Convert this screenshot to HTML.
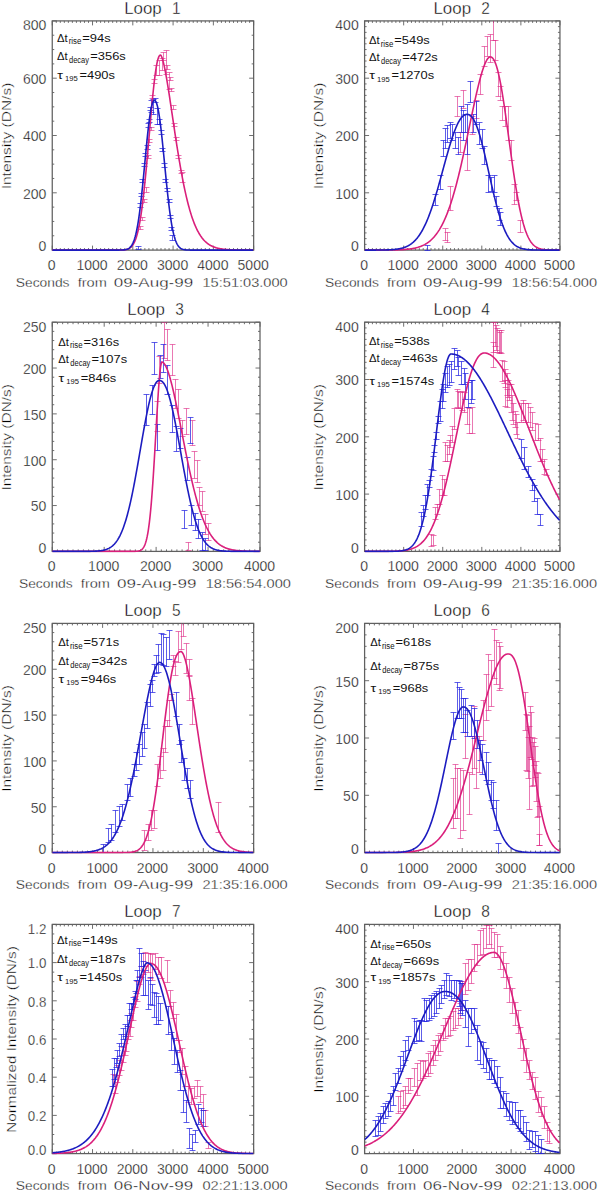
<!DOCTYPE html><html><head><meta charset="utf-8"><title>Loops</title><style>html,body{margin:0;padding:0;background:#fff;overflow:hidden}svg{display:block}text{font-family:"Liberation Sans",sans-serif}</style></head><body>
<svg width="600" height="1190" viewBox="0 0 600 1190">
<rect width="600" height="1190" fill="#fff"/>
<g><clipPath id="c1"><rect x="52.25" y="20.9" width="201.4" height="230.2"/></clipPath><rect x="52.25" y="20.9" width="201.4" height="229.2" fill="none" stroke="#606060" stroke-width="1.25"/><path d="M52.25,250.1v-4.5M52.25,20.9v4.5M56.28,250.1v-2.0M56.28,20.9v2.0M60.31,250.1v-2.0M60.31,20.9v2.0M64.33,250.1v-2.0M64.33,20.9v2.0M68.36,250.1v-2.0M68.36,20.9v2.0M72.39,250.1v-2.0M72.39,20.9v2.0M76.42,250.1v-2.0M76.42,20.9v2.0M80.45,250.1v-2.0M80.45,20.9v2.0M84.47,250.1v-2.0M84.47,20.9v2.0M88.5,250.1v-2.0M88.5,20.9v2.0M92.53,250.1v-4.5M92.53,20.9v4.5M96.56,250.1v-2.0M96.56,20.9v2.0M100.59,250.1v-2.0M100.59,20.9v2.0M104.61,250.1v-2.0M104.61,20.9v2.0M108.64,250.1v-2.0M108.64,20.9v2.0M112.67,250.1v-2.0M112.67,20.9v2.0M116.7,250.1v-2.0M116.7,20.9v2.0M120.73,250.1v-2.0M120.73,20.9v2.0M124.75,250.1v-2.0M124.75,20.9v2.0M128.78,250.1v-2.0M128.78,20.9v2.0M132.81,250.1v-4.5M132.81,20.9v4.5M136.84,250.1v-2.0M136.84,20.9v2.0M140.87,250.1v-2.0M140.87,20.9v2.0M144.89,250.1v-2.0M144.89,20.9v2.0M148.92,250.1v-2.0M148.92,20.9v2.0M152.95,250.1v-2.0M152.95,20.9v2.0M156.98,250.1v-2.0M156.98,20.9v2.0M161.01,250.1v-2.0M161.01,20.9v2.0M165.03,250.1v-2.0M165.03,20.9v2.0M169.06,250.1v-2.0M169.06,20.9v2.0M173.09,250.1v-4.5M173.09,20.9v4.5M177.12,250.1v-2.0M177.12,20.9v2.0M181.15,250.1v-2.0M181.15,20.9v2.0M185.17,250.1v-2.0M185.17,20.9v2.0M189.2,250.1v-2.0M189.2,20.9v2.0M193.23,250.1v-2.0M193.23,20.9v2.0M197.26,250.1v-2.0M197.26,20.9v2.0M201.29,250.1v-2.0M201.29,20.9v2.0M205.31,250.1v-2.0M205.31,20.9v2.0M209.34,250.1v-2.0M209.34,20.9v2.0M213.37,250.1v-4.5M213.37,20.9v4.5M217.4,250.1v-2.0M217.4,20.9v2.0M221.43,250.1v-2.0M221.43,20.9v2.0M225.45,250.1v-2.0M225.45,20.9v2.0M229.48,250.1v-2.0M229.48,20.9v2.0M233.51,250.1v-2.0M233.51,20.9v2.0M237.54,250.1v-2.0M237.54,20.9v2.0M241.57,250.1v-2.0M241.57,20.9v2.0M245.59,250.1v-2.0M245.59,20.9v2.0M249.62,250.1v-2.0M249.62,20.9v2.0M253.65,250.1v-4.5M253.65,20.9v4.5M52.25,250.1h4.5M253.65,250.1h-4.5M52.25,235.78h2.0M253.65,235.78h-2.0M52.25,221.45h2.0M253.65,221.45h-2.0M52.25,207.12h2.0M253.65,207.12h-2.0M52.25,192.8h4.5M253.65,192.8h-4.5M52.25,178.47h2.0M253.65,178.47h-2.0M52.25,164.15h2.0M253.65,164.15h-2.0M52.25,149.82h2.0M253.65,149.82h-2.0M52.25,135.5h4.5M253.65,135.5h-4.5M52.25,121.18h2.0M253.65,121.18h-2.0M52.25,106.85h2.0M253.65,106.85h-2.0M52.25,92.53h2.0M253.65,92.53h-2.0M52.25,78.2h4.5M253.65,78.2h-4.5M52.25,63.88h2.0M253.65,63.88h-2.0M52.25,49.55h2.0M253.65,49.55h-2.0M52.25,35.22h2.0M253.65,35.22h-2.0M52.25,20.9h4.5M253.65,20.9h-4.5" stroke="#606060" stroke-width="0.9" fill="none"/><path d="M140.5,226.5V229.5M137.5,226.5h6M137.5,229.5h6M142.5,217.5V220.5M139.5,217.5h6M139.5,220.5h6M144.5,199.5V202.5M141.5,199.5h6M141.5,202.5h6M146.5,187.5V192.5M143.5,187.5h6M143.5,192.5h6M148.5,155.5V158.5M145.5,155.5h6M145.5,158.5h6M149.5,139.5V142.5M146.5,139.5h6M146.5,142.5h6M151.5,127.5V130.5M148.5,127.5h6M148.5,130.5h6M152.5,95.5V98.5M149.5,95.5h6M149.5,98.5h6M154.5,79.5V83.5M151.5,79.5h6M151.5,83.5h6M156.5,65.5V75.5M153.5,65.5h6M153.5,75.5h6M159.5,60.5V75.5M156.5,60.5h6M156.5,75.5h6M162.5,58.5V70.5M159.5,58.5h6M159.5,70.5h6M163.5,52.5V60.5M160.5,52.5h6M160.5,60.5h6M166.5,50.5V74.5M163.5,50.5h6M163.5,74.5h6M167.5,65.5V69.5M164.5,65.5h6M164.5,69.5h6M169.5,72.5V89.5M166.5,72.5h6M166.5,89.5h6M170.5,77.5V80.5M167.5,77.5h6M167.5,80.5h6M171.5,88.5V91.5M168.5,88.5h6M168.5,91.5h6M173.5,105.5V109.5M170.5,105.5h6M170.5,109.5h6M174.5,123.5V126.5M171.5,123.5h6M171.5,126.5h6M176.5,137.5V140.5M173.5,137.5h6M173.5,140.5h6M178.5,155.5V158.5M175.5,155.5h6M175.5,158.5h6M181.5,170.5V173.5M178.5,170.5h6M178.5,173.5h6M182.5,172.5V182.5M179.5,172.5h6M179.5,182.5h6" fill="none" stroke="#dc1f80" stroke-opacity="0.6" stroke-width="1.0" clip-path="url(#c1)"/><path d="M138.5,246.5V249.5M135.5,246.5h6M135.5,249.5h6M140.5,203.5V207.5M137.5,203.5h6M137.5,207.5h6M141.5,193.5V196.5M138.5,193.5h6M138.5,196.5h6M142.5,179.5V182.5M139.5,179.5h6M139.5,182.5h6M144.5,163.5V166.5M141.5,163.5h6M141.5,166.5h6M145.5,153.5V156.5M142.5,153.5h6M142.5,156.5h6M147.5,145.5V149.5M144.5,145.5h6M144.5,149.5h6M148.5,123.5V127.5M145.5,123.5h6M145.5,127.5h6M149.5,119.5V122.5M146.5,119.5h6M146.5,122.5h6M150.5,107.5V110.5M147.5,107.5h6M147.5,110.5h6M151.5,100.5V112.5M148.5,100.5h6M148.5,112.5h6M153.5,99.5V114.5M150.5,99.5h6M150.5,114.5h6M155.5,98.5V102.5M152.5,98.5h6M152.5,102.5h6M157.5,108.5V124.5M154.5,108.5h6M154.5,124.5h6M159.5,119.5V124.5M156.5,119.5h6M156.5,124.5h6M161.5,130.5V134.5M158.5,130.5h6M158.5,134.5h6M162.5,148.5V151.5M159.5,148.5h6M159.5,151.5h6M164.5,163.5V167.5M161.5,163.5h6M161.5,167.5h6M165.5,179.5V182.5M162.5,179.5h6M162.5,182.5h6M167.5,188.5V191.5M164.5,188.5h6M164.5,191.5h6M169.5,199.5V202.5M166.5,199.5h6M166.5,202.5h6M170.5,215.5V218.5M167.5,215.5h6M167.5,218.5h6M171.5,227.5V230.5M168.5,227.5h6M168.5,230.5h6M172.5,235.5V240.5M169.5,235.5h6M169.5,240.5h6" fill="none" stroke="#2020e0" stroke-opacity="0.72" stroke-width="1.0" clip-path="url(#c1)"/><path d="M52.25,250.1L52.75,250.1L53.25,250.1L53.75,250.1L54.25,250.1L54.75,250.1L55.25,250.1L55.75,250.1L56.25,250.1L56.75,250.1L57.25,250.1L57.75,250.1L58.25,250.1L58.75,250.1L59.25,250.1L59.75,250.1L60.25,250.1L60.75,250.1L61.25,250.1L61.75,250.1L62.25,250.1L62.75,250.1L63.25,250.1L63.75,250.1L64.25,250.1L64.75,250.1L65.25,250.1L65.75,250.1L66.25,250.1L66.75,250.1L67.25,250.1L67.75,250.1L68.25,250.1L68.75,250.1L69.25,250.1L69.75,250.1L70.25,250.1L70.75,250.1L71.25,250.1L71.75,250.1L72.25,250.1L72.75,250.1L73.25,250.1L73.75,250.1L74.25,250.1L74.75,250.1L75.25,250.1L75.75,250.1L76.25,250.1L76.75,250.1L77.25,250.1L77.75,250.1L78.25,250.1L78.75,250.1L79.25,250.1L79.75,250.1L80.25,250.1L80.75,250.1L81.25,250.1L81.75,250.1L82.25,250.1L82.75,250.1L83.25,250.1L83.75,250.1L84.25,250.1L84.75,250.1L85.25,250.1L85.75,250.1L86.25,250.1L86.75,250.1L87.25,250.1L87.75,250.1L88.25,250.1L88.75,250.1L89.25,250.1L89.75,250.1L90.25,250.1L90.75,250.1L91.25,250.1L91.75,250.1L92.25,250.1L92.75,250.1L93.25,250.1L93.75,250.1L94.25,250.1L94.75,250.1L95.25,250.1L95.75,250.1L96.25,250.1L96.75,250.1L97.25,250.1L97.75,250.1L98.25,250.1L98.75,250.1L99.25,250.1L99.75,250.1L100.25,250.1L100.75,250.1L101.25,250.1L101.75,250.1L102.25,250.1L102.75,250.1L103.25,250.1L103.75,250.1L104.25,250.1L104.75,250.1L105.25,250.1L105.75,250.1L106.25,250.1L106.75,250.1L107.25,250.1L107.75,250.1L108.25,250.1L108.75,250.1L109.25,250.1L109.75,250.1L110.25,250.1L110.75,250.1L111.25,250.1L111.75,250.1L112.25,250.1L112.75,250.1L113.25,250.1L113.75,250.1L114.25,250.1L114.75,250.1L115.25,250.09L115.75,250.09L116.25,250.09L116.75,250.09L117.25,250.09L117.75,250.08L118.25,250.08L118.75,250.07L119.25,250.06L119.75,250.05L120.25,250.04L120.75,250.03L121.25,250.01L121.75,249.99L122.25,249.97L122.75,249.94L123.25,249.9L123.75,249.86L124.25,249.8L124.75,249.74L125.25,249.67L125.75,249.58L126.25,249.48L126.75,249.36L127.25,249.21L127.75,249.05L128.25,248.85L128.75,248.62L129.25,248.36L129.75,248.06L130.25,247.71L130.75,247.31L131.25,246.85L131.75,246.32L132.25,245.73L132.75,245.06L133.25,244.3L133.75,243.45L134.25,242.49L134.75,241.42L135.25,240.23L135.75,238.91L136.25,237.45L136.75,235.84L137.25,234.07L137.75,232.13L138.25,230.02L138.75,227.72L139.25,225.23L139.75,222.53L140.25,219.63L140.75,216.52L141.25,213.2L141.75,209.66L142.25,205.9L142.75,201.93L143.25,197.74L143.75,193.35L144.25,188.75L144.75,183.96L145.25,178.99L145.75,173.85L146.25,168.55L146.75,163.12L147.25,157.57L147.75,151.93L148.25,146.21L148.75,140.45L149.25,134.66L149.75,128.88L150.25,123.13L150.75,117.45L151.25,111.86L151.75,106.39L152.25,101.07L152.75,95.94L153.25,91.01L153.75,86.32L154.25,81.89L154.75,77.74L155.25,73.91L155.75,70.4L156.25,67.23L156.75,64.41L157.25,61.96L157.75,59.89L158.25,58.19L158.75,56.87L159.25,55.91L159.75,55.3L160.25,55.03L160.75,55.15L161.25,55.88L161.75,56.98L162.25,58.37L162.75,60.02L163.25,61.89L163.75,63.95L164.25,66.19L164.75,68.58L165.25,71.12L165.75,73.78L166.25,76.55L166.75,79.42L167.25,82.39L167.75,85.43L168.25,88.55L168.75,91.72L169.25,94.95L169.75,98.22L170.25,101.53L170.75,104.86L171.25,108.22L171.75,111.59L172.25,114.96L172.75,118.34L173.25,121.72L173.75,125.08L174.25,128.43L174.75,131.77L175.25,135.08L175.75,138.36L176.25,141.61L176.75,144.82L177.25,148L177.75,151.14L178.25,154.23L178.75,157.28L179.25,160.28L179.75,163.22L180.25,166.12L180.75,168.96L181.25,171.74L181.75,174.47L182.25,177.14L182.75,179.75L183.25,182.3L183.75,184.79L184.25,187.22L184.75,189.58L185.25,191.89L185.75,194.13L186.25,196.32L186.75,198.44L187.25,200.5L187.75,202.5L188.25,204.45L188.75,206.33L189.25,208.15L189.75,209.92L190.25,211.62L190.75,213.28L191.25,214.87L191.75,216.41L192.25,217.9L192.75,219.34L193.25,220.72L193.75,222.05L194.25,223.34L194.75,224.58L195.25,225.76L195.75,226.91L196.25,228.01L196.75,229.06L197.25,230.08L197.75,231.05L198.25,231.98L198.75,232.87L199.25,233.73L199.75,234.55L200.25,235.33L200.75,236.08L201.25,236.8L201.75,237.49L202.25,238.14L202.75,238.77L203.25,239.36L203.75,239.93L204.25,240.47L204.75,240.99L205.25,241.48L205.75,241.95L206.25,242.4L206.75,242.82L207.25,243.23L207.75,243.61L208.25,243.98L208.75,244.32L209.25,244.65L209.75,244.96L210.25,245.26L210.75,245.54L211.25,245.8L211.75,246.05L212.25,246.29L212.75,246.52L213.25,246.73L213.75,246.93L214.25,247.12L214.75,247.3L215.25,247.47L215.75,247.63L216.25,247.79L216.75,247.93L217.25,248.06L217.75,248.19L218.25,248.31L218.75,248.42L219.25,248.53L219.75,248.63L220.25,248.72L220.75,248.81L221.25,248.9L221.75,248.97L222.25,249.05L222.75,249.12L223.25,249.18L223.75,249.24L224.25,249.3L224.75,249.35L225.25,249.4L225.75,249.45L226.25,249.49L226.75,249.54L227.25,249.57L227.75,249.61L228.25,249.64L228.75,249.68L229.25,249.7L229.75,249.73L230.25,249.76L230.75,249.78L231.25,249.8L231.75,249.83L232.25,249.85L232.75,249.86L233.25,249.88L233.75,249.9L234.25,249.91L234.75,249.92L235.25,249.94L235.75,249.95L236.25,249.96L236.75,249.97L237.25,249.98L237.75,249.99L238.25,250L238.75,250.01L239.25,250.01L239.75,250.02L240.25,250.03L240.75,250.03L241.25,250.04L241.75,250.04L242.25,250.05L242.75,250.05L243.25,250.05L243.75,250.06L244.25,250.06L244.75,250.06L245.25,250.07L245.75,250.07L246.25,250.07L246.75,250.07L247.25,250.08L247.75,250.08L248.25,250.08L248.75,250.08L249.25,250.08L249.75,250.08L250.25,250.09L250.75,250.09L251.25,250.09L251.75,250.09L252.25,250.09L252.75,250.09L253.25,250.09" fill="none" stroke="#da1f7b" stroke-width="1.6" clip-path="url(#c1)"/><path d="M52.25,250.1L52.75,250.1L53.25,250.1L53.75,250.1L54.25,250.1L54.75,250.1L55.25,250.1L55.75,250.1L56.25,250.1L56.75,250.1L57.25,250.1L57.75,250.1L58.25,250.1L58.75,250.1L59.25,250.1L59.75,250.1L60.25,250.1L60.75,250.1L61.25,250.1L61.75,250.1L62.25,250.1L62.75,250.1L63.25,250.1L63.75,250.1L64.25,250.1L64.75,250.1L65.25,250.1L65.75,250.1L66.25,250.1L66.75,250.1L67.25,250.1L67.75,250.1L68.25,250.1L68.75,250.1L69.25,250.1L69.75,250.1L70.25,250.1L70.75,250.1L71.25,250.1L71.75,250.1L72.25,250.1L72.75,250.1L73.25,250.1L73.75,250.1L74.25,250.1L74.75,250.1L75.25,250.1L75.75,250.1L76.25,250.1L76.75,250.1L77.25,250.1L77.75,250.1L78.25,250.1L78.75,250.1L79.25,250.1L79.75,250.1L80.25,250.1L80.75,250.1L81.25,250.1L81.75,250.1L82.25,250.1L82.75,250.1L83.25,250.1L83.75,250.1L84.25,250.1L84.75,250.1L85.25,250.1L85.75,250.1L86.25,250.1L86.75,250.1L87.25,250.1L87.75,250.1L88.25,250.1L88.75,250.1L89.25,250.1L89.75,250.1L90.25,250.1L90.75,250.1L91.25,250.1L91.75,250.1L92.25,250.1L92.75,250.1L93.25,250.1L93.75,250.1L94.25,250.1L94.75,250.1L95.25,250.1L95.75,250.1L96.25,250.1L96.75,250.1L97.25,250.1L97.75,250.1L98.25,250.1L98.75,250.1L99.25,250.1L99.75,250.1L100.25,250.1L100.75,250.1L101.25,250.1L101.75,250.1L102.25,250.1L102.75,250.1L103.25,250.1L103.75,250.1L104.25,250.1L104.75,250.1L105.25,250.1L105.75,250.1L106.25,250.1L106.75,250.1L107.25,250.1L107.75,250.1L108.25,250.1L108.75,250.1L109.25,250.1L109.75,250.1L110.25,250.1L110.75,250.1L111.25,250.1L111.75,250.1L112.25,250.1L112.75,250.1L113.25,250.1L113.75,250.1L114.25,250.1L114.75,250.1L115.25,250.1L115.75,250.1L116.25,250.1L116.75,250.09L117.25,250.09L117.75,250.09L118.25,250.09L118.75,250.08L119.25,250.08L119.75,250.07L120.25,250.06L120.75,250.05L121.25,250.04L121.75,250.02L122.25,250L122.75,249.97L123.25,249.93L123.75,249.89L124.25,249.84L124.75,249.77L125.25,249.69L125.75,249.59L126.25,249.47L126.75,249.33L127.25,249.15L127.75,248.95L128.25,248.7L128.75,248.4L129.25,248.06L129.75,247.65L130.25,247.18L130.75,246.63L131.25,245.99L131.75,245.25L132.25,244.4L132.75,243.44L133.25,242.34L133.75,241.1L134.25,239.7L134.75,238.14L135.25,236.39L135.75,234.46L136.25,232.32L136.75,229.97L137.25,227.4L137.75,224.6L138.25,221.57L138.75,218.31L139.25,214.81L139.75,211.07L140.25,207.11L140.75,202.93L141.25,198.54L141.75,193.96L142.25,189.2L142.75,184.28L143.25,179.23L143.75,174.08L144.25,168.85L144.75,163.58L145.25,158.31L145.75,153.06L146.25,147.88L146.75,142.8L147.25,137.87L147.75,133.12L148.25,128.58L148.75,124.3L149.25,120.3L149.75,116.61L150.25,113.27L150.75,110.3L151.25,107.7L151.75,105.5L152.25,103.71L152.75,102.33L153.25,101.34L153.75,100.75L154.25,100.51L154.75,100.55L155.25,100.85L155.75,101.46L156.25,102.42L156.75,103.73L157.25,105.41L157.75,107.46L158.25,109.88L158.75,112.65L159.25,115.76L159.75,119.2L160.25,122.94L160.75,126.96L161.25,131.23L161.75,135.73L162.25,140.42L162.75,145.26L163.25,150.23L163.75,155.28L164.25,160.39L164.75,165.51L165.25,170.63L165.75,175.7L166.25,180.69L166.75,185.58L167.25,190.35L167.75,194.97L168.25,199.41L168.75,203.68L169.25,207.74L169.75,211.59L170.25,215.23L170.75,218.64L171.25,221.83L171.75,224.79L172.25,227.53L172.75,230.05L173.25,232.36L173.75,234.47L174.25,236.38L174.75,238.11L175.25,239.66L175.75,241.04L176.25,242.28L176.75,243.37L177.25,244.34L177.75,245.18L178.25,245.92L178.75,246.56L179.25,247.12L179.75,247.6L180.25,248.01L180.75,248.36L181.25,248.66L181.75,248.91L182.25,249.12L182.75,249.3L183.25,249.45L183.75,249.57L184.25,249.67L184.75,249.76L185.25,249.83L185.75,249.88L186.25,249.93L186.75,249.96L187.25,249.99L187.75,250.02L188.25,250.03L188.75,250.05L189.25,250.06L189.75,250.07L190.25,250.08L190.75,250.08L191.25,250.09L191.75,250.09L192.25,250.09L192.75,250.09L193.25,250.1L193.75,250.1L194.25,250.1L194.75,250.1L195.25,250.1L195.75,250.1L196.25,250.1L196.75,250.1L197.25,250.1L197.75,250.1L198.25,250.1L198.75,250.1L199.25,250.1L199.75,250.1L200.25,250.1L200.75,250.1L201.25,250.1L201.75,250.1L202.25,250.1L202.75,250.1L203.25,250.1L203.75,250.1L204.25,250.1L204.75,250.1L205.25,250.1L205.75,250.1L206.25,250.1L206.75,250.1L207.25,250.1L207.75,250.1L208.25,250.1L208.75,250.1L209.25,250.1L209.75,250.1L210.25,250.1L210.75,250.1L211.25,250.1L211.75,250.1L212.25,250.1L212.75,250.1L213.25,250.1L213.75,250.1L214.25,250.1L214.75,250.1L215.25,250.1L215.75,250.1L216.25,250.1L216.75,250.1L217.25,250.1L217.75,250.1L218.25,250.1L218.75,250.1L219.25,250.1L219.75,250.1L220.25,250.1L220.75,250.1L221.25,250.1L221.75,250.1L222.25,250.1L222.75,250.1L223.25,250.1L223.75,250.1L224.25,250.1L224.75,250.1L225.25,250.1L225.75,250.1L226.25,250.1L226.75,250.1L227.25,250.1L227.75,250.1L228.25,250.1L228.75,250.1L229.25,250.1L229.75,250.1L230.25,250.1L230.75,250.1L231.25,250.1L231.75,250.1L232.25,250.1L232.75,250.1L233.25,250.1L233.75,250.1L234.25,250.1L234.75,250.1L235.25,250.1L235.75,250.1L236.25,250.1L236.75,250.1L237.25,250.1L237.75,250.1L238.25,250.1L238.75,250.1L239.25,250.1L239.75,250.1L240.25,250.1L240.75,250.1L241.25,250.1L241.75,250.1L242.25,250.1L242.75,250.1L243.25,250.1L243.75,250.1L244.25,250.1L244.75,250.1L245.25,250.1L245.75,250.1L246.25,250.1L246.75,250.1L247.25,250.1L247.75,250.1L248.25,250.1L248.75,250.1L249.25,250.1L249.75,250.1L250.25,250.1L250.75,250.1L251.25,250.1L251.75,250.1L252.25,250.1L252.75,250.1L253.25,250.1" fill="none" stroke="#1c1cc0" stroke-width="1.6" clip-path="url(#c1)"/><text x="51.75" y="270.1" font-size="14.2" fill="#000" text-anchor="middle" textLength="7.8" lengthAdjust="spacingAndGlyphs" stroke="#fff" stroke-width="0.35">0</text><text x="92.03" y="270.1" font-size="14.2" fill="#000" text-anchor="middle" textLength="31.2" lengthAdjust="spacingAndGlyphs" stroke="#fff" stroke-width="0.35">1000</text><text x="132.31" y="270.1" font-size="14.2" fill="#000" text-anchor="middle" textLength="31.2" lengthAdjust="spacingAndGlyphs" stroke="#fff" stroke-width="0.35">2000</text><text x="172.59" y="270.1" font-size="14.2" fill="#000" text-anchor="middle" textLength="31.2" lengthAdjust="spacingAndGlyphs" stroke="#fff" stroke-width="0.35">3000</text><text x="212.87" y="270.1" font-size="14.2" fill="#000" text-anchor="middle" textLength="31.2" lengthAdjust="spacingAndGlyphs" stroke="#fff" stroke-width="0.35">4000</text><text x="253.15" y="270.1" font-size="14.2" fill="#000" text-anchor="middle" textLength="31.2" lengthAdjust="spacingAndGlyphs" stroke="#fff" stroke-width="0.35">5000</text><text x="46.35" y="251.2" font-size="14.2" fill="#000" text-anchor="end" textLength="7.8" lengthAdjust="spacingAndGlyphs" stroke="#fff" stroke-width="0.35">0</text><text x="46.35" y="198.6" font-size="14.2" fill="#000" text-anchor="end" textLength="23.4" lengthAdjust="spacingAndGlyphs" stroke="#fff" stroke-width="0.35">200</text><text x="46.35" y="141.3" font-size="14.2" fill="#000" text-anchor="end" textLength="23.4" lengthAdjust="spacingAndGlyphs" stroke="#fff" stroke-width="0.35">400</text><text x="46.35" y="84" font-size="14.2" fill="#000" text-anchor="end" textLength="23.4" lengthAdjust="spacingAndGlyphs" stroke="#fff" stroke-width="0.35">600</text><text x="46.35" y="30.4" font-size="14.2" fill="#000" text-anchor="end" textLength="23.4" lengthAdjust="spacingAndGlyphs" stroke="#fff" stroke-width="0.35">800</text><text x="124.15" y="13.8" font-size="15.6" fill="#000" textLength="37.6" lengthAdjust="spacingAndGlyphs" stroke="#fff" stroke-width="0.35">Loop</text><text x="176.25" y="13.8" font-size="15.6" fill="#000" text-anchor="middle" textLength="8.6" lengthAdjust="spacingAndGlyphs" stroke="#fff" stroke-width="0.35">1</text><text x="15.8" y="286.5" font-size="13.2" fill="#000" textLength="53.7" lengthAdjust="spacingAndGlyphs" stroke="#fff" stroke-width="0.35">Seconds</text><text x="77.7" y="286.5" font-size="13.2" fill="#000" textLength="29.1" lengthAdjust="spacingAndGlyphs" stroke="#fff" stroke-width="0.35">from</text><text x="113.8" y="286.5" font-size="13.2" fill="#000" textLength="79.4" lengthAdjust="spacingAndGlyphs" stroke="#fff" stroke-width="0.35">09-Aug-99</text><text x="202.5" y="286.5" font-size="13.2" fill="#000" textLength="85.2" lengthAdjust="spacingAndGlyphs" stroke="#fff" stroke-width="0.35">15:51:03.000</text><text x="0" y="0" font-size="12.9" fill="#000" text-anchor="middle" textLength="106.6" lengthAdjust="spacingAndGlyphs" stroke="#fff" stroke-width="0.35" transform="translate(10.9,136) rotate(-90)">Intensity (DN/s)</text><text x="57" y="41.7" font-size="10.9" fill="#111" textLength="10.7" lengthAdjust="spacingAndGlyphs">&#916;t</text><text x="68.7" y="44.3" font-size="8.3" fill="#111" textLength="12.6" lengthAdjust="spacingAndGlyphs">rise</text><text x="82.3" y="41.7" font-size="10.9" fill="#111" textLength="28.4" lengthAdjust="spacingAndGlyphs">=94s</text><text x="57" y="59.7" font-size="10.9" fill="#111" textLength="10.7" lengthAdjust="spacingAndGlyphs">&#916;t</text><text x="69" y="62.7" font-size="8.3" fill="#111" textLength="20" lengthAdjust="spacingAndGlyphs">decay</text><text x="90.3" y="59.7" font-size="10.9" fill="#111" textLength="35.5" lengthAdjust="spacingAndGlyphs">=356s</text><text x="57.3" y="78.7" font-size="10.9" fill="#111" textLength="5.7" lengthAdjust="spacingAndGlyphs">&#964;</text><text x="65" y="81.3" font-size="7.6" fill="#111" textLength="12.7" lengthAdjust="spacingAndGlyphs">195</text><text x="79.5" y="78.7" font-size="10.9" fill="#111" textLength="35.5" lengthAdjust="spacingAndGlyphs">=490s</text></g>
<g><clipPath id="c2"><rect x="364.6" y="20.9" width="195.35" height="230.2"/></clipPath><rect x="364.6" y="20.9" width="195.35" height="229.2" fill="none" stroke="#606060" stroke-width="1.25"/><path d="M364.6,250.1v-4.5M364.6,20.9v4.5M368.51,250.1v-2.0M368.51,20.9v2.0M372.41,250.1v-2.0M372.41,20.9v2.0M376.32,250.1v-2.0M376.32,20.9v2.0M380.23,250.1v-2.0M380.23,20.9v2.0M384.14,250.1v-2.0M384.14,20.9v2.0M388.04,250.1v-2.0M388.04,20.9v2.0M391.95,250.1v-2.0M391.95,20.9v2.0M395.86,250.1v-2.0M395.86,20.9v2.0M399.76,250.1v-2.0M399.76,20.9v2.0M403.67,250.1v-4.5M403.67,20.9v4.5M407.58,250.1v-2.0M407.58,20.9v2.0M411.48,250.1v-2.0M411.48,20.9v2.0M415.39,250.1v-2.0M415.39,20.9v2.0M419.3,250.1v-2.0M419.3,20.9v2.0M423.21,250.1v-2.0M423.21,20.9v2.0M427.11,250.1v-2.0M427.11,20.9v2.0M431.02,250.1v-2.0M431.02,20.9v2.0M434.93,250.1v-2.0M434.93,20.9v2.0M438.83,250.1v-2.0M438.83,20.9v2.0M442.74,250.1v-4.5M442.74,20.9v4.5M446.65,250.1v-2.0M446.65,20.9v2.0M450.55,250.1v-2.0M450.55,20.9v2.0M454.46,250.1v-2.0M454.46,20.9v2.0M458.37,250.1v-2.0M458.37,20.9v2.0M462.28,250.1v-2.0M462.28,20.9v2.0M466.18,250.1v-2.0M466.18,20.9v2.0M470.09,250.1v-2.0M470.09,20.9v2.0M474,250.1v-2.0M474,20.9v2.0M477.9,250.1v-2.0M477.9,20.9v2.0M481.81,250.1v-4.5M481.81,20.9v4.5M485.72,250.1v-2.0M485.72,20.9v2.0M489.62,250.1v-2.0M489.62,20.9v2.0M493.53,250.1v-2.0M493.53,20.9v2.0M497.44,250.1v-2.0M497.44,20.9v2.0M501.35,250.1v-2.0M501.35,20.9v2.0M505.25,250.1v-2.0M505.25,20.9v2.0M509.16,250.1v-2.0M509.16,20.9v2.0M513.07,250.1v-2.0M513.07,20.9v2.0M516.97,250.1v-2.0M516.97,20.9v2.0M520.88,250.1v-4.5M520.88,20.9v4.5M524.79,250.1v-2.0M524.79,20.9v2.0M528.69,250.1v-2.0M528.69,20.9v2.0M532.6,250.1v-2.0M532.6,20.9v2.0M536.51,250.1v-2.0M536.51,20.9v2.0M540.42,250.1v-2.0M540.42,20.9v2.0M544.32,250.1v-2.0M544.32,20.9v2.0M548.23,250.1v-2.0M548.23,20.9v2.0M552.14,250.1v-2.0M552.14,20.9v2.0M556.04,250.1v-2.0M556.04,20.9v2.0M559.95,250.1v-4.5M559.95,20.9v4.5M364.6,250.1h4.5M559.95,250.1h-4.5M364.6,244.37h2.0M559.95,244.37h-2.0M364.6,238.64h2.0M559.95,238.64h-2.0M364.6,232.91h2.0M559.95,232.91h-2.0M364.6,227.18h2.0M559.95,227.18h-2.0M364.6,221.45h2.0M559.95,221.45h-2.0M364.6,215.72h2.0M559.95,215.72h-2.0M364.6,209.99h2.0M559.95,209.99h-2.0M364.6,204.26h2.0M559.95,204.26h-2.0M364.6,198.53h2.0M559.95,198.53h-2.0M364.6,192.8h4.5M559.95,192.8h-4.5M364.6,187.07h2.0M559.95,187.07h-2.0M364.6,181.34h2.0M559.95,181.34h-2.0M364.6,175.61h2.0M559.95,175.61h-2.0M364.6,169.88h2.0M559.95,169.88h-2.0M364.6,164.15h2.0M559.95,164.15h-2.0M364.6,158.42h2.0M559.95,158.42h-2.0M364.6,152.69h2.0M559.95,152.69h-2.0M364.6,146.96h2.0M559.95,146.96h-2.0M364.6,141.23h2.0M559.95,141.23h-2.0M364.6,135.5h4.5M559.95,135.5h-4.5M364.6,129.77h2.0M559.95,129.77h-2.0M364.6,124.04h2.0M559.95,124.04h-2.0M364.6,118.31h2.0M559.95,118.31h-2.0M364.6,112.58h2.0M559.95,112.58h-2.0M364.6,106.85h2.0M559.95,106.85h-2.0M364.6,101.12h2.0M559.95,101.12h-2.0M364.6,95.39h2.0M559.95,95.39h-2.0M364.6,89.66h2.0M559.95,89.66h-2.0M364.6,83.93h2.0M559.95,83.93h-2.0M364.6,78.2h4.5M559.95,78.2h-4.5M364.6,72.47h2.0M559.95,72.47h-2.0M364.6,66.74h2.0M559.95,66.74h-2.0M364.6,61.01h2.0M559.95,61.01h-2.0M364.6,55.28h2.0M559.95,55.28h-2.0M364.6,49.55h2.0M559.95,49.55h-2.0M364.6,43.82h2.0M559.95,43.82h-2.0M364.6,38.09h2.0M559.95,38.09h-2.0M364.6,32.36h2.0M559.95,32.36h-2.0M364.6,26.63h2.0M559.95,26.63h-2.0M364.6,20.9h4.5M559.95,20.9h-4.5" stroke="#606060" stroke-width="0.9" fill="none"/><path d="M445.5,228.5V240.5M442.5,228.5h6M442.5,240.5h6M447.5,232.5V242.5M444.5,232.5h6M444.5,242.5h6M450.5,186.5V210.5M447.5,186.5h6M447.5,210.5h6M457.5,96.5V116.5M454.5,96.5h6M454.5,116.5h6M460.5,132.5V152.5M457.5,132.5h6M457.5,152.5h6M463.5,90.5V108.5M460.5,90.5h6M460.5,108.5h6M467.5,132.5V170.5M464.5,132.5h6M464.5,170.5h6M472.5,116.5V134.5M469.5,116.5h6M469.5,134.5h6M476.5,100.5V118.5M473.5,100.5h6M473.5,118.5h6M480.5,74.5V94.5M477.5,74.5h6M477.5,94.5h6M484.5,46.5V66.5M481.5,46.5h6M481.5,66.5h6M487.5,36.5V56.5M484.5,36.5h6M484.5,56.5h6M490.5,34.5V62.5M487.5,34.5h6M487.5,62.5h6M493.5,20.5V40.5M490.5,20.5h6M490.5,40.5h6M495.5,40.5V60.5M492.5,40.5h6M492.5,60.5h6M498.5,72.5V96.5M495.5,72.5h6M495.5,96.5h6M500.5,86.5V100.5M497.5,86.5h6M497.5,100.5h6M502.5,106.5V120.5M499.5,106.5h6M499.5,120.5h6M505.5,106.5V126.5M502.5,106.5h6M502.5,126.5h6M508.5,106.5V140.5M505.5,106.5h6M505.5,140.5h6M511.5,140.5V160.5M508.5,140.5h6M508.5,160.5h6M514.5,184.5V204.5M511.5,184.5h6M511.5,204.5h6M516.5,192.5V200.5M513.5,192.5h6M513.5,200.5h6M520.5,220.5V232.5M517.5,220.5h6M517.5,232.5h6" fill="none" stroke="#dc1f80" stroke-opacity="0.6" stroke-width="1.0" clip-path="url(#c2)"/><path d="M427.5,245.5V250.5M424.5,245.5h6M424.5,250.5h6M435.5,194.5V205.5M432.5,194.5h6M432.5,205.5h6M440.5,175.5V189.5M437.5,175.5h6M437.5,189.5h6M443.5,140.5V156.5M440.5,140.5h6M440.5,156.5h6M445.5,128.5V148.5M442.5,128.5h6M442.5,148.5h6M447.5,125.5V142.5M444.5,125.5h6M444.5,142.5h6M450.5,122.5V138.5M447.5,122.5h6M447.5,138.5h6M452.5,124.5V140.5M449.5,124.5h6M449.5,140.5h6M455.5,132.5V148.5M452.5,132.5h6M452.5,148.5h6M458.5,137.5V154.5M455.5,137.5h6M455.5,154.5h6M461.5,106.5V132.5M458.5,106.5h6M458.5,132.5h6M463.5,110.5V140.5M460.5,110.5h6M460.5,140.5h6M465.5,114.5V132.5M462.5,114.5h6M462.5,132.5h6M467.5,104.5V154.5M464.5,104.5h6M464.5,154.5h6M470.5,81.5V102.5M467.5,81.5h6M467.5,102.5h6M473.5,114.5V132.5M470.5,114.5h6M470.5,132.5h6M476.5,101.5V124.5M473.5,101.5h6M473.5,124.5h6M479.5,122.5V144.5M476.5,122.5h6M476.5,144.5h6M482.5,129.5V148.5M479.5,129.5h6M479.5,148.5h6M484.5,146.5V164.5M481.5,146.5h6M481.5,164.5h6M488.5,175.5V192.5M485.5,175.5h6M485.5,192.5h6M491.5,177.5V191.5M488.5,177.5h6M488.5,191.5h6M494.5,175.5V192.5M491.5,175.5h6M491.5,192.5h6M496.5,196.5V206.5M493.5,196.5h6M493.5,206.5h6M499.5,208.5V220.5M496.5,208.5h6M496.5,220.5h6M500.5,212.5V225.5M497.5,212.5h6M497.5,225.5h6" fill="none" stroke="#2020e0" stroke-opacity="0.72" stroke-width="1.0" clip-path="url(#c2)"/><path d="M364.6,250.1L365.1,250.1L365.6,250.1L366.1,250.1L366.6,250.1L367.1,250.1L367.6,250.1L368.1,250.1L368.6,250.1L369.1,250.1L369.6,250.1L370.1,250.1L370.6,250.09L371.1,250.09L371.6,250.09L372.1,250.09L372.6,250.09L373.1,250.09L373.6,250.09L374.1,250.09L374.6,250.09L375.1,250.09L375.6,250.09L376.1,250.09L376.6,250.09L377.1,250.09L377.6,250.08L378.1,250.08L378.6,250.08L379.1,250.08L379.6,250.08L380.1,250.08L380.6,250.08L381.1,250.07L381.6,250.07L382.1,250.07L382.6,250.07L383.1,250.06L383.6,250.06L384.1,250.06L384.6,250.06L385.1,250.05L385.6,250.05L386.1,250.05L386.6,250.04L387.1,250.04L387.6,250.03L388.1,250.03L388.6,250.02L389.1,250.02L389.6,250.01L390.1,250.01L390.6,250L391.1,249.99L391.6,249.98L392.1,249.98L392.6,249.97L393.1,249.96L393.6,249.95L394.1,249.94L394.6,249.93L395.1,249.92L395.6,249.9L396.1,249.89L396.6,249.88L397.1,249.86L397.6,249.84L398.1,249.83L398.6,249.81L399.1,249.79L399.6,249.77L400.1,249.75L400.6,249.73L401.1,249.7L401.6,249.68L402.1,249.65L402.6,249.62L403.1,249.59L403.6,249.56L404.1,249.52L404.6,249.49L405.1,249.45L405.6,249.41L406.1,249.37L406.6,249.32L407.1,249.27L407.6,249.22L408.1,249.17L408.6,249.11L409.1,249.05L409.6,248.99L410.1,248.93L410.6,248.86L411.1,248.78L411.6,248.71L412.1,248.63L412.6,248.54L413.1,248.45L413.6,248.36L414.1,248.26L414.6,248.16L415.1,248.05L415.6,247.93L416.1,247.81L416.6,247.68L417.1,247.55L417.6,247.41L418.1,247.27L418.6,247.11L419.1,246.95L419.6,246.78L420.1,246.61L420.6,246.42L421.1,246.23L421.6,246.03L422.1,245.82L422.6,245.6L423.1,245.36L423.6,245.12L424.1,244.87L424.6,244.61L425.1,244.33L425.6,244.05L426.1,243.75L426.6,243.44L427.1,243.11L427.6,242.77L428.1,242.42L428.6,242.05L429.1,241.67L429.6,241.27L430.1,240.86L430.6,240.43L431.1,239.98L431.6,239.52L432.1,239.04L432.6,238.54L433.1,238.02L433.6,237.48L434.1,236.92L434.6,236.34L435.1,235.74L435.6,235.12L436.1,234.47L436.6,233.81L437.1,233.12L437.6,232.4L438.1,231.67L438.6,230.9L439.1,230.12L439.6,229.3L440.1,228.46L440.6,227.6L441.1,226.7L441.6,225.78L442.1,224.83L442.6,223.85L443.1,222.84L443.6,221.81L444.1,220.74L444.6,219.64L445.1,218.51L445.6,217.35L446.1,216.16L446.6,214.93L447.1,213.68L447.6,212.39L448.1,211.07L448.6,209.71L449.1,208.32L449.6,206.9L450.1,205.44L450.6,203.95L451.1,202.43L451.6,200.87L452.1,199.28L452.6,197.66L453.1,196L453.6,194.3L454.1,192.58L454.6,190.82L455.1,189.02L455.6,187.2L456.1,185.34L456.6,183.45L457.1,181.52L457.6,179.57L458.1,177.58L458.6,175.57L459.1,173.52L459.6,171.45L460.1,169.35L460.6,167.22L461.1,165.07L461.6,162.89L462.1,160.68L462.6,158.45L463.1,156.2L463.6,153.93L464.1,151.64L464.6,149.33L465.1,147.01L465.6,144.67L466.1,142.31L466.6,139.95L467.1,137.57L467.6,135.18L468.1,132.79L468.6,130.39L469.1,127.98L469.6,125.58L470.1,123.18L470.6,120.78L471.1,118.38L471.6,115.99L472.1,113.61L472.6,111.24L473.1,108.89L473.6,106.55L474.1,104.23L474.6,101.93L475.1,99.66L475.6,97.41L476.1,95.19L476.6,93L477.1,90.85L477.6,88.74L478.1,86.66L478.6,84.63L479.1,82.64L479.6,80.7L480.1,78.82L480.6,76.98L481.1,75.21L481.6,73.49L482.1,71.84L482.6,70.26L483.1,68.74L483.6,67.3L484.1,65.94L484.6,64.65L485.1,63.44L485.6,62.33L486.1,61.3L486.6,60.37L487.1,59.53L487.6,58.8L488.1,58.17L488.6,57.66L489.1,57.27L489.6,57.02L490.1,56.92L490.6,56.95L491.1,57.07L491.6,57.3L492.1,57.63L492.6,58.08L493.1,58.67L493.6,59.38L494.1,60.22L494.6,61.2L495.1,62.33L495.6,63.59L496.1,64.99L496.6,66.54L497.1,68.22L497.6,70.05L498.1,72.01L498.6,74.1L499.1,76.33L499.6,78.69L500.1,81.17L500.6,83.77L501.1,86.49L501.6,89.31L502.1,92.24L502.6,95.27L503.1,98.39L503.6,101.6L504.1,104.89L504.6,108.25L505.1,111.67L505.6,115.15L506.1,118.68L506.6,122.25L507.1,125.86L507.6,129.5L508.1,133.15L508.6,136.82L509.1,140.49L509.6,144.16L510.1,147.82L510.6,151.46L511.1,155.08L511.6,158.67L512.1,162.23L512.6,165.74L513.1,169.21L513.6,172.62L514.1,175.97L514.6,179.27L515.1,182.49L515.6,185.65L516.1,188.73L516.6,191.73L517.1,194.65L517.6,197.49L518.1,200.24L518.6,202.91L519.1,205.49L519.6,207.98L520.1,210.37L520.6,212.68L521.1,214.9L521.6,217.03L522.1,219.07L522.6,221.02L523.1,222.88L523.6,224.65L524.1,226.34L524.6,227.94L525.1,229.47L525.6,230.91L526.1,232.27L526.6,233.56L527.1,234.78L527.6,235.92L528.1,237L528.6,238.01L529.1,238.96L529.6,239.84L530.1,240.67L530.6,241.44L531.1,242.16L531.6,242.83L532.1,243.46L532.6,244.03L533.1,244.57L533.6,245.06L534.1,245.52L534.6,245.94L535.1,246.33L535.6,246.68L536.1,247.01L536.6,247.31L537.1,247.58L537.6,247.83L538.1,248.06L538.6,248.27L539.1,248.46L539.6,248.63L540.1,248.78L540.6,248.92L541.1,249.05L541.6,249.16L542.1,249.27L542.6,249.36L543.1,249.44L543.6,249.52L544.1,249.59L544.6,249.65L545.1,249.7L545.6,249.75L546.1,249.79L546.6,249.83L547.1,249.86L547.6,249.89L548.1,249.92L548.6,249.94L549.1,249.96L549.6,249.98L550.1,249.99L550.6,250.01L551.1,250.02L551.6,250.03L552.1,250.04L552.6,250.05L553.1,250.06L553.6,250.06L554.1,250.07L554.6,250.07L555.1,250.08L555.6,250.08L556.1,250.08L556.6,250.09L557.1,250.09L557.6,250.09L558.1,250.09L558.6,250.09L559.1,250.09L559.6,250.09" fill="none" stroke="#da1f7b" stroke-width="1.6" clip-path="url(#c2)"/><path d="M364.6,250.1L365.1,250.1L365.6,250.1L366.1,250.1L366.6,250.1L367.1,250.1L367.6,250.1L368.1,250.1L368.6,250.09L369.1,250.09L369.6,250.09L370.1,250.09L370.6,250.09L371.1,250.09L371.6,250.09L372.1,250.09L372.6,250.09L373.1,250.09L373.6,250.08L374.1,250.08L374.6,250.08L375.1,250.08L375.6,250.08L376.1,250.07L376.6,250.07L377.1,250.07L377.6,250.07L378.1,250.06L378.6,250.06L379.1,250.05L379.6,250.05L380.1,250.04L380.6,250.04L381.1,250.03L381.6,250.03L382.1,250.02L382.6,250.01L383.1,250L383.6,249.99L384.1,249.98L384.6,249.97L385.1,249.96L385.6,249.95L386.1,249.93L386.6,249.92L387.1,249.9L387.6,249.88L388.1,249.87L388.6,249.84L389.1,249.82L389.6,249.8L390.1,249.77L390.6,249.74L391.1,249.71L391.6,249.68L392.1,249.65L392.6,249.61L393.1,249.57L393.6,249.53L394.1,249.48L394.6,249.43L395.1,249.38L395.6,249.32L396.1,249.26L396.6,249.19L397.1,249.12L397.6,249.05L398.1,248.97L398.6,248.88L399.1,248.79L399.6,248.69L400.1,248.59L400.6,248.48L401.1,248.36L401.6,248.24L402.1,248.11L402.6,247.96L403.1,247.82L403.6,247.66L404.1,247.49L404.6,247.31L405.1,247.13L405.6,246.93L406.1,246.72L406.6,246.5L407.1,246.26L407.6,246.02L408.1,245.76L408.6,245.48L409.1,245.2L409.6,244.89L410.1,244.58L410.6,244.24L411.1,243.89L411.6,243.52L412.1,243.13L412.6,242.73L413.1,242.31L413.6,241.86L414.1,241.4L414.6,240.91L415.1,240.41L415.6,239.88L416.1,239.32L416.6,238.75L417.1,238.15L417.6,237.53L418.1,236.88L418.6,236.2L419.1,235.5L419.6,234.78L420.1,234.02L420.6,233.24L421.1,232.43L421.6,231.59L422.1,230.73L422.6,229.83L423.1,228.9L423.6,227.95L424.1,226.96L424.6,225.94L425.1,224.89L425.6,223.82L426.1,222.71L426.6,221.56L427.1,220.39L427.6,219.19L428.1,217.95L428.6,216.69L429.1,215.39L429.6,214.07L430.1,212.71L430.6,211.32L431.1,209.91L431.6,208.46L432.1,206.99L432.6,205.49L433.1,203.96L433.6,202.4L434.1,200.82L434.6,199.22L435.1,197.59L435.6,195.93L436.1,194.26L436.6,192.56L437.1,190.85L437.6,189.11L438.1,187.36L438.6,185.6L439.1,183.82L439.6,182.02L440.1,180.22L440.6,178.4L441.1,176.58L441.6,174.75L442.1,172.91L442.6,171.07L443.1,169.23L443.6,167.4L444.1,165.56L444.6,163.73L445.1,161.9L445.6,160.08L446.1,158.27L446.6,156.48L447.1,154.7L447.6,152.93L448.1,151.18L448.6,149.46L449.1,147.75L449.6,146.07L450.1,144.41L450.6,142.79L451.1,141.19L451.6,139.62L452.1,138.09L452.6,136.59L453.1,135.13L453.6,133.71L454.1,132.33L454.6,131L455.1,129.7L455.6,128.45L456.1,127.25L456.6,126.1L457.1,124.99L457.6,123.94L458.1,122.94L458.6,121.99L459.1,121.1L459.6,120.26L460.1,119.47L460.6,118.74L461.1,118.07L461.6,117.46L462.1,116.9L462.6,116.4L463.1,115.95L463.6,115.57L464.1,115.24L464.6,114.97L465.1,114.75L465.6,114.59L466.1,114.48L466.6,114.42L467.1,114.41L467.6,114.43L468.1,114.5L468.6,114.63L469.1,114.81L469.6,115.05L470.1,115.35L470.6,115.73L471.1,116.17L471.6,116.69L472.1,117.28L472.6,117.94L473.1,118.67L473.6,119.48L474.1,120.37L474.6,121.33L475.1,122.36L475.6,123.47L476.1,124.65L476.6,125.9L477.1,127.22L477.6,128.61L478.1,130.07L478.6,131.59L479.1,133.18L479.6,134.82L480.1,136.53L480.6,138.29L481.1,140.11L481.6,141.97L482.1,143.89L482.6,145.85L483.1,147.85L483.6,149.88L484.1,151.96L484.6,154.06L485.1,156.2L485.6,158.36L486.1,160.54L486.6,162.74L487.1,164.95L487.6,167.18L488.1,169.41L488.6,171.64L489.1,173.88L489.6,176.12L490.1,178.35L490.6,180.57L491.1,182.78L491.6,184.97L492.1,187.14L492.6,189.3L493.1,191.43L493.6,193.54L494.1,195.62L494.6,197.66L495.1,199.68L495.6,201.66L496.1,203.6L496.6,205.51L497.1,207.37L497.6,209.2L498.1,210.98L498.6,212.71L499.1,214.41L499.6,216.05L500.1,217.66L500.6,219.21L501.1,220.72L501.6,222.17L502.1,223.59L502.6,224.95L503.1,226.26L503.6,227.53L504.1,228.75L504.6,229.93L505.1,231.05L505.6,232.13L506.1,233.17L506.6,234.16L507.1,235.11L507.6,236.01L508.1,236.88L508.6,237.7L509.1,238.48L509.6,239.23L510.1,239.93L510.6,240.6L511.1,241.24L511.6,241.84L512.1,242.4L512.6,242.94L513.1,243.44L513.6,243.92L514.1,244.36L514.6,244.78L515.1,245.18L515.6,245.55L516.1,245.89L516.6,246.22L517.1,246.52L517.6,246.8L518.1,247.07L518.6,247.31L519.1,247.54L519.6,247.75L520.1,247.95L520.6,248.13L521.1,248.3L521.6,248.45L522.1,248.6L522.6,248.73L523.1,248.85L523.6,248.96L524.1,249.07L524.6,249.16L525.1,249.25L525.6,249.33L526.1,249.4L526.6,249.47L527.1,249.53L527.6,249.59L528.1,249.64L528.6,249.68L529.1,249.73L529.6,249.76L530.1,249.8L530.6,249.83L531.1,249.86L531.6,249.88L532.1,249.91L532.6,249.93L533.1,249.95L533.6,249.96L534.1,249.98L534.6,249.99L535.1,250L535.6,250.01L536.1,250.02L536.6,250.03L537.1,250.04L537.6,250.05L538.1,250.05L538.6,250.06L539.1,250.06L539.6,250.07L540.1,250.07L540.6,250.08L541.1,250.08L541.6,250.08L542.1,250.08L542.6,250.09L543.1,250.09L543.6,250.09L544.1,250.09L544.6,250.09L545.1,250.09L545.6,250.09L546.1,250.09L546.6,250.1L547.1,250.1L547.6,250.1L548.1,250.1L548.6,250.1L549.1,250.1L549.6,250.1L550.1,250.1L550.6,250.1L551.1,250.1L551.6,250.1L552.1,250.1L552.6,250.1L553.1,250.1L553.6,250.1L554.1,250.1L554.6,250.1L555.1,250.1L555.6,250.1L556.1,250.1L556.6,250.1L557.1,250.1L557.6,250.1L558.1,250.1L558.6,250.1L559.1,250.1L559.6,250.1" fill="none" stroke="#1c1cc0" stroke-width="1.6" clip-path="url(#c2)"/><text x="364.1" y="270.1" font-size="14.2" fill="#000" text-anchor="middle" textLength="7.8" lengthAdjust="spacingAndGlyphs" stroke="#fff" stroke-width="0.35">0</text><text x="403.17" y="270.1" font-size="14.2" fill="#000" text-anchor="middle" textLength="31.2" lengthAdjust="spacingAndGlyphs" stroke="#fff" stroke-width="0.35">1000</text><text x="442.24" y="270.1" font-size="14.2" fill="#000" text-anchor="middle" textLength="31.2" lengthAdjust="spacingAndGlyphs" stroke="#fff" stroke-width="0.35">2000</text><text x="481.31" y="270.1" font-size="14.2" fill="#000" text-anchor="middle" textLength="31.2" lengthAdjust="spacingAndGlyphs" stroke="#fff" stroke-width="0.35">3000</text><text x="520.38" y="270.1" font-size="14.2" fill="#000" text-anchor="middle" textLength="31.2" lengthAdjust="spacingAndGlyphs" stroke="#fff" stroke-width="0.35">4000</text><text x="559.45" y="270.1" font-size="14.2" fill="#000" text-anchor="middle" textLength="31.2" lengthAdjust="spacingAndGlyphs" stroke="#fff" stroke-width="0.35">5000</text><text x="358.7" y="251.2" font-size="14.2" fill="#000" text-anchor="end" textLength="7.8" lengthAdjust="spacingAndGlyphs" stroke="#fff" stroke-width="0.35">0</text><text x="358.7" y="198.6" font-size="14.2" fill="#000" text-anchor="end" textLength="23.4" lengthAdjust="spacingAndGlyphs" stroke="#fff" stroke-width="0.35">100</text><text x="358.7" y="141.3" font-size="14.2" fill="#000" text-anchor="end" textLength="23.4" lengthAdjust="spacingAndGlyphs" stroke="#fff" stroke-width="0.35">200</text><text x="358.7" y="84" font-size="14.2" fill="#000" text-anchor="end" textLength="23.4" lengthAdjust="spacingAndGlyphs" stroke="#fff" stroke-width="0.35">300</text><text x="358.7" y="30.4" font-size="14.2" fill="#000" text-anchor="end" textLength="23.4" lengthAdjust="spacingAndGlyphs" stroke="#fff" stroke-width="0.35">400</text><text x="433.48" y="13.8" font-size="15.6" fill="#000" textLength="37.6" lengthAdjust="spacingAndGlyphs" stroke="#fff" stroke-width="0.35">Loop</text><text x="485.58" y="13.8" font-size="15.6" fill="#000" text-anchor="middle" textLength="8.6" lengthAdjust="spacingAndGlyphs" stroke="#fff" stroke-width="0.35">2</text><text x="325.12" y="286.5" font-size="13.2" fill="#000" textLength="53.7" lengthAdjust="spacingAndGlyphs" stroke="#fff" stroke-width="0.35">Seconds</text><text x="387.03" y="286.5" font-size="13.2" fill="#000" textLength="29.1" lengthAdjust="spacingAndGlyphs" stroke="#fff" stroke-width="0.35">from</text><text x="423.13" y="286.5" font-size="13.2" fill="#000" textLength="79.4" lengthAdjust="spacingAndGlyphs" stroke="#fff" stroke-width="0.35">09-Aug-99</text><text x="511.83" y="286.5" font-size="13.2" fill="#000" textLength="85.2" lengthAdjust="spacingAndGlyphs" stroke="#fff" stroke-width="0.35">18:56:54.000</text><text x="0" y="0" font-size="12.9" fill="#000" text-anchor="middle" textLength="106.6" lengthAdjust="spacingAndGlyphs" stroke="#fff" stroke-width="0.35" transform="translate(323.25,136) rotate(-90)">Intensity (DN/s)</text><text x="369" y="44.3" font-size="10.9" fill="#111" textLength="10.7" lengthAdjust="spacingAndGlyphs">&#916;t</text><text x="380.7" y="46.9" font-size="8.3" fill="#111" textLength="12.6" lengthAdjust="spacingAndGlyphs">rise</text><text x="394.3" y="44.3" font-size="10.9" fill="#111" textLength="35.5" lengthAdjust="spacingAndGlyphs">=549s</text><text x="369" y="61.3" font-size="10.9" fill="#111" textLength="10.7" lengthAdjust="spacingAndGlyphs">&#916;t</text><text x="381" y="64.3" font-size="8.3" fill="#111" textLength="20" lengthAdjust="spacingAndGlyphs">decay</text><text x="402.3" y="61.3" font-size="10.9" fill="#111" textLength="35.5" lengthAdjust="spacingAndGlyphs">=472s</text><text x="369.3" y="79" font-size="10.9" fill="#111" textLength="5.7" lengthAdjust="spacingAndGlyphs">&#964;</text><text x="377" y="81.6" font-size="7.6" fill="#111" textLength="12.7" lengthAdjust="spacingAndGlyphs">195</text><text x="391.5" y="79" font-size="10.9" fill="#111" textLength="42.6" lengthAdjust="spacingAndGlyphs">=1270s</text></g>
<g><clipPath id="c3"><rect x="52.25" y="322.2" width="207.75" height="230.2"/></clipPath><rect x="52.25" y="322.2" width="207.75" height="229.2" fill="none" stroke="#606060" stroke-width="1.25"/><path d="M52.25,551.4v-4.5M52.25,322.2v4.5M57.44,551.4v-2.0M57.44,322.2v2.0M62.64,551.4v-2.0M62.64,322.2v2.0M67.83,551.4v-2.0M67.83,322.2v2.0M73.03,551.4v-2.0M73.03,322.2v2.0M78.22,551.4v-2.0M78.22,322.2v2.0M83.41,551.4v-2.0M83.41,322.2v2.0M88.61,551.4v-2.0M88.61,322.2v2.0M93.8,551.4v-2.0M93.8,322.2v2.0M98.99,551.4v-2.0M98.99,322.2v2.0M104.19,551.4v-4.5M104.19,322.2v4.5M109.38,551.4v-2.0M109.38,322.2v2.0M114.57,551.4v-2.0M114.57,322.2v2.0M119.77,551.4v-2.0M119.77,322.2v2.0M124.96,551.4v-2.0M124.96,322.2v2.0M130.16,551.4v-2.0M130.16,322.2v2.0M135.35,551.4v-2.0M135.35,322.2v2.0M140.54,551.4v-2.0M140.54,322.2v2.0M145.74,551.4v-2.0M145.74,322.2v2.0M150.93,551.4v-2.0M150.93,322.2v2.0M156.12,551.4v-4.5M156.12,322.2v4.5M161.32,551.4v-2.0M161.32,322.2v2.0M166.51,551.4v-2.0M166.51,322.2v2.0M171.71,551.4v-2.0M171.71,322.2v2.0M176.9,551.4v-2.0M176.9,322.2v2.0M182.09,551.4v-2.0M182.09,322.2v2.0M187.29,551.4v-2.0M187.29,322.2v2.0M192.48,551.4v-2.0M192.48,322.2v2.0M197.67,551.4v-2.0M197.67,322.2v2.0M202.87,551.4v-2.0M202.87,322.2v2.0M208.06,551.4v-4.5M208.06,322.2v4.5M213.26,551.4v-2.0M213.26,322.2v2.0M218.45,551.4v-2.0M218.45,322.2v2.0M223.64,551.4v-2.0M223.64,322.2v2.0M228.84,551.4v-2.0M228.84,322.2v2.0M234.03,551.4v-2.0M234.03,322.2v2.0M239.22,551.4v-2.0M239.22,322.2v2.0M244.42,551.4v-2.0M244.42,322.2v2.0M249.61,551.4v-2.0M249.61,322.2v2.0M254.81,551.4v-2.0M254.81,322.2v2.0M260,551.4v-4.5M260,322.2v4.5M52.25,551.4h4.5M260,551.4h-4.5M52.25,542.23h2.0M260,542.23h-2.0M52.25,533.06h2.0M260,533.06h-2.0M52.25,523.9h2.0M260,523.9h-2.0M52.25,514.73h2.0M260,514.73h-2.0M52.25,505.56h4.5M260,505.56h-4.5M52.25,496.39h2.0M260,496.39h-2.0M52.25,487.22h2.0M260,487.22h-2.0M52.25,478.06h2.0M260,478.06h-2.0M52.25,468.89h2.0M260,468.89h-2.0M52.25,459.72h4.5M260,459.72h-4.5M52.25,450.55h2.0M260,450.55h-2.0M52.25,441.38h2.0M260,441.38h-2.0M52.25,432.22h2.0M260,432.22h-2.0M52.25,423.05h2.0M260,423.05h-2.0M52.25,413.88h4.5M260,413.88h-4.5M52.25,404.71h2.0M260,404.71h-2.0M52.25,395.54h2.0M260,395.54h-2.0M52.25,386.38h2.0M260,386.38h-2.0M52.25,377.21h2.0M260,377.21h-2.0M52.25,368.04h4.5M260,368.04h-4.5M52.25,358.87h2.0M260,358.87h-2.0M52.25,349.7h2.0M260,349.7h-2.0M52.25,340.54h2.0M260,340.54h-2.0M52.25,331.37h2.0M260,331.37h-2.0M52.25,322.2h4.5M260,322.2h-4.5" stroke="#606060" stroke-width="0.9" fill="none"/><path d="M157.5,401.5V431.5M154.5,401.5h6M154.5,431.5h6M159.5,356.5V383.5M156.5,356.5h6M156.5,383.5h6M164.5,322.5V358.5M161.5,322.5h6M161.5,358.5h6M167.5,329.5V360.5M164.5,329.5h6M164.5,360.5h6M172.5,344.5V375.5M169.5,344.5h6M169.5,375.5h6M175.5,379.5V408.5M172.5,379.5h6M172.5,408.5h6M178.5,389.5V418.5M175.5,389.5h6M175.5,418.5h6M182.5,420.5V436.5M179.5,420.5h6M179.5,436.5h6M186.5,408.5V434.5M183.5,408.5h6M183.5,434.5h6M192.5,420.5V445.5M189.5,420.5h6M189.5,445.5h6M194.5,451.5V478.5M191.5,451.5h6M191.5,478.5h6M197.5,460.5V482.5M194.5,460.5h6M194.5,482.5h6M199.5,487.5V505.5M196.5,487.5h6M196.5,505.5h6M202.5,491.5V511.5M199.5,491.5h6M199.5,511.5h6M205.5,514.5V534.5M202.5,514.5h6M202.5,534.5h6M208.5,523.5V540.5M205.5,523.5h6M205.5,540.5h6M188.5,542.5V550.5M185.5,542.5h6M185.5,550.5h6" fill="none" stroke="#dc1f80" stroke-opacity="0.6" stroke-width="1.0" clip-path="url(#c3)"/><path d="M146.5,394.5V425.5M143.5,394.5h6M143.5,425.5h6M152.5,385.5V414.5M149.5,385.5h6M149.5,414.5h6M154.5,342.5V374.5M151.5,342.5h6M151.5,374.5h6M157.5,424.5V450.5M154.5,424.5h6M154.5,450.5h6M160.5,355.5V378.5M157.5,355.5h6M157.5,378.5h6M163.5,344.5V372.5M160.5,344.5h6M160.5,372.5h6M167.5,365.5V394.5M164.5,365.5h6M164.5,394.5h6M172.5,405.5V432.5M169.5,405.5h6M169.5,432.5h6M176.5,426.5V451.5M173.5,426.5h6M173.5,451.5h6M180.5,428.5V448.5M177.5,428.5h6M177.5,448.5h6M187.5,457.5V480.5M184.5,457.5h6M184.5,480.5h6M190.5,417.5V443.5M187.5,417.5h6M187.5,443.5h6M184.5,510.5V528.5M181.5,510.5h6M181.5,528.5h6M191.5,505.5V525.5M188.5,505.5h6M188.5,525.5h6M195.5,513.5V530.5M192.5,513.5h6M192.5,530.5h6M198.5,519.5V538.5M195.5,519.5h6M195.5,538.5h6M202.5,532.5V550.5M199.5,532.5h6M199.5,550.5h6M205.5,538.5V550.5M202.5,538.5h6M202.5,550.5h6" fill="none" stroke="#2020e0" stroke-opacity="0.72" stroke-width="1.0" clip-path="url(#c3)"/><path d="M52.25,551.4L52.75,551.4L53.25,551.4L53.75,551.4L54.25,551.4L54.75,551.4L55.25,551.4L55.75,551.4L56.25,551.4L56.75,551.4L57.25,551.4L57.75,551.4L58.25,551.4L58.75,551.4L59.25,551.4L59.75,551.4L60.25,551.4L60.75,551.4L61.25,551.4L61.75,551.4L62.25,551.4L62.75,551.4L63.25,551.4L63.75,551.4L64.25,551.4L64.75,551.4L65.25,551.4L65.75,551.4L66.25,551.4L66.75,551.4L67.25,551.4L67.75,551.4L68.25,551.4L68.75,551.4L69.25,551.4L69.75,551.4L70.25,551.4L70.75,551.4L71.25,551.4L71.75,551.4L72.25,551.4L72.75,551.4L73.25,551.4L73.75,551.4L74.25,551.4L74.75,551.4L75.25,551.4L75.75,551.4L76.25,551.4L76.75,551.4L77.25,551.4L77.75,551.4L78.25,551.4L78.75,551.4L79.25,551.4L79.75,551.4L80.25,551.4L80.75,551.4L81.25,551.4L81.75,551.4L82.25,551.4L82.75,551.4L83.25,551.4L83.75,551.4L84.25,551.4L84.75,551.4L85.25,551.4L85.75,551.4L86.25,551.4L86.75,551.4L87.25,551.4L87.75,551.4L88.25,551.4L88.75,551.4L89.25,551.4L89.75,551.4L90.25,551.4L90.75,551.4L91.25,551.4L91.75,551.4L92.25,551.4L92.75,551.4L93.25,551.4L93.75,551.4L94.25,551.4L94.75,551.4L95.25,551.4L95.75,551.4L96.25,551.4L96.75,551.4L97.25,551.4L97.75,551.4L98.25,551.4L98.75,551.4L99.25,551.4L99.75,551.4L100.25,551.4L100.75,551.4L101.25,551.4L101.75,551.4L102.25,551.4L102.75,551.4L103.25,551.4L103.75,551.4L104.25,551.4L104.75,551.4L105.25,551.4L105.75,551.4L106.25,551.4L106.75,551.4L107.25,551.4L107.75,551.4L108.25,551.4L108.75,551.4L109.25,551.4L109.75,551.4L110.25,551.4L110.75,551.4L111.25,551.4L111.75,551.4L112.25,551.4L112.75,551.4L113.25,551.4L113.75,551.4L114.25,551.4L114.75,551.4L115.25,551.4L115.75,551.4L116.25,551.4L116.75,551.4L117.25,551.4L117.75,551.4L118.25,551.4L118.75,551.4L119.25,551.4L119.75,551.4L120.25,551.4L120.75,551.4L121.25,551.4L121.75,551.4L122.25,551.4L122.75,551.4L123.25,551.4L123.75,551.4L124.25,551.4L124.75,551.4L125.25,551.4L125.75,551.4L126.25,551.4L126.75,551.4L127.25,551.4L127.75,551.4L128.25,551.4L128.75,551.4L129.25,551.4L129.75,551.4L130.25,551.4L130.75,551.4L131.25,551.39L131.75,551.39L132.25,551.39L132.75,551.38L133.25,551.38L133.75,551.37L134.25,551.36L134.75,551.35L135.25,551.33L135.75,551.3L136.25,551.27L136.75,551.23L137.25,551.18L137.75,551.12L138.25,551.04L138.75,550.94L139.25,550.81L139.75,550.65L140.25,550.45L140.75,550.21L141.25,549.91L141.75,549.54L142.25,549.09L142.75,548.55L143.25,547.9L143.75,547.12L144.25,546.2L144.75,545.1L145.25,543.81L145.75,542.31L146.25,540.55L146.75,538.53L147.25,536.2L147.75,533.55L148.25,530.53L148.75,527.13L149.25,523.32L149.75,519.08L150.25,514.38L150.75,509.22L151.25,503.58L151.75,497.48L152.25,490.9L152.75,483.89L153.25,476.45L153.75,468.64L154.25,460.5L154.75,452.09L155.25,443.49L155.75,434.78L156.25,426.05L156.75,417.41L157.25,408.98L157.75,400.86L158.25,393.19L158.75,386.09L159.25,379.67L159.75,374.07L160.25,369.39L160.75,365.76L161.25,363.28L161.75,362.08L162.25,362.05L162.75,362.26L163.25,362.6L163.75,363.08L164.25,363.68L164.75,364.39L165.25,365.22L165.75,366.15L166.25,367.19L166.75,368.33L167.25,369.56L167.75,370.89L168.25,372.3L168.75,373.8L169.25,375.39L169.75,377.05L170.25,378.79L170.75,380.6L171.25,382.48L171.75,384.42L172.25,386.43L172.75,388.49L173.25,390.61L173.75,392.78L174.25,395L174.75,397.27L175.25,399.57L175.75,401.92L176.25,404.3L176.75,406.71L177.25,409.15L177.75,411.62L178.25,414.11L178.75,416.61L179.25,419.14L179.75,421.68L180.25,424.23L180.75,426.78L181.25,429.34L181.75,431.91L182.25,434.47L182.75,437.04L183.25,439.59L183.75,442.14L184.25,444.68L184.75,447.21L185.25,449.72L185.75,452.22L186.25,454.7L186.75,457.16L187.25,459.59L187.75,462.01L188.25,464.4L188.75,466.76L189.25,469.09L189.75,471.4L190.25,473.67L190.75,475.92L191.25,478.13L191.75,480.3L192.25,482.44L192.75,484.55L193.25,486.62L193.75,488.65L194.25,490.64L194.75,492.6L195.25,494.52L195.75,496.39L196.25,498.23L196.75,500.03L197.25,501.79L197.75,503.51L198.25,505.19L198.75,506.83L199.25,508.43L199.75,509.99L200.25,511.5L200.75,512.98L201.25,514.42L201.75,515.82L202.25,517.18L202.75,518.51L203.25,519.79L203.75,521.04L204.25,522.25L204.75,523.42L205.25,524.56L205.75,525.66L206.25,526.73L206.75,527.76L207.25,528.76L207.75,529.72L208.25,530.65L208.75,531.55L209.25,532.42L209.75,533.26L210.25,534.07L210.75,534.84L211.25,535.59L211.75,536.32L212.25,537.01L212.75,537.68L213.25,538.32L213.75,538.94L214.25,539.53L214.75,540.1L215.25,540.65L215.75,541.17L216.25,541.67L216.75,542.15L217.25,542.62L217.75,543.06L218.25,543.48L218.75,543.88L219.25,544.27L219.75,544.64L220.25,544.99L220.75,545.32L221.25,545.65L221.75,545.95L222.25,546.24L222.75,546.52L223.25,546.79L223.75,547.04L224.25,547.28L224.75,547.51L225.25,547.72L225.75,547.93L226.25,548.13L226.75,548.31L227.25,548.49L227.75,548.66L228.25,548.82L228.75,548.97L229.25,549.11L229.75,549.24L230.25,549.37L230.75,549.49L231.25,549.61L231.75,549.72L232.25,549.82L232.75,549.92L233.25,550.01L233.75,550.09L234.25,550.17L234.75,550.25L235.25,550.32L235.75,550.39L236.25,550.46L236.75,550.52L237.25,550.57L237.75,550.63L238.25,550.68L238.75,550.72L239.25,550.77L239.75,550.81L240.25,550.85L240.75,550.89L241.25,550.92L241.75,550.95L242.25,550.98L242.75,551.01L243.25,551.04L243.75,551.06L244.25,551.09L244.75,551.11L245.25,551.13L245.75,551.15L246.25,551.17L246.75,551.18L247.25,551.2L247.75,551.21L248.25,551.23L248.75,551.24L249.25,551.25L249.75,551.26L250.25,551.27L250.75,551.28L251.25,551.29L251.75,551.3L252.25,551.31L252.75,551.31L253.25,551.32L253.75,551.33L254.25,551.33L254.75,551.34L255.25,551.34L255.75,551.35L256.25,551.35L256.75,551.35L257.25,551.36L257.75,551.36L258.25,551.36L258.75,551.37L259.25,551.37L259.75,551.37" fill="none" stroke="#da1f7b" stroke-width="1.6" clip-path="url(#c3)"/><path d="M52.25,551.4L52.75,551.4L53.25,551.4L53.75,551.4L54.25,551.4L54.75,551.4L55.25,551.4L55.75,551.4L56.25,551.4L56.75,551.4L57.25,551.4L57.75,551.4L58.25,551.4L58.75,551.4L59.25,551.4L59.75,551.4L60.25,551.4L60.75,551.4L61.25,551.4L61.75,551.4L62.25,551.4L62.75,551.4L63.25,551.4L63.75,551.4L64.25,551.4L64.75,551.4L65.25,551.4L65.75,551.4L66.25,551.4L66.75,551.4L67.25,551.4L67.75,551.4L68.25,551.4L68.75,551.4L69.25,551.4L69.75,551.4L70.25,551.4L70.75,551.4L71.25,551.4L71.75,551.4L72.25,551.4L72.75,551.4L73.25,551.4L73.75,551.4L74.25,551.4L74.75,551.4L75.25,551.4L75.75,551.4L76.25,551.4L76.75,551.4L77.25,551.4L77.75,551.4L78.25,551.4L78.75,551.4L79.25,551.4L79.75,551.39L80.25,551.39L80.75,551.39L81.25,551.39L81.75,551.39L82.25,551.39L82.75,551.39L83.25,551.39L83.75,551.39L84.25,551.38L84.75,551.38L85.25,551.38L85.75,551.38L86.25,551.37L86.75,551.37L87.25,551.36L87.75,551.36L88.25,551.35L88.75,551.35L89.25,551.34L89.75,551.33L90.25,551.33L90.75,551.32L91.25,551.31L91.75,551.3L92.25,551.28L92.75,551.27L93.25,551.25L93.75,551.24L94.25,551.22L94.75,551.2L95.25,551.17L95.75,551.15L96.25,551.12L96.75,551.09L97.25,551.05L97.75,551.01L98.25,550.97L98.75,550.92L99.25,550.87L99.75,550.82L100.25,550.76L100.75,550.69L101.25,550.62L101.75,550.54L102.25,550.45L102.75,550.36L103.25,550.25L103.75,550.14L104.25,550.02L104.75,549.89L105.25,549.74L105.75,549.59L106.25,549.42L106.75,549.24L107.25,549.04L107.75,548.83L108.25,548.61L108.75,548.36L109.25,548.1L109.75,547.82L110.25,547.51L110.75,547.19L111.25,546.84L111.75,546.47L112.25,546.07L112.75,545.64L113.25,545.19L113.75,544.7L114.25,544.19L114.75,543.64L115.25,543.06L115.75,542.44L116.25,541.79L116.75,541.1L117.25,540.36L117.75,539.59L118.25,538.77L118.75,537.91L119.25,537L119.75,536.05L120.25,535.04L120.75,533.99L121.25,532.88L121.75,531.72L122.25,530.51L122.75,529.24L123.25,527.91L123.75,526.53L124.25,525.09L124.75,523.59L125.25,522.03L125.75,520.41L126.25,518.73L126.75,516.99L127.25,515.18L127.75,513.31L128.25,511.39L128.75,509.4L129.25,507.35L129.75,505.24L130.25,503.07L130.75,500.84L131.25,498.56L131.75,496.21L132.25,493.82L132.75,491.37L133.25,488.87L133.75,486.32L134.25,483.73L134.75,481.09L135.25,478.41L135.75,475.69L136.25,472.94L136.75,470.15L137.25,467.34L137.75,464.5L138.25,461.64L138.75,458.76L139.25,455.87L139.75,452.97L140.25,450.07L140.75,447.16L141.25,444.27L141.75,441.38L142.25,438.5L142.75,435.65L143.25,432.82L143.75,430.01L144.25,427.24L144.75,424.52L145.25,421.83L145.75,419.19L146.25,416.61L146.75,414.09L147.25,411.62L147.75,409.23L148.25,406.91L148.75,404.66L149.25,402.5L149.75,400.42L150.25,398.43L150.75,396.53L151.25,394.73L151.75,393.02L152.25,391.42L152.75,389.92L153.25,388.53L153.75,387.25L154.25,386.07L154.75,385.01L155.25,384.06L155.75,383.23L156.25,382.51L156.75,381.9L157.25,381.4L157.75,381.02L158.25,380.74L158.75,380.57L159.25,380.5L159.75,380.51L160.25,380.58L160.75,380.71L161.25,380.93L161.75,381.23L162.25,381.61L162.75,382.08L163.25,382.64L163.75,383.3L164.25,384.05L164.75,384.89L165.25,385.83L165.75,386.86L166.25,387.99L166.75,389.22L167.25,390.53L167.75,391.94L168.25,393.45L168.75,395.04L169.25,396.72L169.75,398.48L170.25,400.33L170.75,402.26L171.25,404.26L171.75,406.35L172.25,408.5L172.75,410.72L173.25,413.01L173.75,415.36L174.25,417.77L174.75,420.23L175.25,422.74L175.75,425.3L176.25,427.9L176.75,430.53L177.25,433.2L177.75,435.9L178.25,438.63L178.75,441.37L179.25,444.14L179.75,446.91L180.25,449.69L180.75,452.48L181.25,455.26L181.75,458.05L182.25,460.82L182.75,463.58L183.25,466.33L183.75,469.05L184.25,471.76L184.75,474.44L185.25,477.09L185.75,479.7L186.25,482.28L186.75,484.83L187.25,487.33L187.75,489.79L188.25,492.21L188.75,494.58L189.25,496.9L189.75,499.17L190.25,501.39L190.75,503.55L191.25,505.66L191.75,507.71L192.25,509.71L192.75,511.65L193.25,513.54L193.75,515.36L194.25,517.13L194.75,518.84L195.25,520.49L195.75,522.08L196.25,523.62L196.75,525.1L197.25,526.52L197.75,527.88L198.25,529.19L198.75,530.45L199.25,531.65L199.75,532.8L200.25,533.9L200.75,534.95L201.25,535.95L201.75,536.9L202.25,537.81L202.75,538.67L203.25,539.49L203.75,540.26L204.25,541L204.75,541.69L205.25,542.35L205.75,542.97L206.25,543.55L206.75,544.1L207.25,544.62L207.75,545.11L208.25,545.57L208.75,546L209.25,546.4L209.75,546.78L210.25,547.13L210.75,547.46L211.25,547.77L211.75,548.05L212.25,548.32L212.75,548.57L213.25,548.8L213.75,549.01L214.25,549.21L214.75,549.4L215.25,549.57L215.75,549.72L216.25,549.87L216.75,550L217.25,550.13L217.75,550.24L218.25,550.35L218.75,550.44L219.25,550.53L219.75,550.61L220.25,550.68L220.75,550.75L221.25,550.81L221.75,550.87L222.25,550.92L222.75,550.97L223.25,551.01L223.75,551.05L224.25,551.09L224.75,551.12L225.25,551.15L225.75,551.17L226.25,551.2L226.75,551.22L227.25,551.24L227.75,551.25L228.25,551.27L228.75,551.28L229.25,551.3L229.75,551.31L230.25,551.32L230.75,551.33L231.25,551.34L231.75,551.34L232.25,551.35L232.75,551.36L233.25,551.36L233.75,551.37L234.25,551.37L234.75,551.37L235.25,551.38L235.75,551.38L236.25,551.38L236.75,551.38L237.25,551.39L237.75,551.39L238.25,551.39L238.75,551.39L239.25,551.39L239.75,551.39L240.25,551.39L240.75,551.39L241.25,551.4L241.75,551.4L242.25,551.4L242.75,551.4L243.25,551.4L243.75,551.4L244.25,551.4L244.75,551.4L245.25,551.4L245.75,551.4L246.25,551.4L246.75,551.4L247.25,551.4L247.75,551.4L248.25,551.4L248.75,551.4L249.25,551.4L249.75,551.4L250.25,551.4L250.75,551.4L251.25,551.4L251.75,551.4L252.25,551.4L252.75,551.4L253.25,551.4L253.75,551.4L254.25,551.4L254.75,551.4L255.25,551.4L255.75,551.4L256.25,551.4L256.75,551.4L257.25,551.4L257.75,551.4L258.25,551.4L258.75,551.4L259.25,551.4L259.75,551.4" fill="none" stroke="#1c1cc0" stroke-width="1.6" clip-path="url(#c3)"/><text x="51.75" y="571.4" font-size="14.2" fill="#000" text-anchor="middle" textLength="7.8" lengthAdjust="spacingAndGlyphs" stroke="#fff" stroke-width="0.35">0</text><text x="103.69" y="571.4" font-size="14.2" fill="#000" text-anchor="middle" textLength="31.2" lengthAdjust="spacingAndGlyphs" stroke="#fff" stroke-width="0.35">1000</text><text x="155.62" y="571.4" font-size="14.2" fill="#000" text-anchor="middle" textLength="31.2" lengthAdjust="spacingAndGlyphs" stroke="#fff" stroke-width="0.35">2000</text><text x="207.56" y="571.4" font-size="14.2" fill="#000" text-anchor="middle" textLength="31.2" lengthAdjust="spacingAndGlyphs" stroke="#fff" stroke-width="0.35">3000</text><text x="259.5" y="571.4" font-size="14.2" fill="#000" text-anchor="middle" textLength="31.2" lengthAdjust="spacingAndGlyphs" stroke="#fff" stroke-width="0.35">4000</text><text x="46.35" y="552.5" font-size="14.2" fill="#000" text-anchor="end" textLength="7.8" lengthAdjust="spacingAndGlyphs" stroke="#fff" stroke-width="0.35">0</text><text x="46.35" y="511.36" font-size="14.2" fill="#000" text-anchor="end" textLength="15.6" lengthAdjust="spacingAndGlyphs" stroke="#fff" stroke-width="0.35">50</text><text x="46.35" y="465.52" font-size="14.2" fill="#000" text-anchor="end" textLength="23.4" lengthAdjust="spacingAndGlyphs" stroke="#fff" stroke-width="0.35">100</text><text x="46.35" y="419.68" font-size="14.2" fill="#000" text-anchor="end" textLength="23.4" lengthAdjust="spacingAndGlyphs" stroke="#fff" stroke-width="0.35">150</text><text x="46.35" y="373.84" font-size="14.2" fill="#000" text-anchor="end" textLength="23.4" lengthAdjust="spacingAndGlyphs" stroke="#fff" stroke-width="0.35">200</text><text x="46.35" y="331.7" font-size="14.2" fill="#000" text-anchor="end" textLength="23.4" lengthAdjust="spacingAndGlyphs" stroke="#fff" stroke-width="0.35">250</text><text x="127.33" y="315.1" font-size="15.6" fill="#000" textLength="37.6" lengthAdjust="spacingAndGlyphs" stroke="#fff" stroke-width="0.35">Loop</text><text x="179.43" y="315.1" font-size="15.6" fill="#000" text-anchor="middle" textLength="8.6" lengthAdjust="spacingAndGlyphs" stroke="#fff" stroke-width="0.35">3</text><text x="18.97" y="587.8" font-size="13.2" fill="#000" textLength="53.7" lengthAdjust="spacingAndGlyphs" stroke="#fff" stroke-width="0.35">Seconds</text><text x="80.88" y="587.8" font-size="13.2" fill="#000" textLength="29.1" lengthAdjust="spacingAndGlyphs" stroke="#fff" stroke-width="0.35">from</text><text x="116.97" y="587.8" font-size="13.2" fill="#000" textLength="79.4" lengthAdjust="spacingAndGlyphs" stroke="#fff" stroke-width="0.35">09-Aug-99</text><text x="205.68" y="587.8" font-size="13.2" fill="#000" textLength="85.2" lengthAdjust="spacingAndGlyphs" stroke="#fff" stroke-width="0.35">18:56:54.000</text><text x="0" y="0" font-size="12.9" fill="#000" text-anchor="middle" textLength="106.6" lengthAdjust="spacingAndGlyphs" stroke="#fff" stroke-width="0.35" transform="translate(10.9,437.3) rotate(-90)">Intensity (DN/s)</text><text x="58.3" y="345.7" font-size="10.9" fill="#111" textLength="10.7" lengthAdjust="spacingAndGlyphs">&#916;t</text><text x="70" y="348.3" font-size="8.3" fill="#111" textLength="12.6" lengthAdjust="spacingAndGlyphs">rise</text><text x="83.6" y="345.7" font-size="10.9" fill="#111" textLength="35.5" lengthAdjust="spacingAndGlyphs">=316s</text><text x="58.3" y="363.3" font-size="10.9" fill="#111" textLength="10.7" lengthAdjust="spacingAndGlyphs">&#916;t</text><text x="70.3" y="366.3" font-size="8.3" fill="#111" textLength="20" lengthAdjust="spacingAndGlyphs">decay</text><text x="91.6" y="363.3" font-size="10.9" fill="#111" textLength="35.5" lengthAdjust="spacingAndGlyphs">=107s</text><text x="58.6" y="381.7" font-size="10.9" fill="#111" textLength="5.7" lengthAdjust="spacingAndGlyphs">&#964;</text><text x="66.3" y="384.3" font-size="7.6" fill="#111" textLength="12.7" lengthAdjust="spacingAndGlyphs">195</text><text x="80.8" y="381.7" font-size="10.9" fill="#111" textLength="35.5" lengthAdjust="spacingAndGlyphs">=846s</text></g>
<g><clipPath id="c4"><rect x="364.6" y="322.2" width="195.35" height="230.2"/></clipPath><rect x="364.6" y="322.2" width="195.35" height="229.2" fill="none" stroke="#606060" stroke-width="1.25"/><path d="M364.6,551.4v-4.5M364.6,322.2v4.5M368.51,551.4v-2.0M368.51,322.2v2.0M372.41,551.4v-2.0M372.41,322.2v2.0M376.32,551.4v-2.0M376.32,322.2v2.0M380.23,551.4v-2.0M380.23,322.2v2.0M384.14,551.4v-2.0M384.14,322.2v2.0M388.04,551.4v-2.0M388.04,322.2v2.0M391.95,551.4v-2.0M391.95,322.2v2.0M395.86,551.4v-2.0M395.86,322.2v2.0M399.76,551.4v-2.0M399.76,322.2v2.0M403.67,551.4v-4.5M403.67,322.2v4.5M407.58,551.4v-2.0M407.58,322.2v2.0M411.48,551.4v-2.0M411.48,322.2v2.0M415.39,551.4v-2.0M415.39,322.2v2.0M419.3,551.4v-2.0M419.3,322.2v2.0M423.21,551.4v-2.0M423.21,322.2v2.0M427.11,551.4v-2.0M427.11,322.2v2.0M431.02,551.4v-2.0M431.02,322.2v2.0M434.93,551.4v-2.0M434.93,322.2v2.0M438.83,551.4v-2.0M438.83,322.2v2.0M442.74,551.4v-4.5M442.74,322.2v4.5M446.65,551.4v-2.0M446.65,322.2v2.0M450.55,551.4v-2.0M450.55,322.2v2.0M454.46,551.4v-2.0M454.46,322.2v2.0M458.37,551.4v-2.0M458.37,322.2v2.0M462.28,551.4v-2.0M462.28,322.2v2.0M466.18,551.4v-2.0M466.18,322.2v2.0M470.09,551.4v-2.0M470.09,322.2v2.0M474,551.4v-2.0M474,322.2v2.0M477.9,551.4v-2.0M477.9,322.2v2.0M481.81,551.4v-4.5M481.81,322.2v4.5M485.72,551.4v-2.0M485.72,322.2v2.0M489.62,551.4v-2.0M489.62,322.2v2.0M493.53,551.4v-2.0M493.53,322.2v2.0M497.44,551.4v-2.0M497.44,322.2v2.0M501.35,551.4v-2.0M501.35,322.2v2.0M505.25,551.4v-2.0M505.25,322.2v2.0M509.16,551.4v-2.0M509.16,322.2v2.0M513.07,551.4v-2.0M513.07,322.2v2.0M516.97,551.4v-2.0M516.97,322.2v2.0M520.88,551.4v-4.5M520.88,322.2v4.5M524.79,551.4v-2.0M524.79,322.2v2.0M528.69,551.4v-2.0M528.69,322.2v2.0M532.6,551.4v-2.0M532.6,322.2v2.0M536.51,551.4v-2.0M536.51,322.2v2.0M540.42,551.4v-2.0M540.42,322.2v2.0M544.32,551.4v-2.0M544.32,322.2v2.0M548.23,551.4v-2.0M548.23,322.2v2.0M552.14,551.4v-2.0M552.14,322.2v2.0M556.04,551.4v-2.0M556.04,322.2v2.0M559.95,551.4v-4.5M559.95,322.2v4.5M364.6,551.4h4.5M559.95,551.4h-4.5M364.6,545.67h2.0M559.95,545.67h-2.0M364.6,539.94h2.0M559.95,539.94h-2.0M364.6,534.21h2.0M559.95,534.21h-2.0M364.6,528.48h2.0M559.95,528.48h-2.0M364.6,522.75h2.0M559.95,522.75h-2.0M364.6,517.02h2.0M559.95,517.02h-2.0M364.6,511.29h2.0M559.95,511.29h-2.0M364.6,505.56h2.0M559.95,505.56h-2.0M364.6,499.83h2.0M559.95,499.83h-2.0M364.6,494.1h4.5M559.95,494.1h-4.5M364.6,488.37h2.0M559.95,488.37h-2.0M364.6,482.64h2.0M559.95,482.64h-2.0M364.6,476.91h2.0M559.95,476.91h-2.0M364.6,471.18h2.0M559.95,471.18h-2.0M364.6,465.45h2.0M559.95,465.45h-2.0M364.6,459.72h2.0M559.95,459.72h-2.0M364.6,453.99h2.0M559.95,453.99h-2.0M364.6,448.26h2.0M559.95,448.26h-2.0M364.6,442.53h2.0M559.95,442.53h-2.0M364.6,436.8h4.5M559.95,436.8h-4.5M364.6,431.07h2.0M559.95,431.07h-2.0M364.6,425.34h2.0M559.95,425.34h-2.0M364.6,419.61h2.0M559.95,419.61h-2.0M364.6,413.88h2.0M559.95,413.88h-2.0M364.6,408.15h2.0M559.95,408.15h-2.0M364.6,402.42h2.0M559.95,402.42h-2.0M364.6,396.69h2.0M559.95,396.69h-2.0M364.6,390.96h2.0M559.95,390.96h-2.0M364.6,385.23h2.0M559.95,385.23h-2.0M364.6,379.5h4.5M559.95,379.5h-4.5M364.6,373.77h2.0M559.95,373.77h-2.0M364.6,368.04h2.0M559.95,368.04h-2.0M364.6,362.31h2.0M559.95,362.31h-2.0M364.6,356.58h2.0M559.95,356.58h-2.0M364.6,350.85h2.0M559.95,350.85h-2.0M364.6,345.12h2.0M559.95,345.12h-2.0M364.6,339.39h2.0M559.95,339.39h-2.0M364.6,333.66h2.0M559.95,333.66h-2.0M364.6,327.93h2.0M559.95,327.93h-2.0M364.6,322.2h4.5M559.95,322.2h-4.5" stroke="#606060" stroke-width="0.9" fill="none"/><path d="M431.5,534.5V546.5M428.5,534.5h6M428.5,546.5h6M433.5,535.5V545.5M430.5,535.5h6M430.5,545.5h6M435.5,507.5V519.5M432.5,507.5h6M432.5,519.5h6M437.5,504.5V514.5M434.5,504.5h6M434.5,514.5h6M439.5,489.5V504.5M436.5,489.5h6M436.5,504.5h6M442.5,475.5V495.5M439.5,475.5h6M439.5,495.5h6M444.5,479.5V495.5M441.5,479.5h6M441.5,495.5h6M445.5,442.5V461.5M442.5,442.5h6M442.5,461.5h6M447.5,445.5V461.5M444.5,445.5h6M444.5,461.5h6M449.5,440.5V454.5M446.5,440.5h6M446.5,454.5h6M450.5,435.5V447.5M447.5,435.5h6M447.5,447.5h6M452.5,426.5V442.5M449.5,426.5h6M449.5,442.5h6M454.5,408.5V429.5M451.5,408.5h6M451.5,429.5h6M457.5,389.5V407.5M454.5,389.5h6M454.5,407.5h6M458.5,391.5V408.5M455.5,391.5h6M455.5,408.5h6M460.5,392.5V408.5M457.5,392.5h6M457.5,408.5h6M462.5,391.5V410.5M459.5,391.5h6M459.5,410.5h6M464.5,392.5V412.5M461.5,392.5h6M461.5,412.5h6M467.5,407.5V424.5M464.5,407.5h6M464.5,424.5h6M469.5,408.5V433.5M466.5,408.5h6M466.5,433.5h6M472.5,407.5V433.5M469.5,407.5h6M469.5,433.5h6M493.5,322.5V352.5M490.5,322.5h6M490.5,352.5h6M495.5,322.5V346.5M492.5,322.5h6M492.5,346.5h6M496.5,325.5V350.5M493.5,325.5h6M493.5,350.5h6M497.5,328.5V352.5M494.5,328.5h6M494.5,352.5h6M499.5,330.5V353.5M496.5,330.5h6M496.5,353.5h6M500.5,332.5V352.5M497.5,332.5h6M497.5,352.5h6M501.5,330.5V353.5M498.5,330.5h6M498.5,353.5h6M493.5,342.5V367.5M490.5,342.5h6M490.5,367.5h6M502.5,360.5V381.5M499.5,360.5h6M499.5,381.5h6M504.5,361.5V383.5M501.5,361.5h6M501.5,383.5h6M505.5,369.5V387.5M502.5,369.5h6M502.5,387.5h6M507.5,373.5V395.5M504.5,373.5h6M504.5,395.5h6M508.5,380.5V397.5M505.5,380.5h6M505.5,397.5h6M509.5,384.5V400.5M506.5,384.5h6M506.5,400.5h6M505.5,380.5V406.5M502.5,380.5h6M502.5,406.5h6M507.5,389.5V407.5M504.5,389.5h6M504.5,407.5h6M511.5,384.5V412.5M508.5,384.5h6M508.5,412.5h6M512.5,395.5V420.5M509.5,395.5h6M509.5,420.5h6M513.5,403.5V424.5M510.5,403.5h6M510.5,424.5h6M515.5,411.5V427.5M512.5,411.5h6M512.5,427.5h6M516.5,414.5V434.5M513.5,414.5h6M513.5,434.5h6M517.5,422.5V438.5M514.5,422.5h6M514.5,438.5h6M521.5,403.5V422.5M518.5,403.5h6M518.5,422.5h6M523.5,400.5V420.5M520.5,400.5h6M520.5,420.5h6M525.5,403.5V422.5M522.5,403.5h6M522.5,422.5h6M528.5,403.5V422.5M525.5,403.5h6M525.5,422.5h6M530.5,407.5V427.5M527.5,407.5h6M527.5,427.5h6M532.5,412.5V430.5M529.5,412.5h6M529.5,430.5h6M535.5,423.5V440.5M532.5,423.5h6M532.5,440.5h6M538.5,424.5V440.5M535.5,424.5h6M535.5,440.5h6M540.5,438.5V461.5M537.5,438.5h6M537.5,461.5h6M542.5,449.5V461.5M539.5,449.5h6M539.5,461.5h6M544.5,459.5V474.5M541.5,459.5h6M541.5,474.5h6M546.5,469.5V475.5M543.5,469.5h6M543.5,475.5h6" fill="none" stroke="#dc1f80" stroke-opacity="0.6" stroke-width="1.0" clip-path="url(#c4)"/><path d="M421.5,512.5V526.5M418.5,512.5h6M418.5,526.5h6M423.5,505.5V516.5M420.5,505.5h6M420.5,516.5h6M425.5,495.5V509.5M422.5,495.5h6M422.5,509.5h6M427.5,484.5V495.5M424.5,484.5h6M424.5,495.5h6M429.5,480.5V487.5M426.5,480.5h6M426.5,487.5h6M431.5,469.5V476.5M428.5,469.5h6M428.5,476.5h6M433.5,456.5V470.5M430.5,456.5h6M430.5,470.5h6M434.5,445.5V452.5M431.5,445.5h6M431.5,452.5h6M436.5,432.5V439.5M433.5,432.5h6M433.5,439.5h6M438.5,416.5V423.5M435.5,416.5h6M435.5,423.5h6M440.5,401.5V421.5M437.5,401.5h6M437.5,421.5h6M442.5,389.5V408.5M439.5,389.5h6M439.5,408.5h6M443.5,384.5V401.5M440.5,384.5h6M440.5,401.5h6M445.5,373.5V392.5M442.5,373.5h6M442.5,392.5h6M447.5,366.5V387.5M444.5,366.5h6M444.5,387.5h6M449.5,364.5V385.5M446.5,364.5h6M446.5,385.5h6M451.5,361.5V382.5M448.5,361.5h6M448.5,382.5h6M454.5,348.5V369.5M451.5,348.5h6M451.5,369.5h6M457.5,350.5V366.5M454.5,350.5h6M454.5,366.5h6M458.5,357.5V375.5M455.5,357.5h6M455.5,375.5h6M461.5,361.5V384.5M458.5,361.5h6M458.5,384.5h6M464.5,368.5V384.5M461.5,368.5h6M461.5,384.5h6M465.5,373.5V399.5M462.5,373.5h6M462.5,399.5h6M468.5,382.5V407.5M465.5,382.5h6M465.5,407.5h6M471.5,380.5V403.5M468.5,380.5h6M468.5,403.5h6M472.5,380.5V399.5M469.5,380.5h6M469.5,399.5h6M521.5,439.5V458.5M518.5,439.5h6M518.5,458.5h6M524.5,447.5V469.5M521.5,447.5h6M521.5,469.5h6M528.5,466.5V477.5M525.5,466.5h6M525.5,477.5h6M532.5,479.5V490.5M529.5,479.5h6M529.5,490.5h6M534.5,485.5V501.5M531.5,485.5h6M531.5,501.5h6M537.5,498.5V514.5M534.5,498.5h6M534.5,514.5h6M540.5,514.5V525.5M537.5,514.5h6M537.5,525.5h6" fill="none" stroke="#2020e0" stroke-opacity="0.72" stroke-width="1.0" clip-path="url(#c4)"/><path d="M364.6,551.4L365.1,551.4L365.6,551.4L366.1,551.4L366.6,551.4L367.1,551.4L367.6,551.4L368.1,551.4L368.6,551.4L369.1,551.4L369.6,551.4L370.1,551.4L370.6,551.4L371.1,551.4L371.6,551.4L372.1,551.4L372.6,551.4L373.1,551.4L373.6,551.4L374.1,551.4L374.6,551.4L375.1,551.4L375.6,551.39L376.1,551.39L376.6,551.39L377.1,551.39L377.6,551.39L378.1,551.39L378.6,551.39L379.1,551.39L379.6,551.39L380.1,551.39L380.6,551.39L381.1,551.38L381.6,551.38L382.1,551.38L382.6,551.38L383.1,551.38L383.6,551.37L384.1,551.37L384.6,551.37L385.1,551.36L385.6,551.36L386.1,551.36L386.6,551.35L387.1,551.35L387.6,551.34L388.1,551.34L388.6,551.33L389.1,551.32L389.6,551.32L390.1,551.31L390.6,551.3L391.1,551.29L391.6,551.28L392.1,551.27L392.6,551.26L393.1,551.25L393.6,551.23L394.1,551.22L394.6,551.2L395.1,551.18L395.6,551.17L396.1,551.15L396.6,551.12L397.1,551.1L397.6,551.07L398.1,551.05L398.6,551.02L399.1,550.99L399.6,550.95L400.1,550.91L400.6,550.88L401.1,550.83L401.6,550.79L402.1,550.74L402.6,550.69L403.1,550.63L403.6,550.57L404.1,550.51L404.6,550.44L405.1,550.37L405.6,550.29L406.1,550.21L406.6,550.12L407.1,550.02L407.6,549.92L408.1,549.82L408.6,549.7L409.1,549.58L409.6,549.45L410.1,549.32L410.6,549.17L411.1,549.02L411.6,548.86L412.1,548.68L412.6,548.5L413.1,548.31L413.6,548.11L414.1,547.89L414.6,547.66L415.1,547.42L415.6,547.17L416.1,546.9L416.6,546.62L417.1,546.33L417.6,546.01L418.1,545.69L418.6,545.34L419.1,544.98L419.6,544.6L420.1,544.2L420.6,543.79L421.1,543.35L421.6,542.89L422.1,542.41L422.6,541.91L423.1,541.39L423.6,540.84L424.1,540.27L424.6,539.67L425.1,539.05L425.6,538.4L426.1,537.72L426.6,537.02L427.1,536.29L427.6,535.53L428.1,534.74L428.6,533.92L429.1,533.07L429.6,532.19L430.1,531.27L430.6,530.32L431.1,529.34L431.6,528.33L432.1,527.28L432.6,526.19L433.1,525.07L433.6,523.92L434.1,522.72L434.6,521.5L435.1,520.23L435.6,518.93L436.1,517.59L436.6,516.21L437.1,514.79L437.6,513.33L438.1,511.84L438.6,510.31L439.1,508.74L439.6,507.13L440.1,505.49L440.6,503.8L441.1,502.08L441.6,500.32L442.1,498.53L442.6,496.7L443.1,494.83L443.6,492.92L444.1,490.99L444.6,489.01L445.1,487.01L445.6,484.97L446.1,482.9L446.6,480.79L447.1,478.66L447.6,476.5L448.1,474.31L448.6,472.1L449.1,469.86L449.6,467.59L450.1,465.3L450.6,463L451.1,460.67L451.6,458.32L452.1,455.96L452.6,453.58L453.1,451.19L453.6,448.78L454.1,446.37L454.6,443.95L455.1,441.52L455.6,439.09L456.1,436.66L456.6,434.22L457.1,431.79L457.6,429.37L458.1,426.94L458.6,424.53L459.1,422.13L459.6,419.73L460.1,417.36L460.6,415L461.1,412.65L461.6,410.33L462.1,408.03L462.6,405.76L463.1,403.51L463.6,401.29L464.1,399.1L464.6,396.95L465.1,394.83L465.6,392.74L466.1,390.7L466.6,388.7L467.1,386.73L467.6,384.82L468.1,382.94L468.6,381.12L469.1,379.34L469.6,377.62L470.1,375.95L470.6,374.32L471.1,372.76L471.6,371.25L472.1,369.79L472.6,368.4L473.1,367.06L473.6,365.78L474.1,364.57L474.6,363.41L475.1,362.32L475.6,361.28L476.1,360.31L476.6,359.4L477.1,358.56L477.6,357.77L478.1,357.05L478.6,356.39L479.1,355.8L479.6,355.26L480.1,354.79L480.6,354.37L481.1,354.02L481.6,353.72L482.1,353.47L482.6,353.28L483.1,353.14L483.6,353.05L484.1,353.01L484.6,353L485.1,353.02L485.6,353.07L486.1,353.15L486.6,353.25L487.1,353.38L487.6,353.53L488.1,353.71L488.6,353.92L489.1,354.15L489.6,354.4L490.1,354.68L490.6,354.98L491.1,355.31L491.6,355.66L492.1,356.04L492.6,356.43L493.1,356.86L493.6,357.3L494.1,357.77L494.6,358.26L495.1,358.77L495.6,359.3L496.1,359.86L496.6,360.43L497.1,361.03L497.6,361.65L498.1,362.29L498.6,362.95L499.1,363.63L499.6,364.33L500.1,365.05L500.6,365.79L501.1,366.55L501.6,367.33L502.1,368.13L502.6,368.94L503.1,369.77L503.6,370.62L504.1,371.49L504.6,372.37L505.1,373.27L505.6,374.19L506.1,375.12L506.6,376.07L507.1,377.03L507.6,378.01L508.1,379.01L508.6,380.01L509.1,381.04L509.6,382.07L510.1,383.12L510.6,384.18L511.1,385.26L511.6,386.34L512.1,387.44L512.6,388.55L513.1,389.67L513.6,390.81L514.1,391.95L514.6,393.1L515.1,394.26L515.6,395.44L516.1,396.62L516.6,397.81L517.1,399L517.6,400.21L518.1,401.43L518.6,402.65L519.1,403.87L519.6,405.11L520.1,406.35L520.6,407.6L521.1,408.85L521.6,410.11L522.1,411.37L522.6,412.64L523.1,413.91L523.6,415.19L524.1,416.47L524.6,417.75L525.1,419.03L525.6,420.32L526.1,421.61L526.6,422.9L527.1,424.2L527.6,425.49L528.1,426.79L528.6,428.08L529.1,429.38L529.6,430.68L530.1,431.97L530.6,433.27L531.1,434.56L531.6,435.86L532.1,437.15L532.6,438.44L533.1,439.73L533.6,441.01L534.1,442.3L534.6,443.58L535.1,444.86L535.6,446.13L536.1,447.4L536.6,448.67L537.1,449.93L537.6,451.19L538.1,452.45L538.6,453.7L539.1,454.94L539.6,456.18L540.1,457.42L540.6,458.64L541.1,459.87L541.6,461.08L542.1,462.29L542.6,463.5L543.1,464.7L543.6,465.89L544.1,467.07L544.6,468.25L545.1,469.42L545.6,470.58L546.1,471.73L546.6,472.88L547.1,474.02L547.6,475.15L548.1,476.27L548.6,477.39L549.1,478.49L549.6,479.59L550.1,480.68L550.6,481.76L551.1,482.83L551.6,483.89L552.1,484.94L552.6,485.99L553.1,487.02L553.6,488.05L554.1,489.06L554.6,490.07L555.1,491.06L555.6,492.05L556.1,493.03L556.6,494L557.1,494.95L557.6,495.9L558.1,496.84L558.6,497.77L559.1,498.69L559.6,499.6" fill="none" stroke="#da1f7b" stroke-width="1.6" clip-path="url(#c4)"/><path d="M364.6,551.4L365.1,551.4L365.6,551.4L366.1,551.4L366.6,551.4L367.1,551.4L367.6,551.4L368.1,551.4L368.6,551.4L369.1,551.4L369.6,551.4L370.1,551.4L370.6,551.4L371.1,551.4L371.6,551.4L372.1,551.4L372.6,551.4L373.1,551.4L373.6,551.4L374.1,551.4L374.6,551.4L375.1,551.4L375.6,551.4L376.1,551.4L376.6,551.4L377.1,551.4L377.6,551.4L378.1,551.4L378.6,551.4L379.1,551.4L379.6,551.4L380.1,551.4L380.6,551.4L381.1,551.4L381.6,551.4L382.1,551.4L382.6,551.4L383.1,551.4L383.6,551.4L384.1,551.4L384.6,551.39L385.1,551.39L385.6,551.39L386.1,551.39L386.6,551.39L387.1,551.39L387.6,551.39L388.1,551.38L388.6,551.38L389.1,551.38L389.6,551.37L390.1,551.37L390.6,551.37L391.1,551.36L391.6,551.36L392.1,551.35L392.6,551.34L393.1,551.33L393.6,551.32L394.1,551.31L394.6,551.3L395.1,551.28L395.6,551.27L396.1,551.25L396.6,551.23L397.1,551.2L397.6,551.18L398.1,551.15L398.6,551.11L399.1,551.07L399.6,551.03L400.1,550.98L400.6,550.93L401.1,550.87L401.6,550.8L402.1,550.73L402.6,550.65L403.1,550.56L403.6,550.46L404.1,550.34L404.6,550.22L405.1,550.08L405.6,549.93L406.1,549.77L406.6,549.58L407.1,549.38L407.6,549.16L408.1,548.92L408.6,548.65L409.1,548.37L409.6,548.05L410.1,547.7L410.6,547.33L411.1,546.92L411.6,546.48L412.1,546L412.6,545.48L413.1,544.92L413.6,544.31L414.1,543.65L414.6,542.95L415.1,542.19L415.6,541.38L416.1,540.5L416.6,539.57L417.1,538.56L417.6,537.49L418.1,536.35L418.6,535.14L419.1,533.85L419.6,532.47L420.1,531.02L420.6,529.48L421.1,527.85L421.6,526.13L422.1,524.31L422.6,522.4L423.1,520.4L423.6,518.29L424.1,516.08L424.6,513.77L425.1,511.36L425.6,508.84L426.1,506.21L426.6,503.49L427.1,500.65L427.6,497.72L428.1,494.68L428.6,491.54L429.1,488.3L429.6,484.97L430.1,481.54L430.6,478.03L431.1,474.43L431.6,470.74L432.1,466.99L432.6,463.16L433.1,459.26L433.6,455.32L434.1,451.32L434.6,447.27L435.1,443.2L435.6,439.09L436.1,434.97L436.6,430.85L437.1,426.72L437.6,422.61L438.1,418.51L438.6,414.46L439.1,410.44L439.6,406.48L440.1,402.59L440.6,398.77L441.1,395.04L441.6,391.41L442.1,387.89L442.6,384.49L443.1,381.23L443.6,378.1L444.1,375.13L444.6,372.32L445.1,369.68L445.6,367.23L446.1,364.96L446.6,362.88L447.1,361.01L447.6,359.35L448.1,357.91L448.6,356.69L449.1,355.69L449.6,354.92L450.1,354.38L450.6,354.08L451.1,354L451.6,354.01L452.1,354.04L452.6,354.08L453.1,354.14L453.6,354.21L454.1,354.3L454.6,354.4L455.1,354.52L455.6,354.65L456.1,354.8L456.6,354.97L457.1,355.15L457.6,355.34L458.1,355.55L458.6,355.78L459.1,356.02L459.6,356.27L460.1,356.54L460.6,356.83L461.1,357.13L461.6,357.44L462.1,357.77L462.6,358.12L463.1,358.48L463.6,358.85L464.1,359.24L464.6,359.64L465.1,360.05L465.6,360.48L466.1,360.93L466.6,361.38L467.1,361.85L467.6,362.34L468.1,362.84L468.6,363.35L469.1,363.87L469.6,364.41L470.1,364.96L470.6,365.53L471.1,366.1L471.6,366.69L472.1,367.3L472.6,367.91L473.1,368.54L473.6,369.18L474.1,369.83L474.6,370.49L475.1,371.17L475.6,371.85L476.1,372.55L476.6,373.26L477.1,373.98L477.6,374.71L478.1,375.45L478.6,376.2L479.1,376.96L479.6,377.74L480.1,378.52L480.6,379.31L481.1,380.12L481.6,380.93L482.1,381.75L482.6,382.58L483.1,383.42L483.6,384.27L484.1,385.13L484.6,385.99L485.1,386.87L485.6,387.75L486.1,388.64L486.6,389.54L487.1,390.45L487.6,391.36L488.1,392.28L488.6,393.21L489.1,394.15L489.6,395.09L490.1,396.04L490.6,396.99L491.1,397.95L491.6,398.92L492.1,399.89L492.6,400.87L493.1,401.85L493.6,402.84L494.1,403.83L494.6,404.83L495.1,405.84L495.6,406.84L496.1,407.86L496.6,408.87L497.1,409.89L497.6,410.91L498.1,411.94L498.6,412.97L499.1,414.01L499.6,415.04L500.1,416.08L500.6,417.12L501.1,418.17L501.6,419.21L502.1,420.26L502.6,421.31L503.1,422.37L503.6,423.42L504.1,424.47L504.6,425.53L505.1,426.59L505.6,427.65L506.1,428.7L506.6,429.76L507.1,430.82L507.6,431.88L508.1,432.94L508.6,434L509.1,435.06L509.6,436.12L510.1,437.18L510.6,438.23L511.1,439.29L511.6,440.34L512.1,441.4L512.6,442.45L513.1,443.5L513.6,444.55L514.1,445.6L514.6,446.64L515.1,447.68L515.6,448.72L516.1,449.76L516.6,450.8L517.1,451.83L517.6,452.86L518.1,453.88L518.6,454.91L519.1,455.93L519.6,456.94L520.1,457.96L520.6,458.97L521.1,459.97L521.6,460.97L522.1,461.97L522.6,462.97L523.1,463.96L523.6,464.94L524.1,465.92L524.6,466.9L525.1,467.87L525.6,468.84L526.1,469.8L526.6,470.76L527.1,471.71L527.6,472.66L528.1,473.6L528.6,474.54L529.1,475.47L529.6,476.39L530.1,477.31L530.6,478.23L531.1,479.14L531.6,480.04L532.1,480.94L532.6,481.83L533.1,482.72L533.6,483.6L534.1,484.47L534.6,485.34L535.1,486.2L535.6,487.06L536.1,487.91L536.6,488.75L537.1,489.59L537.6,490.42L538.1,491.24L538.6,492.06L539.1,492.87L539.6,493.67L540.1,494.47L540.6,495.26L541.1,496.05L541.6,496.83L542.1,497.6L542.6,498.36L543.1,499.12L543.6,499.87L544.1,500.61L544.6,501.35L545.1,502.08L545.6,502.8L546.1,503.52L546.6,504.23L547.1,504.93L547.6,505.63L548.1,506.32L548.6,507L549.1,507.68L549.6,508.34L550.1,509.01L550.6,509.66L551.1,510.31L551.6,510.95L552.1,511.58L552.6,512.21L553.1,512.83L553.6,513.44L554.1,514.05L554.6,514.65L555.1,515.24L555.6,515.83L556.1,516.41L556.6,516.98L557.1,517.55L557.6,518.11L558.1,518.66L558.6,519.2L559.1,519.74L559.6,520.28" fill="none" stroke="#1c1cc0" stroke-width="1.6" clip-path="url(#c4)"/><text x="364.1" y="571.4" font-size="14.2" fill="#000" text-anchor="middle" textLength="7.8" lengthAdjust="spacingAndGlyphs" stroke="#fff" stroke-width="0.35">0</text><text x="403.17" y="571.4" font-size="14.2" fill="#000" text-anchor="middle" textLength="31.2" lengthAdjust="spacingAndGlyphs" stroke="#fff" stroke-width="0.35">1000</text><text x="442.24" y="571.4" font-size="14.2" fill="#000" text-anchor="middle" textLength="31.2" lengthAdjust="spacingAndGlyphs" stroke="#fff" stroke-width="0.35">2000</text><text x="481.31" y="571.4" font-size="14.2" fill="#000" text-anchor="middle" textLength="31.2" lengthAdjust="spacingAndGlyphs" stroke="#fff" stroke-width="0.35">3000</text><text x="520.38" y="571.4" font-size="14.2" fill="#000" text-anchor="middle" textLength="31.2" lengthAdjust="spacingAndGlyphs" stroke="#fff" stroke-width="0.35">4000</text><text x="559.45" y="571.4" font-size="14.2" fill="#000" text-anchor="middle" textLength="31.2" lengthAdjust="spacingAndGlyphs" stroke="#fff" stroke-width="0.35">5000</text><text x="358.7" y="552.5" font-size="14.2" fill="#000" text-anchor="end" textLength="7.8" lengthAdjust="spacingAndGlyphs" stroke="#fff" stroke-width="0.35">0</text><text x="358.7" y="499.9" font-size="14.2" fill="#000" text-anchor="end" textLength="23.4" lengthAdjust="spacingAndGlyphs" stroke="#fff" stroke-width="0.35">100</text><text x="358.7" y="442.6" font-size="14.2" fill="#000" text-anchor="end" textLength="23.4" lengthAdjust="spacingAndGlyphs" stroke="#fff" stroke-width="0.35">200</text><text x="358.7" y="385.3" font-size="14.2" fill="#000" text-anchor="end" textLength="23.4" lengthAdjust="spacingAndGlyphs" stroke="#fff" stroke-width="0.35">300</text><text x="358.7" y="331.7" font-size="14.2" fill="#000" text-anchor="end" textLength="23.4" lengthAdjust="spacingAndGlyphs" stroke="#fff" stroke-width="0.35">400</text><text x="433.48" y="315.1" font-size="15.6" fill="#000" textLength="37.6" lengthAdjust="spacingAndGlyphs" stroke="#fff" stroke-width="0.35">Loop</text><text x="485.58" y="315.1" font-size="15.6" fill="#000" text-anchor="middle" textLength="8.6" lengthAdjust="spacingAndGlyphs" stroke="#fff" stroke-width="0.35">4</text><text x="325.12" y="587.8" font-size="13.2" fill="#000" textLength="53.7" lengthAdjust="spacingAndGlyphs" stroke="#fff" stroke-width="0.35">Seconds</text><text x="387.03" y="587.8" font-size="13.2" fill="#000" textLength="29.1" lengthAdjust="spacingAndGlyphs" stroke="#fff" stroke-width="0.35">from</text><text x="423.13" y="587.8" font-size="13.2" fill="#000" textLength="79.4" lengthAdjust="spacingAndGlyphs" stroke="#fff" stroke-width="0.35">09-Aug-99</text><text x="511.83" y="587.8" font-size="13.2" fill="#000" textLength="85.2" lengthAdjust="spacingAndGlyphs" stroke="#fff" stroke-width="0.35">21:35:16.000</text><text x="0" y="0" font-size="12.9" fill="#000" text-anchor="middle" textLength="106.6" lengthAdjust="spacingAndGlyphs" stroke="#fff" stroke-width="0.35" transform="translate(323.25,437.3) rotate(-90)">Intensity (DN/s)</text><text x="369" y="345.3" font-size="10.9" fill="#111" textLength="10.7" lengthAdjust="spacingAndGlyphs">&#916;t</text><text x="380.7" y="347.9" font-size="8.3" fill="#111" textLength="12.6" lengthAdjust="spacingAndGlyphs">rise</text><text x="394.3" y="345.3" font-size="10.9" fill="#111" textLength="35.5" lengthAdjust="spacingAndGlyphs">=538s</text><text x="369" y="362.3" font-size="10.9" fill="#111" textLength="10.7" lengthAdjust="spacingAndGlyphs">&#916;t</text><text x="381" y="365.3" font-size="8.3" fill="#111" textLength="20" lengthAdjust="spacingAndGlyphs">decay</text><text x="402.3" y="362.3" font-size="10.9" fill="#111" textLength="35.5" lengthAdjust="spacingAndGlyphs">=463s</text><text x="369.3" y="384.7" font-size="10.9" fill="#111" textLength="5.7" lengthAdjust="spacingAndGlyphs">&#964;</text><text x="377" y="387.3" font-size="7.6" fill="#111" textLength="12.7" lengthAdjust="spacingAndGlyphs">195</text><text x="391.5" y="384.7" font-size="10.9" fill="#111" textLength="42.6" lengthAdjust="spacingAndGlyphs">=1574s</text></g>
<g><clipPath id="c5"><rect x="52.25" y="623.4" width="201.4" height="230.2"/></clipPath><rect x="52.25" y="623.4" width="201.4" height="229.2" fill="none" stroke="#606060" stroke-width="1.25"/><path d="M52.25,852.6v-4.5M52.25,623.4v4.5M57.28,852.6v-2.0M57.28,623.4v2.0M62.32,852.6v-2.0M62.32,623.4v2.0M67.36,852.6v-2.0M67.36,623.4v2.0M72.39,852.6v-2.0M72.39,623.4v2.0M77.42,852.6v-2.0M77.42,623.4v2.0M82.46,852.6v-2.0M82.46,623.4v2.0M87.5,852.6v-2.0M87.5,623.4v2.0M92.53,852.6v-2.0M92.53,623.4v2.0M97.56,852.6v-2.0M97.56,623.4v2.0M102.6,852.6v-4.5M102.6,623.4v4.5M107.64,852.6v-2.0M107.64,623.4v2.0M112.67,852.6v-2.0M112.67,623.4v2.0M117.7,852.6v-2.0M117.7,623.4v2.0M122.74,852.6v-2.0M122.74,623.4v2.0M127.78,852.6v-2.0M127.78,623.4v2.0M132.81,852.6v-2.0M132.81,623.4v2.0M137.84,852.6v-2.0M137.84,623.4v2.0M142.88,852.6v-2.0M142.88,623.4v2.0M147.91,852.6v-2.0M147.91,623.4v2.0M152.95,852.6v-4.5M152.95,623.4v4.5M157.99,852.6v-2.0M157.99,623.4v2.0M163.02,852.6v-2.0M163.02,623.4v2.0M168.06,852.6v-2.0M168.06,623.4v2.0M173.09,852.6v-2.0M173.09,623.4v2.0M178.12,852.6v-2.0M178.12,623.4v2.0M183.16,852.6v-2.0M183.16,623.4v2.0M188.2,852.6v-2.0M188.2,623.4v2.0M193.23,852.6v-2.0M193.23,623.4v2.0M198.26,852.6v-2.0M198.26,623.4v2.0M203.3,852.6v-4.5M203.3,623.4v4.5M208.34,852.6v-2.0M208.34,623.4v2.0M213.37,852.6v-2.0M213.37,623.4v2.0M218.41,852.6v-2.0M218.41,623.4v2.0M223.44,852.6v-2.0M223.44,623.4v2.0M228.47,852.6v-2.0M228.47,623.4v2.0M233.51,852.6v-2.0M233.51,623.4v2.0M238.55,852.6v-2.0M238.55,623.4v2.0M243.58,852.6v-2.0M243.58,623.4v2.0M248.62,852.6v-2.0M248.62,623.4v2.0M253.65,852.6v-4.5M253.65,623.4v4.5M52.25,852.6h4.5M253.65,852.6h-4.5M52.25,843.43h2.0M253.65,843.43h-2.0M52.25,834.26h2.0M253.65,834.26h-2.0M52.25,825.1h2.0M253.65,825.1h-2.0M52.25,815.93h2.0M253.65,815.93h-2.0M52.25,806.76h4.5M253.65,806.76h-4.5M52.25,797.59h2.0M253.65,797.59h-2.0M52.25,788.42h2.0M253.65,788.42h-2.0M52.25,779.26h2.0M253.65,779.26h-2.0M52.25,770.09h2.0M253.65,770.09h-2.0M52.25,760.92h4.5M253.65,760.92h-4.5M52.25,751.75h2.0M253.65,751.75h-2.0M52.25,742.58h2.0M253.65,742.58h-2.0M52.25,733.42h2.0M253.65,733.42h-2.0M52.25,724.25h2.0M253.65,724.25h-2.0M52.25,715.08h4.5M253.65,715.08h-4.5M52.25,705.91h2.0M253.65,705.91h-2.0M52.25,696.74h2.0M253.65,696.74h-2.0M52.25,687.58h2.0M253.65,687.58h-2.0M52.25,678.41h2.0M253.65,678.41h-2.0M52.25,669.24h4.5M253.65,669.24h-4.5M52.25,660.07h2.0M253.65,660.07h-2.0M52.25,650.9h2.0M253.65,650.9h-2.0M52.25,641.74h2.0M253.65,641.74h-2.0M52.25,632.57h2.0M253.65,632.57h-2.0M52.25,623.4h4.5M253.65,623.4h-4.5" stroke="#606060" stroke-width="0.9" fill="none"/><path d="M144.5,830.5V850.5M141.5,830.5h6M141.5,850.5h6M148.5,824.5V840.5M145.5,824.5h6M145.5,840.5h6M151.5,810.5V830.5M148.5,810.5h6M148.5,830.5h6M154.5,810.5V828.5M151.5,810.5h6M151.5,828.5h6M157.5,764.5V786.5M154.5,764.5h6M154.5,786.5h6M160.5,756.5V778.5M157.5,756.5h6M157.5,778.5h6M163.5,748.5V770.5M160.5,748.5h6M160.5,770.5h6M165.5,726.5V752.5M162.5,726.5h6M162.5,752.5h6M167.5,720.5V726.5M164.5,720.5h6M164.5,726.5h6M169.5,700.5V726.5M166.5,700.5h6M166.5,726.5h6M171.5,694.5V700.5M168.5,694.5h6M168.5,700.5h6M189.5,676.5V700.5M186.5,676.5h6M186.5,700.5h6M192.5,698.5V724.5M189.5,698.5h6M189.5,724.5h6M218.5,802.5V832.5M215.5,802.5h6M215.5,832.5h6M173.5,655.5V666.5M170.5,655.5h6M170.5,666.5h6M175.5,661.5V675.5M172.5,661.5h6M172.5,675.5h6M178.5,631.5V662.5M175.5,631.5h6M175.5,662.5h6M181.5,621.5V649.5M178.5,621.5h6M178.5,649.5h6M183.5,621.5V636.5M180.5,621.5h6M180.5,636.5h6M186.5,643.5V673.5M183.5,643.5h6M183.5,673.5h6M189.5,659.5V675.5M186.5,659.5h6M186.5,675.5h6" fill="none" stroke="#dc1f80" stroke-opacity="0.6" stroke-width="1.0" clip-path="url(#c5)"/><path d="M103.5,844.5V852.5M100.5,844.5h6M100.5,852.5h6M108.5,828.5V842.5M105.5,828.5h6M105.5,842.5h6M111.5,824.5V840.5M108.5,824.5h6M108.5,840.5h6M115.5,810.5V832.5M112.5,810.5h6M112.5,832.5h6M119.5,806.5V826.5M116.5,806.5h6M116.5,826.5h6M122.5,804.5V820.5M119.5,804.5h6M119.5,820.5h6M127.5,784.5V800.5M124.5,784.5h6M124.5,800.5h6M130.5,778.5V796.5M127.5,778.5h6M127.5,796.5h6M134.5,764.5V776.5M131.5,764.5h6M131.5,776.5h6M136.5,752.5V770.5M133.5,752.5h6M133.5,770.5h6M139.5,744.5V764.5M136.5,744.5h6M136.5,764.5h6M142.5,732.5V756.5M139.5,732.5h6M139.5,756.5h6M144.5,724.5V748.5M141.5,724.5h6M141.5,748.5h6M147.5,702.5V728.5M144.5,702.5h6M144.5,728.5h6M150.5,684.5V706.5M147.5,684.5h6M147.5,706.5h6M152.5,680.5V692.5M149.5,680.5h6M149.5,692.5h6M176.5,692.5V716.5M173.5,692.5h6M173.5,716.5h6M179.5,724.5V744.5M176.5,724.5h6M176.5,744.5h6M181.5,740.5V762.5M178.5,740.5h6M178.5,762.5h6M184.5,758.5V780.5M181.5,758.5h6M181.5,780.5h6M187.5,768.5V788.5M184.5,768.5h6M184.5,788.5h6M190.5,780.5V798.5M187.5,780.5h6M187.5,798.5h6M154.5,664.5V676.5M151.5,664.5h6M151.5,676.5h6M156.5,655.5V673.5M153.5,655.5h6M153.5,673.5h6M158.5,644.5V672.5M155.5,644.5h6M155.5,672.5h6M161.5,633.5V664.5M158.5,633.5h6M158.5,664.5h6M163.5,634.5V665.5M160.5,634.5h6M160.5,665.5h6M166.5,637.5V666.5M163.5,637.5h6M163.5,666.5h6M169.5,630.5V659.5M166.5,630.5h6M166.5,659.5h6" fill="none" stroke="#2020e0" stroke-opacity="0.72" stroke-width="1.0" clip-path="url(#c5)"/><path d="M52.25,852.6L52.75,852.6L53.25,852.6L53.75,852.6L54.25,852.6L54.75,852.6L55.25,852.6L55.75,852.6L56.25,852.6L56.75,852.6L57.25,852.6L57.75,852.6L58.25,852.6L58.75,852.6L59.25,852.6L59.75,852.6L60.25,852.6L60.75,852.6L61.25,852.6L61.75,852.6L62.25,852.6L62.75,852.6L63.25,852.6L63.75,852.6L64.25,852.6L64.75,852.6L65.25,852.6L65.75,852.6L66.25,852.6L66.75,852.6L67.25,852.6L67.75,852.6L68.25,852.6L68.75,852.6L69.25,852.6L69.75,852.6L70.25,852.6L70.75,852.6L71.25,852.6L71.75,852.6L72.25,852.6L72.75,852.6L73.25,852.6L73.75,852.6L74.25,852.6L74.75,852.6L75.25,852.6L75.75,852.6L76.25,852.6L76.75,852.6L77.25,852.6L77.75,852.6L78.25,852.6L78.75,852.6L79.25,852.6L79.75,852.6L80.25,852.6L80.75,852.6L81.25,852.6L81.75,852.6L82.25,852.6L82.75,852.6L83.25,852.6L83.75,852.6L84.25,852.6L84.75,852.6L85.25,852.6L85.75,852.6L86.25,852.6L86.75,852.6L87.25,852.6L87.75,852.6L88.25,852.6L88.75,852.6L89.25,852.6L89.75,852.6L90.25,852.6L90.75,852.6L91.25,852.6L91.75,852.6L92.25,852.6L92.75,852.6L93.25,852.6L93.75,852.6L94.25,852.6L94.75,852.6L95.25,852.6L95.75,852.6L96.25,852.6L96.75,852.6L97.25,852.6L97.75,852.6L98.25,852.6L98.75,852.6L99.25,852.6L99.75,852.6L100.25,852.6L100.75,852.6L101.25,852.6L101.75,852.6L102.25,852.6L102.75,852.6L103.25,852.6L103.75,852.6L104.25,852.6L104.75,852.6L105.25,852.6L105.75,852.6L106.25,852.6L106.75,852.6L107.25,852.6L107.75,852.6L108.25,852.6L108.75,852.6L109.25,852.6L109.75,852.6L110.25,852.6L110.75,852.6L111.25,852.6L111.75,852.6L112.25,852.6L112.75,852.6L113.25,852.6L113.75,852.6L114.25,852.6L114.75,852.6L115.25,852.6L115.75,852.6L116.25,852.6L116.75,852.6L117.25,852.6L117.75,852.6L118.25,852.6L118.75,852.59L119.25,852.59L119.75,852.59L120.25,852.59L120.75,852.59L121.25,852.59L121.75,852.58L122.25,852.58L122.75,852.58L123.25,852.57L123.75,852.56L124.25,852.56L124.75,852.55L125.25,852.54L125.75,852.53L126.25,852.51L126.75,852.5L127.25,852.48L127.75,852.46L128.25,852.43L128.75,852.4L129.25,852.37L129.75,852.33L130.25,852.29L130.75,852.24L131.25,852.18L131.75,852.11L132.25,852.04L132.75,851.95L133.25,851.85L133.75,851.74L134.25,851.61L134.75,851.47L135.25,851.31L135.75,851.12L136.25,850.92L136.75,850.69L137.25,850.44L137.75,850.16L138.25,849.84L138.75,849.49L139.25,849.11L139.75,848.68L140.25,848.21L140.75,847.69L141.25,847.13L141.75,846.5L142.25,845.83L142.75,845.08L143.25,844.28L143.75,843.4L144.25,842.45L144.75,841.43L145.25,840.32L145.75,839.13L146.25,837.85L146.75,836.47L147.25,835L147.75,833.44L148.25,831.76L148.75,829.98L149.25,828.1L149.75,826.1L150.25,823.98L150.75,821.76L151.25,819.41L151.75,816.95L152.25,814.37L152.75,811.67L153.25,808.86L153.75,805.92L154.25,802.88L154.75,799.72L155.25,796.45L155.75,793.07L156.25,789.59L156.75,786.01L157.25,782.34L157.75,778.58L158.25,774.74L158.75,770.83L159.25,766.85L159.75,762.81L160.25,758.72L160.75,754.58L161.25,750.42L161.75,746.23L162.25,742.03L162.75,737.82L163.25,733.62L163.75,729.43L164.25,725.28L164.75,721.16L165.25,717.09L165.75,713.07L166.25,709.13L166.75,705.26L167.25,701.48L167.75,697.79L168.25,694.21L168.75,690.75L169.25,687.4L169.75,684.19L170.25,681.1L170.75,678.17L171.25,675.37L171.75,672.73L172.25,670.25L172.75,667.92L173.25,665.75L173.75,663.75L174.25,661.91L174.75,660.23L175.25,658.72L175.75,657.36L176.25,656.17L176.75,655.13L177.25,654.24L177.75,653.49L178.25,652.89L178.75,652.41L179.25,652.06L179.75,651.81L180.25,651.67L180.75,651.61L181.25,651.62L181.75,651.9L182.25,652.43L182.75,653.19L183.25,654.15L183.75,655.3L184.25,656.64L184.75,658.14L185.25,659.81L185.75,661.62L186.25,663.59L186.75,665.68L187.25,667.91L187.75,670.25L188.25,672.71L188.75,675.28L189.25,677.94L189.75,680.69L190.25,683.53L190.75,686.45L191.25,689.43L191.75,692.48L192.25,695.58L192.75,698.74L193.25,701.93L193.75,705.17L194.25,708.43L194.75,711.72L195.25,715.03L195.75,718.36L196.25,721.69L196.75,725.02L197.25,728.36L197.75,731.68L198.25,735L198.75,738.3L199.25,741.58L199.75,744.83L200.25,748.06L200.75,751.26L201.25,754.42L201.75,757.54L202.25,760.62L202.75,763.66L203.25,766.65L203.75,769.59L204.25,772.48L204.75,775.32L205.25,778.1L205.75,780.83L206.25,783.5L206.75,786.11L207.25,788.66L207.75,791.15L208.25,793.58L208.75,795.95L209.25,798.25L209.75,800.49L210.25,802.67L210.75,804.78L211.25,806.84L211.75,808.83L212.25,810.76L212.75,812.62L213.25,814.43L213.75,816.17L214.25,817.86L214.75,819.48L215.25,821.05L215.75,822.56L216.25,824.02L216.75,825.42L217.25,826.77L217.75,828.06L218.25,829.3L218.75,830.49L219.25,831.63L219.75,832.73L220.25,833.78L220.75,834.78L221.25,835.74L221.75,836.65L222.25,837.53L222.75,838.36L223.25,839.16L223.75,839.91L224.25,840.64L224.75,841.32L225.25,841.98L225.75,842.6L226.25,843.19L226.75,843.75L227.25,844.28L227.75,844.78L228.25,845.26L228.75,845.71L229.25,846.14L229.75,846.54L230.25,846.92L230.75,847.28L231.25,847.62L231.75,847.94L232.25,848.24L232.75,848.53L233.25,848.8L233.75,849.05L234.25,849.29L234.75,849.51L235.25,849.72L235.75,849.92L236.25,850.1L236.75,850.28L237.25,850.44L237.75,850.59L238.25,850.73L238.75,850.87L239.25,850.99L239.75,851.11L240.25,851.21L240.75,851.32L241.25,851.41L241.75,851.5L242.25,851.58L242.75,851.66L243.25,851.73L243.75,851.8L244.25,851.86L244.75,851.91L245.25,851.97L245.75,852.02L246.25,852.06L246.75,852.1L247.25,852.14L247.75,852.18L248.25,852.21L248.75,852.24L249.25,852.27L249.75,852.3L250.25,852.32L250.75,852.35L251.25,852.37L251.75,852.39L252.25,852.41L252.75,852.42L253.25,852.44" fill="none" stroke="#da1f7b" stroke-width="1.6" clip-path="url(#c5)"/><path d="M52.25,852.6L52.75,852.6L53.25,852.6L53.75,852.6L54.25,852.6L54.75,852.6L55.25,852.6L55.75,852.6L56.25,852.6L56.75,852.6L57.25,852.6L57.75,852.6L58.25,852.6L58.75,852.6L59.25,852.6L59.75,852.59L60.25,852.59L60.75,852.59L61.25,852.59L61.75,852.59L62.25,852.59L62.75,852.59L63.25,852.59L63.75,852.59L64.25,852.59L64.75,852.59L65.25,852.58L65.75,852.58L66.25,852.58L66.75,852.58L67.25,852.58L67.75,852.58L68.25,852.57L68.75,852.57L69.25,852.57L69.75,852.57L70.25,852.56L70.75,852.56L71.25,852.56L71.75,852.55L72.25,852.55L72.75,852.54L73.25,852.54L73.75,852.53L74.25,852.53L74.75,852.52L75.25,852.51L75.75,852.5L76.25,852.5L76.75,852.49L77.25,852.48L77.75,852.47L78.25,852.45L78.75,852.44L79.25,852.43L79.75,852.41L80.25,852.4L80.75,852.38L81.25,852.36L81.75,852.35L82.25,852.32L82.75,852.3L83.25,852.28L83.75,852.25L84.25,852.22L84.75,852.19L85.25,852.16L85.75,852.13L86.25,852.09L86.75,852.05L87.25,852.01L87.75,851.97L88.25,851.92L88.75,851.87L89.25,851.81L89.75,851.75L90.25,851.69L90.75,851.62L91.25,851.55L91.75,851.47L92.25,851.39L92.75,851.3L93.25,851.21L93.75,851.11L94.25,851.01L94.75,850.9L95.25,850.78L95.75,850.65L96.25,850.52L96.75,850.38L97.25,850.23L97.75,850.07L98.25,849.9L98.75,849.72L99.25,849.53L99.75,849.33L100.25,849.12L100.75,848.9L101.25,848.66L101.75,848.41L102.25,848.15L102.75,847.87L103.25,847.58L103.75,847.27L104.25,846.95L104.75,846.61L105.25,846.25L105.75,845.87L106.25,845.47L106.75,845.06L107.25,844.62L107.75,844.16L108.25,843.68L108.75,843.18L109.25,842.65L109.75,842.1L110.25,841.52L110.75,840.91L111.25,840.28L111.75,839.62L112.25,838.93L112.75,838.21L113.25,837.46L113.75,836.68L114.25,835.86L114.75,835.01L115.25,834.13L115.75,833.21L116.25,832.26L116.75,831.27L117.25,830.24L117.75,829.17L118.25,828.06L118.75,826.92L119.25,825.73L119.75,824.5L120.25,823.23L120.75,821.91L121.25,820.55L121.75,819.15L122.25,817.7L122.75,816.21L123.25,814.68L123.75,813.09L124.25,811.46L124.75,809.79L125.25,808.06L125.75,806.29L126.25,804.48L126.75,802.61L127.25,800.7L127.75,798.75L128.25,796.74L128.75,794.7L129.25,792.6L129.75,790.46L130.25,788.28L130.75,786.05L131.25,783.78L131.75,781.47L132.25,779.12L132.75,776.73L133.25,774.3L133.75,771.83L134.25,769.33L134.75,766.79L135.25,764.22L135.75,761.62L136.25,759L136.75,756.34L137.25,753.67L137.75,750.97L138.25,748.25L138.75,745.52L139.25,742.77L139.75,740.01L140.25,737.24L140.75,734.46L141.25,731.69L141.75,728.91L142.25,726.14L142.75,723.38L143.25,720.63L143.75,717.89L144.25,715.17L144.75,712.47L145.25,709.8L145.75,707.16L146.25,704.55L146.75,701.98L147.25,699.45L147.75,696.97L148.25,694.54L148.75,692.16L149.25,689.84L149.75,687.59L150.25,685.4L150.75,683.28L151.25,681.24L151.75,679.27L152.25,677.39L152.75,675.6L153.25,673.9L153.75,672.3L154.25,670.8L154.75,669.41L155.25,668.13L155.75,666.96L156.25,665.91L156.75,664.98L157.25,664.18L157.75,663.52L158.25,663L158.75,662.63L159.25,662.43L159.75,662.41L160.25,662.5L160.75,662.68L161.25,662.97L161.75,663.36L162.25,663.87L162.75,664.48L163.25,665.21L163.75,666.04L164.25,666.99L164.75,668.05L165.25,669.21L165.75,670.49L166.25,671.87L166.75,673.36L167.25,674.95L167.75,676.65L168.25,678.44L168.75,680.33L169.25,682.31L169.75,684.39L170.25,686.55L170.75,688.79L171.25,691.11L171.75,693.51L172.25,695.98L172.75,698.52L173.25,701.12L173.75,703.78L174.25,706.5L174.75,709.27L175.25,712.08L175.75,714.94L176.25,717.83L176.75,720.76L177.25,723.72L177.75,726.69L178.25,729.69L178.75,732.7L179.25,735.72L179.75,738.75L180.25,741.78L180.75,744.81L181.25,747.83L181.75,750.84L182.25,753.84L182.75,756.81L183.25,759.77L183.75,762.7L184.25,765.6L184.75,768.47L185.25,771.31L185.75,774.11L186.25,776.87L186.75,779.58L187.25,782.25L187.75,784.88L188.25,787.45L188.75,789.97L189.25,792.44L189.75,794.86L190.25,797.22L190.75,799.53L191.25,801.77L191.75,803.96L192.25,806.09L192.75,808.16L193.25,810.17L193.75,812.12L194.25,814.01L194.75,815.84L195.25,817.61L195.75,819.32L196.25,820.97L196.75,822.57L197.25,824.1L197.75,825.58L198.25,827L198.75,828.36L199.25,829.67L199.75,830.92L200.25,832.12L200.75,833.27L201.25,834.37L201.75,835.42L202.25,836.43L202.75,837.38L203.25,838.29L203.75,839.16L204.25,839.98L204.75,840.77L205.25,841.51L205.75,842.21L206.25,842.88L206.75,843.51L207.25,844.11L207.75,844.67L208.25,845.21L208.75,845.71L209.25,846.18L209.75,846.63L210.25,847.05L210.75,847.44L211.25,847.81L211.75,848.16L212.25,848.48L212.75,848.78L213.25,849.07L213.75,849.34L214.25,849.58L214.75,849.81L215.25,850.03L215.75,850.23L216.25,850.42L216.75,850.59L217.25,850.75L217.75,850.9L218.25,851.04L218.75,851.17L219.25,851.29L219.75,851.4L220.25,851.5L220.75,851.6L221.25,851.68L221.75,851.76L222.25,851.84L222.75,851.9L223.25,851.97L223.75,852.02L224.25,852.08L224.75,852.12L225.25,852.17L225.75,852.21L226.25,852.24L226.75,852.28L227.25,852.31L227.75,852.34L228.25,852.36L228.75,852.39L229.25,852.41L229.75,852.43L230.25,852.44L230.75,852.46L231.25,852.47L231.75,852.49L232.25,852.5L232.75,852.51L233.25,852.52L233.75,852.53L234.25,852.53L234.75,852.54L235.25,852.55L235.75,852.55L236.25,852.56L236.75,852.56L237.25,852.57L237.75,852.57L238.25,852.57L238.75,852.58L239.25,852.58L239.75,852.58L240.25,852.58L240.75,852.59L241.25,852.59L241.75,852.59L242.25,852.59L242.75,852.59L243.25,852.59L243.75,852.59L244.25,852.59L244.75,852.59L245.25,852.6L245.75,852.6L246.25,852.6L246.75,852.6L247.25,852.6L247.75,852.6L248.25,852.6L248.75,852.6L249.25,852.6L249.75,852.6L250.25,852.6L250.75,852.6L251.25,852.6L251.75,852.6L252.25,852.6L252.75,852.6L253.25,852.6" fill="none" stroke="#1c1cc0" stroke-width="1.6" clip-path="url(#c5)"/><text x="51.75" y="872.6" font-size="14.2" fill="#000" text-anchor="middle" textLength="7.8" lengthAdjust="spacingAndGlyphs" stroke="#fff" stroke-width="0.35">0</text><text x="102.1" y="872.6" font-size="14.2" fill="#000" text-anchor="middle" textLength="31.2" lengthAdjust="spacingAndGlyphs" stroke="#fff" stroke-width="0.35">1000</text><text x="152.45" y="872.6" font-size="14.2" fill="#000" text-anchor="middle" textLength="31.2" lengthAdjust="spacingAndGlyphs" stroke="#fff" stroke-width="0.35">2000</text><text x="202.8" y="872.6" font-size="14.2" fill="#000" text-anchor="middle" textLength="31.2" lengthAdjust="spacingAndGlyphs" stroke="#fff" stroke-width="0.35">3000</text><text x="253.15" y="872.6" font-size="14.2" fill="#000" text-anchor="middle" textLength="31.2" lengthAdjust="spacingAndGlyphs" stroke="#fff" stroke-width="0.35">4000</text><text x="46.35" y="853.7" font-size="14.2" fill="#000" text-anchor="end" textLength="7.8" lengthAdjust="spacingAndGlyphs" stroke="#fff" stroke-width="0.35">0</text><text x="46.35" y="812.56" font-size="14.2" fill="#000" text-anchor="end" textLength="15.6" lengthAdjust="spacingAndGlyphs" stroke="#fff" stroke-width="0.35">50</text><text x="46.35" y="766.72" font-size="14.2" fill="#000" text-anchor="end" textLength="23.4" lengthAdjust="spacingAndGlyphs" stroke="#fff" stroke-width="0.35">100</text><text x="46.35" y="720.88" font-size="14.2" fill="#000" text-anchor="end" textLength="23.4" lengthAdjust="spacingAndGlyphs" stroke="#fff" stroke-width="0.35">150</text><text x="46.35" y="675.04" font-size="14.2" fill="#000" text-anchor="end" textLength="23.4" lengthAdjust="spacingAndGlyphs" stroke="#fff" stroke-width="0.35">200</text><text x="46.35" y="632.9" font-size="14.2" fill="#000" text-anchor="end" textLength="23.4" lengthAdjust="spacingAndGlyphs" stroke="#fff" stroke-width="0.35">250</text><text x="124.15" y="616.3" font-size="15.6" fill="#000" textLength="37.6" lengthAdjust="spacingAndGlyphs" stroke="#fff" stroke-width="0.35">Loop</text><text x="176.25" y="616.3" font-size="15.6" fill="#000" text-anchor="middle" textLength="8.6" lengthAdjust="spacingAndGlyphs" stroke="#fff" stroke-width="0.35">5</text><text x="15.8" y="889" font-size="13.2" fill="#000" textLength="53.7" lengthAdjust="spacingAndGlyphs" stroke="#fff" stroke-width="0.35">Seconds</text><text x="77.7" y="889" font-size="13.2" fill="#000" textLength="29.1" lengthAdjust="spacingAndGlyphs" stroke="#fff" stroke-width="0.35">from</text><text x="113.8" y="889" font-size="13.2" fill="#000" textLength="79.4" lengthAdjust="spacingAndGlyphs" stroke="#fff" stroke-width="0.35">09-Aug-99</text><text x="202.5" y="889" font-size="13.2" fill="#000" textLength="85.2" lengthAdjust="spacingAndGlyphs" stroke="#fff" stroke-width="0.35">21:35:16.000</text><text x="0" y="0" font-size="12.9" fill="#000" text-anchor="middle" textLength="106.6" lengthAdjust="spacingAndGlyphs" stroke="#fff" stroke-width="0.35" transform="translate(10.9,738.5) rotate(-90)">Intensity (DN/s)</text><text x="58.3" y="646.3" font-size="10.9" fill="#111" textLength="10.7" lengthAdjust="spacingAndGlyphs">&#916;t</text><text x="70" y="648.9" font-size="8.3" fill="#111" textLength="12.6" lengthAdjust="spacingAndGlyphs">rise</text><text x="83.6" y="646.3" font-size="10.9" fill="#111" textLength="35.5" lengthAdjust="spacingAndGlyphs">=571s</text><text x="58.3" y="664.7" font-size="10.9" fill="#111" textLength="10.7" lengthAdjust="spacingAndGlyphs">&#916;t</text><text x="70.3" y="667.7" font-size="8.3" fill="#111" textLength="20" lengthAdjust="spacingAndGlyphs">decay</text><text x="91.6" y="664.7" font-size="10.9" fill="#111" textLength="35.5" lengthAdjust="spacingAndGlyphs">=342s</text><text x="58.6" y="682.7" font-size="10.9" fill="#111" textLength="5.7" lengthAdjust="spacingAndGlyphs">&#964;</text><text x="66.3" y="685.3" font-size="7.6" fill="#111" textLength="12.7" lengthAdjust="spacingAndGlyphs">195</text><text x="80.8" y="682.7" font-size="10.9" fill="#111" textLength="35.5" lengthAdjust="spacingAndGlyphs">=946s</text></g>
<g><clipPath id="c6"><rect x="364.6" y="623.4" width="195.35" height="230.2"/></clipPath><rect x="364.6" y="623.4" width="195.35" height="229.2" fill="none" stroke="#606060" stroke-width="1.25"/><path d="M364.6,852.6v-4.5M364.6,623.4v4.5M369.48,852.6v-2.0M369.48,623.4v2.0M374.37,852.6v-2.0M374.37,623.4v2.0M379.25,852.6v-2.0M379.25,623.4v2.0M384.14,852.6v-2.0M384.14,623.4v2.0M389.02,852.6v-2.0M389.02,623.4v2.0M393.9,852.6v-2.0M393.9,623.4v2.0M398.79,852.6v-2.0M398.79,623.4v2.0M403.67,852.6v-2.0M403.67,623.4v2.0M408.55,852.6v-2.0M408.55,623.4v2.0M413.44,852.6v-4.5M413.44,623.4v4.5M418.32,852.6v-2.0M418.32,623.4v2.0M423.21,852.6v-2.0M423.21,623.4v2.0M428.09,852.6v-2.0M428.09,623.4v2.0M432.97,852.6v-2.0M432.97,623.4v2.0M437.86,852.6v-2.0M437.86,623.4v2.0M442.74,852.6v-2.0M442.74,623.4v2.0M447.62,852.6v-2.0M447.62,623.4v2.0M452.51,852.6v-2.0M452.51,623.4v2.0M457.39,852.6v-2.0M457.39,623.4v2.0M462.28,852.6v-4.5M462.28,623.4v4.5M467.16,852.6v-2.0M467.16,623.4v2.0M472.04,852.6v-2.0M472.04,623.4v2.0M476.93,852.6v-2.0M476.93,623.4v2.0M481.81,852.6v-2.0M481.81,623.4v2.0M486.69,852.6v-2.0M486.69,623.4v2.0M491.58,852.6v-2.0M491.58,623.4v2.0M496.46,852.6v-2.0M496.46,623.4v2.0M501.35,852.6v-2.0M501.35,623.4v2.0M506.23,852.6v-2.0M506.23,623.4v2.0M511.11,852.6v-4.5M511.11,623.4v4.5M516,852.6v-2.0M516,623.4v2.0M520.88,852.6v-2.0M520.88,623.4v2.0M525.76,852.6v-2.0M525.76,623.4v2.0M530.65,852.6v-2.0M530.65,623.4v2.0M535.53,852.6v-2.0M535.53,623.4v2.0M540.42,852.6v-2.0M540.42,623.4v2.0M545.3,852.6v-2.0M545.3,623.4v2.0M550.18,852.6v-2.0M550.18,623.4v2.0M555.07,852.6v-2.0M555.07,623.4v2.0M559.95,852.6v-4.5M559.95,623.4v4.5M364.6,852.6h4.5M559.95,852.6h-4.5M364.6,841.14h2.0M559.95,841.14h-2.0M364.6,829.68h2.0M559.95,829.68h-2.0M364.6,818.22h2.0M559.95,818.22h-2.0M364.6,806.76h2.0M559.95,806.76h-2.0M364.6,795.3h4.5M559.95,795.3h-4.5M364.6,783.84h2.0M559.95,783.84h-2.0M364.6,772.38h2.0M559.95,772.38h-2.0M364.6,760.92h2.0M559.95,760.92h-2.0M364.6,749.46h2.0M559.95,749.46h-2.0M364.6,738h4.5M559.95,738h-4.5M364.6,726.54h2.0M559.95,726.54h-2.0M364.6,715.08h2.0M559.95,715.08h-2.0M364.6,703.62h2.0M559.95,703.62h-2.0M364.6,692.16h2.0M559.95,692.16h-2.0M364.6,680.7h4.5M559.95,680.7h-4.5M364.6,669.24h2.0M559.95,669.24h-2.0M364.6,657.78h2.0M559.95,657.78h-2.0M364.6,646.32h2.0M559.95,646.32h-2.0M364.6,634.86h2.0M559.95,634.86h-2.0M364.6,623.4h4.5M559.95,623.4h-4.5" stroke="#606060" stroke-width="0.9" fill="none"/><path d="M453.5,778.5V828.5M450.5,778.5h6M450.5,828.5h6M455.5,764.5V818.5M452.5,764.5h6M452.5,818.5h6M457.5,768.5V818.5M454.5,768.5h6M454.5,818.5h6M460.5,768.5V838.5M457.5,768.5h6M457.5,838.5h6M463.5,770.5V830.5M460.5,770.5h6M460.5,830.5h6M465.5,714.5V758.5M462.5,714.5h6M462.5,758.5h6M469.5,772.5V814.5M466.5,772.5h6M466.5,814.5h6M472.5,736.5V774.5M469.5,736.5h6M469.5,774.5h6M474.5,706.5V768.5M471.5,706.5h6M471.5,768.5h6M476.5,736.5V788.5M473.5,736.5h6M473.5,788.5h6M479.5,736.5V772.5M476.5,736.5h6M476.5,772.5h6M483.5,700.5V740.5M480.5,700.5h6M480.5,740.5h6M486.5,674.5V720.5M483.5,674.5h6M483.5,720.5h6M488.5,654.5V710.5M485.5,654.5h6M485.5,710.5h6M491.5,660.5V706.5M488.5,660.5h6M488.5,706.5h6M494.5,629.5V678.5M491.5,629.5h6M491.5,678.5h6M496.5,640.5V684.5M493.5,640.5h6M493.5,684.5h6M499.5,642.5V690.5M496.5,642.5h6M496.5,690.5h6M500.5,646.5V688.5M497.5,646.5h6M497.5,688.5h6M525.5,692.5V730.5M522.5,692.5h6M522.5,730.5h6M526.5,714.5V770.5M523.5,714.5h6M523.5,770.5h6M527.5,715.5V771.5M524.5,715.5h6M524.5,771.5h6M528.5,737.5V778.5M525.5,737.5h6M525.5,778.5h6M529.5,726.5V809.5M526.5,726.5h6M526.5,809.5h6M530.5,706.5V757.5M527.5,706.5h6M527.5,757.5h6M531.5,712.5V759.5M528.5,712.5h6M528.5,759.5h6M532.5,737.5V786.5M529.5,737.5h6M529.5,786.5h6M533.5,742.5V785.5M530.5,742.5h6M530.5,785.5h6M534.5,738.5V765.5M531.5,738.5h6M531.5,765.5h6M535.5,746.5V777.5M532.5,746.5h6M532.5,777.5h6M536.5,761.5V801.5M533.5,761.5h6M533.5,801.5h6M537.5,772.5V817.5M534.5,772.5h6M534.5,817.5h6M538.5,773.5V816.5M535.5,773.5h6M535.5,816.5h6M539.5,806.5V845.5M536.5,806.5h6M536.5,845.5h6M539.5,834.5V845.5M536.5,834.5h6M536.5,845.5h6" fill="none" stroke="#dc1f80" stroke-opacity="0.6" stroke-width="1.0" clip-path="url(#c6)"/><path d="M453.5,712.5V739.5M450.5,712.5h6M450.5,739.5h6M457.5,682.5V718.5M454.5,682.5h6M454.5,718.5h6M459.5,687.5V718.5M456.5,687.5h6M456.5,718.5h6M461.5,689.5V718.5M458.5,689.5h6M458.5,718.5h6M463.5,698.5V732.5M460.5,698.5h6M460.5,732.5h6M465.5,698.5V732.5M462.5,698.5h6M462.5,732.5h6M467.5,710.5V736.5M464.5,710.5h6M464.5,736.5h6M471.5,705.5V736.5M468.5,705.5h6M468.5,736.5h6M474.5,708.5V738.5M471.5,708.5h6M471.5,738.5h6M477.5,720.5V748.5M474.5,720.5h6M474.5,748.5h6M480.5,740.5V760.5M477.5,740.5h6M477.5,760.5h6M482.5,744.5V774.5M479.5,744.5h6M479.5,774.5h6M486.5,752.5V780.5M483.5,752.5h6M483.5,780.5h6M488.5,762.5V784.5M485.5,762.5h6M485.5,784.5h6M491.5,780.5V800.5M488.5,780.5h6M488.5,800.5h6M493.5,782.5V808.5M490.5,782.5h6M490.5,808.5h6M496.5,800.5V830.5M493.5,800.5h6M493.5,830.5h6M498.5,843.5V854.5M495.5,843.5h6M495.5,854.5h6" fill="none" stroke="#2020e0" stroke-opacity="0.72" stroke-width="1.0" clip-path="url(#c6)"/><path d="M364.6,852.6L365.1,852.6L365.6,852.6L366.1,852.6L366.6,852.6L367.1,852.6L367.6,852.6L368.1,852.6L368.6,852.6L369.1,852.6L369.6,852.6L370.1,852.6L370.6,852.6L371.1,852.6L371.6,852.6L372.1,852.6L372.6,852.6L373.1,852.59L373.6,852.59L374.1,852.59L374.6,852.59L375.1,852.59L375.6,852.59L376.1,852.59L376.6,852.59L377.1,852.59L377.6,852.59L378.1,852.59L378.6,852.59L379.1,852.59L379.6,852.59L380.1,852.58L380.6,852.58L381.1,852.58L381.6,852.58L382.1,852.58L382.6,852.58L383.1,852.58L383.6,852.57L384.1,852.57L384.6,852.57L385.1,852.57L385.6,852.56L386.1,852.56L386.6,852.56L387.1,852.56L387.6,852.55L388.1,852.55L388.6,852.55L389.1,852.54L389.6,852.54L390.1,852.53L390.6,852.53L391.1,852.52L391.6,852.52L392.1,852.51L392.6,852.51L393.1,852.5L393.6,852.49L394.1,852.48L394.6,852.48L395.1,852.47L395.6,852.46L396.1,852.45L396.6,852.44L397.1,852.43L397.6,852.42L398.1,852.4L398.6,852.39L399.1,852.38L399.6,852.36L400.1,852.35L400.6,852.33L401.1,852.31L401.6,852.29L402.1,852.27L402.6,852.25L403.1,852.23L403.6,852.21L404.1,852.18L404.6,852.16L405.1,852.13L405.6,852.1L406.1,852.07L406.6,852.04L407.1,852L407.6,851.97L408.1,851.93L408.6,851.89L409.1,851.85L409.6,851.8L410.1,851.76L410.6,851.71L411.1,851.65L411.6,851.6L412.1,851.54L412.6,851.48L413.1,851.42L413.6,851.35L414.1,851.28L414.6,851.21L415.1,851.13L415.6,851.05L416.1,850.96L416.6,850.87L417.1,850.78L417.6,850.68L418.1,850.57L418.6,850.47L419.1,850.35L419.6,850.23L420.1,850.11L420.6,849.98L421.1,849.84L421.6,849.7L422.1,849.55L422.6,849.4L423.1,849.23L423.6,849.07L424.1,848.89L424.6,848.7L425.1,848.51L425.6,848.31L426.1,848.1L426.6,847.89L427.1,847.66L427.6,847.42L428.1,847.18L428.6,846.92L429.1,846.66L429.6,846.38L430.1,846.09L430.6,845.79L431.1,845.48L431.6,845.16L432.1,844.83L432.6,844.48L433.1,844.12L433.6,843.75L434.1,843.36L434.6,842.96L435.1,842.55L435.6,842.12L436.1,841.68L436.6,841.22L437.1,840.74L437.6,840.25L438.1,839.74L438.6,839.22L439.1,838.68L439.6,838.12L440.1,837.54L440.6,836.94L441.1,836.33L441.6,835.7L442.1,835.04L442.6,834.37L443.1,833.68L443.6,832.97L444.1,832.23L444.6,831.48L445.1,830.7L445.6,829.9L446.1,829.08L446.6,828.24L447.1,827.38L447.6,826.49L448.1,825.58L448.6,824.65L449.1,823.69L449.6,822.71L450.1,821.7L450.6,820.67L451.1,819.62L451.6,818.54L452.1,817.43L452.6,816.31L453.1,815.15L453.6,813.97L454.1,812.77L454.6,811.54L455.1,810.28L455.6,809L456.1,807.7L456.6,806.37L457.1,805.01L457.6,803.63L458.1,802.22L458.6,800.79L459.1,799.33L459.6,797.85L460.1,796.34L460.6,794.81L461.1,793.26L461.6,791.68L462.1,790.08L462.6,788.45L463.1,786.8L463.6,785.13L464.1,783.44L464.6,781.73L465.1,779.99L465.6,778.24L466.1,776.46L466.6,774.67L467.1,772.85L467.6,771.02L468.1,769.17L468.6,767.3L469.1,765.42L469.6,763.52L470.1,761.6L470.6,759.68L471.1,757.74L471.6,755.78L472.1,753.82L472.6,751.84L473.1,749.86L473.6,747.87L474.1,745.87L474.6,743.86L475.1,741.85L475.6,739.83L476.1,737.81L476.6,735.79L477.1,733.76L477.6,731.74L478.1,729.72L478.6,727.69L479.1,725.68L479.6,723.66L480.1,721.66L480.6,719.66L481.1,717.66L481.6,715.68L482.1,713.71L482.6,711.75L483.1,709.81L483.6,707.87L484.1,705.96L484.6,704.06L485.1,702.18L485.6,700.32L486.1,698.48L486.6,696.66L487.1,694.87L487.6,693.1L488.1,691.35L488.6,689.64L489.1,687.95L489.6,686.29L490.1,684.66L490.6,683.06L491.1,681.5L491.6,679.97L492.1,678.48L492.6,677.02L493.1,675.6L493.6,674.22L494.1,672.87L494.6,671.57L495.1,670.31L495.6,669.09L496.1,667.91L496.6,666.78L497.1,665.69L497.6,664.64L498.1,663.65L498.6,662.7L499.1,661.79L499.6,660.94L500.1,660.13L500.6,659.37L501.1,658.66L501.6,658L502.1,657.39L502.6,656.83L503.1,656.33L503.6,655.87L504.1,655.46L504.6,655.1L505.1,654.8L505.6,654.54L506.1,654.34L506.6,654.18L507.1,654.07L507.6,654.01L508.1,654L508.6,654.02L509.1,654.07L509.6,654.19L510.1,654.36L510.6,654.61L511.1,654.94L511.6,655.35L512.1,655.86L512.6,656.46L513.1,657.16L513.6,657.97L514.1,658.89L514.6,659.91L515.1,661.05L515.6,662.3L516.1,663.67L516.6,665.15L517.1,666.75L517.6,668.47L518.1,670.31L518.6,672.26L519.1,674.33L519.6,676.51L520.1,678.8L520.6,681.2L521.1,683.71L521.6,686.32L522.1,689.03L522.6,691.83L523.1,694.73L523.6,697.71L524.1,700.77L524.6,703.91L525.1,707.12L525.6,710.4L526.1,713.73L526.6,717.12L527.1,720.55L527.6,724.03L528.1,727.54L528.6,731.08L529.1,734.64L529.6,738.21L530.1,741.79L530.6,745.38L531.1,748.95L531.6,752.52L532.1,756.07L532.6,759.6L533.1,763.1L533.6,766.56L534.1,769.98L534.6,773.36L535.1,776.69L535.6,779.96L536.1,783.17L536.6,786.32L537.1,789.4L537.6,792.41L538.1,795.35L538.6,798.21L539.1,800.99L539.6,803.69L540.1,806.3L540.6,808.83L541.1,811.28L541.6,813.63L542.1,815.9L542.6,818.08L543.1,820.18L543.6,822.19L544.1,824.11L544.6,825.94L545.1,827.69L545.6,829.36L546.1,830.94L546.6,832.44L547.1,833.87L547.6,835.22L548.1,836.49L548.6,837.69L549.1,838.82L549.6,839.88L550.1,840.88L550.6,841.81L551.1,842.69L551.6,843.5L552.1,844.26L552.6,844.97L553.1,845.63L553.6,846.24L554.1,846.81L554.6,847.33L555.1,847.81L555.6,848.26L556.1,848.67L556.6,849.04L557.1,849.39L557.6,849.71L558.1,850L558.6,850.26L559.1,850.5L559.6,850.72" fill="none" stroke="#da1f7b" stroke-width="1.6" clip-path="url(#c6)"/><path d="M364.6,852.6L365.1,852.6L365.6,852.6L366.1,852.6L366.6,852.6L367.1,852.6L367.6,852.6L368.1,852.6L368.6,852.6L369.1,852.6L369.6,852.6L370.1,852.6L370.6,852.6L371.1,852.6L371.6,852.6L372.1,852.6L372.6,852.6L373.1,852.6L373.6,852.6L374.1,852.6L374.6,852.6L375.1,852.6L375.6,852.6L376.1,852.6L376.6,852.6L377.1,852.6L377.6,852.6L378.1,852.6L378.6,852.6L379.1,852.6L379.6,852.59L380.1,852.59L380.6,852.59L381.1,852.59L381.6,852.59L382.1,852.59L382.6,852.59L383.1,852.59L383.6,852.59L384.1,852.59L384.6,852.58L385.1,852.58L385.6,852.58L386.1,852.58L386.6,852.57L387.1,852.57L387.6,852.57L388.1,852.56L388.6,852.56L389.1,852.56L389.6,852.55L390.1,852.55L390.6,852.54L391.1,852.53L391.6,852.53L392.1,852.52L392.6,852.51L393.1,852.5L393.6,852.49L394.1,852.48L394.6,852.47L395.1,852.45L395.6,852.44L396.1,852.42L396.6,852.4L397.1,852.38L397.6,852.36L398.1,852.33L398.6,852.31L399.1,852.28L399.6,852.25L400.1,852.21L400.6,852.18L401.1,852.14L401.6,852.09L402.1,852.05L402.6,852L403.1,851.94L403.6,851.88L404.1,851.81L404.6,851.74L405.1,851.67L405.6,851.59L406.1,851.5L406.6,851.4L407.1,851.3L407.6,851.19L408.1,851.07L408.6,850.94L409.1,850.8L409.6,850.66L410.1,850.5L410.6,850.33L411.1,850.15L411.6,849.96L412.1,849.75L412.6,849.53L413.1,849.29L413.6,849.04L414.1,848.77L414.6,848.49L415.1,848.18L415.6,847.86L416.1,847.52L416.6,847.15L417.1,846.77L417.6,846.36L418.1,845.93L418.6,845.47L419.1,844.99L419.6,844.48L420.1,843.94L420.6,843.37L421.1,842.77L421.6,842.15L422.1,841.48L422.6,840.79L423.1,840.06L423.6,839.29L424.1,838.49L424.6,837.65L425.1,836.77L425.6,835.85L426.1,834.89L426.6,833.89L427.1,832.85L427.6,831.76L428.1,830.63L428.6,829.45L429.1,828.23L429.6,826.96L430.1,825.65L430.6,824.29L431.1,822.88L431.6,821.42L432.1,819.91L432.6,818.36L433.1,816.75L433.6,815.1L434.1,813.4L434.6,811.66L435.1,809.86L435.6,808.02L436.1,806.14L436.6,804.21L437.1,802.23L437.6,800.21L438.1,798.15L438.6,796.05L439.1,793.91L439.6,791.74L440.1,789.53L440.6,787.29L441.1,785.01L441.6,782.71L442.1,780.38L442.6,778.03L443.1,775.66L443.6,773.27L444.1,770.87L444.6,768.46L445.1,766.04L445.6,763.61L446.1,761.18L446.6,758.76L447.1,756.34L447.6,753.94L448.1,751.54L448.6,749.17L449.1,746.82L449.6,744.5L450.1,742.2L450.6,739.95L451.1,737.73L451.6,735.56L452.1,733.43L452.6,731.36L453.1,729.35L453.6,727.39L454.1,725.5L454.6,723.68L455.1,721.94L455.6,720.27L456.1,718.69L456.6,717.18L457.1,715.77L457.6,714.45L458.1,713.23L458.6,712.1L459.1,711.08L459.6,710.16L460.1,709.35L460.6,708.66L461.1,708.07L461.6,707.6L462.1,707.25L462.6,707.03L463.1,706.92L463.6,706.93L464.1,707L464.6,707.12L465.1,707.32L465.6,707.59L466.1,707.94L466.6,708.37L467.1,708.88L467.6,709.48L468.1,710.15L468.6,710.92L469.1,711.77L469.6,712.7L470.1,713.72L470.6,714.82L471.1,716.01L471.6,717.28L472.1,718.63L472.6,720.06L473.1,721.57L473.6,723.15L474.1,724.81L474.6,726.54L475.1,728.33L475.6,730.19L476.1,732.12L476.6,734.1L477.1,736.14L477.6,738.23L478.1,740.37L478.6,742.56L479.1,744.79L479.6,747.05L480.1,749.35L480.6,751.68L481.1,754.04L481.6,756.42L482.1,758.82L482.6,761.23L483.1,763.66L483.6,766.09L484.1,768.52L484.6,770.96L485.1,773.39L485.6,775.81L486.1,778.22L486.6,780.62L487.1,782.99L487.6,785.35L488.1,787.68L488.6,789.99L489.1,792.27L489.6,794.51L490.1,796.72L490.6,798.89L491.1,801.02L491.6,803.12L492.1,805.17L492.6,807.17L493.1,809.13L493.6,811.04L494.1,812.9L494.6,814.72L495.1,816.48L495.6,818.19L496.1,819.85L496.6,821.46L497.1,823.02L497.6,824.53L498.1,825.98L498.6,827.38L499.1,828.73L499.6,830.03L500.1,831.27L500.6,832.47L501.1,833.62L501.6,834.72L502.1,835.77L502.6,836.77L503.1,837.73L503.6,838.65L504.1,839.52L504.6,840.34L505.1,841.13L505.6,841.88L506.1,842.58L506.6,843.25L507.1,843.89L507.6,844.48L508.1,845.05L508.6,845.58L509.1,846.08L509.6,846.55L510.1,846.99L510.6,847.41L511.1,847.8L511.6,848.16L512.1,848.5L512.6,848.82L513.1,849.12L513.6,849.39L514.1,849.65L514.6,849.89L515.1,850.11L515.6,850.32L516.1,850.51L516.6,850.69L517.1,850.85L517.6,851.01L518.1,851.15L518.6,851.27L519.1,851.39L519.6,851.5L520.1,851.6L520.6,851.7L521.1,851.78L521.6,851.86L522.1,851.93L522.6,851.99L523.1,852.05L523.6,852.1L524.1,852.15L524.6,852.2L525.1,852.24L525.6,852.28L526.1,852.31L526.6,852.34L527.1,852.37L527.6,852.39L528.1,852.41L528.6,852.43L529.1,852.45L529.6,852.47L530.1,852.48L530.6,852.5L531.1,852.51L531.6,852.52L532.1,852.53L532.6,852.54L533.1,852.54L533.6,852.55L534.1,852.56L534.6,852.56L535.1,852.57L535.6,852.57L536.1,852.57L536.6,852.58L537.1,852.58L537.6,852.58L538.1,852.58L538.6,852.59L539.1,852.59L539.6,852.59L540.1,852.59L540.6,852.59L541.1,852.59L541.6,852.59L542.1,852.59L542.6,852.6L543.1,852.6L543.6,852.6L544.1,852.6L544.6,852.6L545.1,852.6L545.6,852.6L546.1,852.6L546.6,852.6L547.1,852.6L547.6,852.6L548.1,852.6L548.6,852.6L549.1,852.6L549.6,852.6L550.1,852.6L550.6,852.6L551.1,852.6L551.6,852.6L552.1,852.6L552.6,852.6L553.1,852.6L553.6,852.6L554.1,852.6L554.6,852.6L555.1,852.6L555.6,852.6L556.1,852.6L556.6,852.6L557.1,852.6L557.6,852.6L558.1,852.6L558.6,852.6L559.1,852.6L559.6,852.6" fill="none" stroke="#1c1cc0" stroke-width="1.6" clip-path="url(#c6)"/><text x="364.1" y="872.6" font-size="14.2" fill="#000" text-anchor="middle" textLength="7.8" lengthAdjust="spacingAndGlyphs" stroke="#fff" stroke-width="0.35">0</text><text x="412.94" y="872.6" font-size="14.2" fill="#000" text-anchor="middle" textLength="31.2" lengthAdjust="spacingAndGlyphs" stroke="#fff" stroke-width="0.35">1000</text><text x="461.78" y="872.6" font-size="14.2" fill="#000" text-anchor="middle" textLength="31.2" lengthAdjust="spacingAndGlyphs" stroke="#fff" stroke-width="0.35">2000</text><text x="510.61" y="872.6" font-size="14.2" fill="#000" text-anchor="middle" textLength="31.2" lengthAdjust="spacingAndGlyphs" stroke="#fff" stroke-width="0.35">3000</text><text x="559.45" y="872.6" font-size="14.2" fill="#000" text-anchor="middle" textLength="31.2" lengthAdjust="spacingAndGlyphs" stroke="#fff" stroke-width="0.35">4000</text><text x="358.7" y="853.7" font-size="14.2" fill="#000" text-anchor="end" textLength="7.8" lengthAdjust="spacingAndGlyphs" stroke="#fff" stroke-width="0.35">0</text><text x="358.7" y="801.1" font-size="14.2" fill="#000" text-anchor="end" textLength="15.6" lengthAdjust="spacingAndGlyphs" stroke="#fff" stroke-width="0.35">50</text><text x="358.7" y="743.8" font-size="14.2" fill="#000" text-anchor="end" textLength="23.4" lengthAdjust="spacingAndGlyphs" stroke="#fff" stroke-width="0.35">100</text><text x="358.7" y="686.5" font-size="14.2" fill="#000" text-anchor="end" textLength="23.4" lengthAdjust="spacingAndGlyphs" stroke="#fff" stroke-width="0.35">150</text><text x="358.7" y="632.9" font-size="14.2" fill="#000" text-anchor="end" textLength="23.4" lengthAdjust="spacingAndGlyphs" stroke="#fff" stroke-width="0.35">200</text><text x="433.48" y="616.3" font-size="15.6" fill="#000" textLength="37.6" lengthAdjust="spacingAndGlyphs" stroke="#fff" stroke-width="0.35">Loop</text><text x="485.58" y="616.3" font-size="15.6" fill="#000" text-anchor="middle" textLength="8.6" lengthAdjust="spacingAndGlyphs" stroke="#fff" stroke-width="0.35">6</text><text x="325.12" y="889" font-size="13.2" fill="#000" textLength="53.7" lengthAdjust="spacingAndGlyphs" stroke="#fff" stroke-width="0.35">Seconds</text><text x="387.03" y="889" font-size="13.2" fill="#000" textLength="29.1" lengthAdjust="spacingAndGlyphs" stroke="#fff" stroke-width="0.35">from</text><text x="423.13" y="889" font-size="13.2" fill="#000" textLength="79.4" lengthAdjust="spacingAndGlyphs" stroke="#fff" stroke-width="0.35">09-Aug-99</text><text x="511.83" y="889" font-size="13.2" fill="#000" textLength="85.2" lengthAdjust="spacingAndGlyphs" stroke="#fff" stroke-width="0.35">21:35:16.000</text><text x="0" y="0" font-size="12.9" fill="#000" text-anchor="middle" textLength="106.6" lengthAdjust="spacingAndGlyphs" stroke="#fff" stroke-width="0.35" transform="translate(323.25,738.5) rotate(-90)">Intensity (DN/s)</text><text x="370.3" y="646.3" font-size="10.9" fill="#111" textLength="10.7" lengthAdjust="spacingAndGlyphs">&#916;t</text><text x="382" y="648.9" font-size="8.3" fill="#111" textLength="12.6" lengthAdjust="spacingAndGlyphs">rise</text><text x="395.6" y="646.3" font-size="10.9" fill="#111" textLength="35.5" lengthAdjust="spacingAndGlyphs">=618s</text><text x="370.3" y="669.7" font-size="10.9" fill="#111" textLength="10.7" lengthAdjust="spacingAndGlyphs">&#916;t</text><text x="382.3" y="672.7" font-size="8.3" fill="#111" textLength="20" lengthAdjust="spacingAndGlyphs">decay</text><text x="403.6" y="669.7" font-size="10.9" fill="#111" textLength="35.5" lengthAdjust="spacingAndGlyphs">=875s</text><text x="370.6" y="691.7" font-size="10.9" fill="#111" textLength="5.7" lengthAdjust="spacingAndGlyphs">&#964;</text><text x="378.3" y="694.3" font-size="7.6" fill="#111" textLength="12.7" lengthAdjust="spacingAndGlyphs">195</text><text x="392.8" y="691.7" font-size="10.9" fill="#111" textLength="35.5" lengthAdjust="spacingAndGlyphs">=968s</text></g>
<g><clipPath id="c7"><rect x="52.25" y="924.4" width="201.4" height="230.2"/></clipPath><rect x="52.25" y="924.4" width="201.4" height="229.2" fill="none" stroke="#606060" stroke-width="1.25"/><path d="M52.25,1153.6v-4.5M52.25,924.4v4.5M56.28,1153.6v-2.0M56.28,924.4v2.0M60.31,1153.6v-2.0M60.31,924.4v2.0M64.33,1153.6v-2.0M64.33,924.4v2.0M68.36,1153.6v-2.0M68.36,924.4v2.0M72.39,1153.6v-2.0M72.39,924.4v2.0M76.42,1153.6v-2.0M76.42,924.4v2.0M80.45,1153.6v-2.0M80.45,924.4v2.0M84.47,1153.6v-2.0M84.47,924.4v2.0M88.5,1153.6v-2.0M88.5,924.4v2.0M92.53,1153.6v-4.5M92.53,924.4v4.5M96.56,1153.6v-2.0M96.56,924.4v2.0M100.59,1153.6v-2.0M100.59,924.4v2.0M104.61,1153.6v-2.0M104.61,924.4v2.0M108.64,1153.6v-2.0M108.64,924.4v2.0M112.67,1153.6v-2.0M112.67,924.4v2.0M116.7,1153.6v-2.0M116.7,924.4v2.0M120.73,1153.6v-2.0M120.73,924.4v2.0M124.75,1153.6v-2.0M124.75,924.4v2.0M128.78,1153.6v-2.0M128.78,924.4v2.0M132.81,1153.6v-4.5M132.81,924.4v4.5M136.84,1153.6v-2.0M136.84,924.4v2.0M140.87,1153.6v-2.0M140.87,924.4v2.0M144.89,1153.6v-2.0M144.89,924.4v2.0M148.92,1153.6v-2.0M148.92,924.4v2.0M152.95,1153.6v-2.0M152.95,924.4v2.0M156.98,1153.6v-2.0M156.98,924.4v2.0M161.01,1153.6v-2.0M161.01,924.4v2.0M165.03,1153.6v-2.0M165.03,924.4v2.0M169.06,1153.6v-2.0M169.06,924.4v2.0M173.09,1153.6v-4.5M173.09,924.4v4.5M177.12,1153.6v-2.0M177.12,924.4v2.0M181.15,1153.6v-2.0M181.15,924.4v2.0M185.17,1153.6v-2.0M185.17,924.4v2.0M189.2,1153.6v-2.0M189.2,924.4v2.0M193.23,1153.6v-2.0M193.23,924.4v2.0M197.26,1153.6v-2.0M197.26,924.4v2.0M201.29,1153.6v-2.0M201.29,924.4v2.0M205.31,1153.6v-2.0M205.31,924.4v2.0M209.34,1153.6v-2.0M209.34,924.4v2.0M213.37,1153.6v-4.5M213.37,924.4v4.5M217.4,1153.6v-2.0M217.4,924.4v2.0M221.43,1153.6v-2.0M221.43,924.4v2.0M225.45,1153.6v-2.0M225.45,924.4v2.0M229.48,1153.6v-2.0M229.48,924.4v2.0M233.51,1153.6v-2.0M233.51,924.4v2.0M237.54,1153.6v-2.0M237.54,924.4v2.0M241.57,1153.6v-2.0M241.57,924.4v2.0M245.59,1153.6v-2.0M245.59,924.4v2.0M249.62,1153.6v-2.0M249.62,924.4v2.0M253.65,1153.6v-4.5M253.65,924.4v4.5M52.25,1153.6h4.5M253.65,1153.6h-4.5M52.25,1144.05h2.0M253.65,1144.05h-2.0M52.25,1134.5h2.0M253.65,1134.5h-2.0M52.25,1124.95h2.0M253.65,1124.95h-2.0M52.25,1115.4h4.5M253.65,1115.4h-4.5M52.25,1105.85h2.0M253.65,1105.85h-2.0M52.25,1096.3h2.0M253.65,1096.3h-2.0M52.25,1086.75h2.0M253.65,1086.75h-2.0M52.25,1077.2h4.5M253.65,1077.2h-4.5M52.25,1067.65h2.0M253.65,1067.65h-2.0M52.25,1058.1h2.0M253.65,1058.1h-2.0M52.25,1048.55h2.0M253.65,1048.55h-2.0M52.25,1039h4.5M253.65,1039h-4.5M52.25,1029.45h2.0M253.65,1029.45h-2.0M52.25,1019.9h2.0M253.65,1019.9h-2.0M52.25,1010.35h2.0M253.65,1010.35h-2.0M52.25,1000.8h4.5M253.65,1000.8h-4.5M52.25,991.25h2.0M253.65,991.25h-2.0M52.25,981.7h2.0M253.65,981.7h-2.0M52.25,972.15h2.0M253.65,972.15h-2.0M52.25,962.6h4.5M253.65,962.6h-4.5M52.25,953.05h2.0M253.65,953.05h-2.0M52.25,943.5h2.0M253.65,943.5h-2.0M52.25,933.95h2.0M253.65,933.95h-2.0M52.25,924.4h4.5M253.65,924.4h-4.5" stroke="#606060" stroke-width="0.9" fill="none"/><path d="M113.5,1074.5V1086.5M110.5,1074.5h6M110.5,1086.5h6M115.5,1075.5V1093.5M112.5,1075.5h6M112.5,1093.5h6M117.5,1065.5V1082.5M114.5,1065.5h6M114.5,1082.5h6M119.5,1060.5V1075.5M116.5,1060.5h6M116.5,1075.5h6M121.5,1055.5V1070.5M118.5,1055.5h6M118.5,1070.5h6M123.5,1047.5V1062.5M120.5,1047.5h6M120.5,1062.5h6M125.5,1043.5V1055.5M122.5,1043.5h6M122.5,1055.5h6M126.5,1034.5V1051.5M123.5,1034.5h6M123.5,1051.5h6M128.5,1026.5V1039.5M125.5,1026.5h6M125.5,1039.5h6M130.5,1020.5V1036.5M127.5,1020.5h6M127.5,1036.5h6M131.5,1013.5V1027.5M128.5,1013.5h6M128.5,1027.5h6M133.5,1003.5V1020.5M130.5,1003.5h6M130.5,1020.5h6M135.5,996.5V1007.5M132.5,996.5h6M132.5,1007.5h6M137.5,981.5V1001.5M134.5,981.5h6M134.5,1001.5h6M139.5,976.5V984.5M136.5,976.5h6M136.5,984.5h6M141.5,966.5V977.5M138.5,966.5h6M138.5,977.5h6M143.5,953.5V974.5M140.5,953.5h6M140.5,974.5h6M145.5,952.5V966.5M142.5,952.5h6M142.5,966.5h6M148.5,953.5V972.5M145.5,953.5h6M145.5,972.5h6M150.5,953.5V978.5M147.5,953.5h6M147.5,978.5h6M152.5,954.5V980.5M149.5,954.5h6M149.5,980.5h6M155.5,953.5V969.5M152.5,953.5h6M152.5,969.5h6M158.5,957.5V974.5M155.5,957.5h6M155.5,974.5h6M161.5,957.5V978.5M158.5,957.5h6M158.5,978.5h6M167.5,960.5V982.5M164.5,960.5h6M164.5,982.5h6M170.5,990.5V1006.5M167.5,990.5h6M167.5,1006.5h6M173.5,1002.5V1018.5M170.5,1002.5h6M170.5,1018.5h6M176.5,1014.5V1040.5M173.5,1014.5h6M173.5,1040.5h6M179.5,1040.5V1052.5M176.5,1040.5h6M176.5,1052.5h6M182.5,1048.5V1074.5M179.5,1048.5h6M179.5,1074.5h6M185.5,1066.5V1086.5M182.5,1066.5h6M182.5,1086.5h6M188.5,1086.5V1102.5M185.5,1086.5h6M185.5,1102.5h6M191.5,1088.5V1104.5M188.5,1088.5h6M188.5,1104.5h6M194.5,1086.5V1098.5M191.5,1086.5h6M191.5,1098.5h6M197.5,1080.5V1096.5M194.5,1080.5h6M194.5,1096.5h6M200.5,1086.5V1102.5M197.5,1086.5h6M197.5,1102.5h6M203.5,1094.5V1110.5M200.5,1094.5h6M200.5,1110.5h6M205.5,1110.5V1126.5M202.5,1110.5h6M202.5,1126.5h6M208.5,1142.5V1148.5M205.5,1142.5h6M205.5,1148.5h6" fill="none" stroke="#dc1f80" stroke-opacity="0.6" stroke-width="1.0" clip-path="url(#c7)"/><path d="M112.5,1069.5V1086.5M109.5,1069.5h6M109.5,1086.5h6M114.5,1058.5V1079.5M111.5,1058.5h6M111.5,1079.5h6M116.5,1058.5V1067.5M113.5,1058.5h6M113.5,1067.5h6M117.5,1050.5V1063.5M114.5,1050.5h6M114.5,1063.5h6M119.5,1043.5V1056.5M116.5,1043.5h6M116.5,1056.5h6M121.5,1034.5V1046.5M118.5,1034.5h6M118.5,1046.5h6M123.5,1028.5V1039.5M120.5,1028.5h6M120.5,1039.5h6M125.5,1024.5V1036.5M122.5,1024.5h6M122.5,1036.5h6M127.5,1015.5V1026.5M124.5,1015.5h6M124.5,1026.5h6M129.5,1003.5V1015.5M126.5,1003.5h6M126.5,1015.5h6M131.5,1003.5V1009.5M128.5,1003.5h6M128.5,1009.5h6M133.5,997.5V1004.5M130.5,997.5h6M130.5,1004.5h6M135.5,991.5V999.5M132.5,991.5h6M132.5,999.5h6M136.5,980.5V993.5M133.5,980.5h6M133.5,993.5h6M137.5,970.5V980.5M134.5,970.5h6M134.5,980.5h6M139.5,948.5V977.5M136.5,948.5h6M136.5,977.5h6M141.5,953.5V966.5M138.5,953.5h6M138.5,966.5h6M143.5,961.5V995.5M140.5,961.5h6M140.5,995.5h6M145.5,970.5V995.5M142.5,970.5h6M142.5,995.5h6M148.5,980.5V1009.5M145.5,980.5h6M145.5,1009.5h6M150.5,977.5V1004.5M147.5,977.5h6M147.5,1004.5h6M152.5,984.5V1005.5M149.5,984.5h6M149.5,1005.5h6M154.5,992.5V1017.5M151.5,992.5h6M151.5,1017.5h6M156.5,993.5V1024.5M153.5,993.5h6M153.5,1024.5h6M158.5,996.5V1024.5M155.5,996.5h6M155.5,1024.5h6M160.5,1003.5V1020.5M157.5,1003.5h6M157.5,1020.5h6M168.5,1006.5V1034.5M165.5,1006.5h6M165.5,1034.5h6M171.5,1032.5V1050.5M168.5,1032.5h6M168.5,1050.5h6M174.5,1038.5V1064.5M171.5,1038.5h6M171.5,1064.5h6M177.5,1050.5V1072.5M174.5,1050.5h6M174.5,1072.5h6M180.5,1070.5V1090.5M177.5,1070.5h6M177.5,1090.5h6M183.5,1090.5V1112.5M180.5,1090.5h6M180.5,1112.5h6M186.5,1100.5V1122.5M183.5,1100.5h6M183.5,1122.5h6M189.5,1128.5V1148.5M186.5,1128.5h6M186.5,1148.5h6M192.5,1134.5V1150.5M189.5,1134.5h6M189.5,1150.5h6M195.5,1130.5V1142.5M192.5,1130.5h6M192.5,1142.5h6M198.5,1104.5V1124.5M195.5,1104.5h6M195.5,1124.5h6M201.5,1108.5V1122.5M198.5,1108.5h6M198.5,1122.5h6M203.5,1110.5V1126.5M200.5,1110.5h6M200.5,1126.5h6" fill="none" stroke="#2020e0" stroke-opacity="0.72" stroke-width="1.0" clip-path="url(#c7)"/><path d="M52.25,1153.44L52.75,1153.43L53.25,1153.42L53.75,1153.41L54.25,1153.39L54.75,1153.38L55.25,1153.37L55.75,1153.35L56.25,1153.33L56.75,1153.32L57.25,1153.3L57.75,1153.28L58.25,1153.26L58.75,1153.24L59.25,1153.22L59.75,1153.19L60.25,1153.17L60.75,1153.14L61.25,1153.11L61.75,1153.08L62.25,1153.05L62.75,1153.01L63.25,1152.98L63.75,1152.94L64.25,1152.9L64.75,1152.86L65.25,1152.81L65.75,1152.77L66.25,1152.72L66.75,1152.66L67.25,1152.61L67.75,1152.55L68.25,1152.49L68.75,1152.43L69.25,1152.36L69.75,1152.29L70.25,1152.21L70.75,1152.13L71.25,1152.05L71.75,1151.97L72.25,1151.87L72.75,1151.78L73.25,1151.68L73.75,1151.57L74.25,1151.46L74.75,1151.35L75.25,1151.22L75.75,1151.1L76.25,1150.96L76.75,1150.82L77.25,1150.67L77.75,1150.52L78.25,1150.36L78.75,1150.19L79.25,1150.02L79.75,1149.83L80.25,1149.64L80.75,1149.44L81.25,1149.23L81.75,1149.01L82.25,1148.78L82.75,1148.54L83.25,1148.29L83.75,1148.03L84.25,1147.76L84.75,1147.48L85.25,1147.18L85.75,1146.88L86.25,1146.56L86.75,1146.22L87.25,1145.88L87.75,1145.52L88.25,1145.15L88.75,1144.76L89.25,1144.35L89.75,1143.93L90.25,1143.5L90.75,1143.05L91.25,1142.58L91.75,1142.09L92.25,1141.59L92.75,1141.06L93.25,1140.52L93.75,1139.96L94.25,1139.38L94.75,1138.78L95.25,1138.16L95.75,1137.51L96.25,1136.85L96.75,1136.16L97.25,1135.45L97.75,1134.72L98.25,1133.96L98.75,1133.18L99.25,1132.37L99.75,1131.54L100.25,1130.68L100.75,1129.8L101.25,1128.89L101.75,1127.95L102.25,1126.98L102.75,1125.99L103.25,1124.97L103.75,1123.92L104.25,1122.84L104.75,1121.74L105.25,1120.6L105.75,1119.43L106.25,1118.23L106.75,1117.01L107.25,1115.75L107.75,1114.46L108.25,1113.14L108.75,1111.78L109.25,1110.4L109.75,1108.98L110.25,1107.53L110.75,1106.05L111.25,1104.54L111.75,1103L112.25,1101.42L112.75,1099.81L113.25,1098.17L113.75,1096.5L114.25,1094.8L114.75,1093.06L115.25,1091.3L115.75,1089.5L116.25,1087.68L116.75,1085.82L117.25,1083.94L117.75,1082.02L118.25,1080.08L118.75,1078.11L119.25,1076.11L119.75,1074.09L120.25,1072.04L120.75,1069.97L121.25,1067.87L121.75,1065.75L122.25,1063.61L122.75,1061.44L123.25,1059.26L123.75,1057.06L124.25,1054.84L124.75,1052.6L125.25,1050.35L125.75,1048.09L126.25,1045.81L126.75,1043.53L127.25,1041.23L127.75,1038.93L128.25,1036.62L128.75,1034.31L129.25,1032L129.75,1029.68L130.25,1027.37L130.75,1025.06L131.25,1022.76L131.75,1020.46L132.25,1018.17L132.75,1015.9L133.25,1013.64L133.75,1011.39L134.25,1009.17L134.75,1006.96L135.25,1004.78L135.75,1002.63L136.25,1000.5L136.75,998.4L137.25,996.34L137.75,994.31L138.25,992.32L138.75,990.37L139.25,988.46L139.75,986.6L140.25,984.79L140.75,983.03L141.25,981.33L141.75,979.68L142.25,978.09L142.75,976.56L143.25,975.1L143.75,973.71L144.25,972.39L144.75,971.14L145.25,969.97L145.75,968.89L146.25,967.88L146.75,966.97L147.25,966.14L147.75,965.41L148.25,964.78L148.75,964.26L149.25,963.85L149.75,963.56L150.25,963.41L150.75,963.41L151.25,963.45L151.75,963.54L152.25,963.68L152.75,963.87L153.25,964.11L153.75,964.41L154.25,964.76L154.75,965.16L155.25,965.62L155.75,966.14L156.25,966.72L156.75,967.35L157.25,968.04L157.75,968.79L158.25,969.59L158.75,970.46L159.25,971.38L159.75,972.35L160.25,973.39L160.75,974.47L161.25,975.62L161.75,976.82L162.25,978.07L162.75,979.37L163.25,980.73L163.75,982.13L164.25,983.59L164.75,985.1L165.25,986.65L165.75,988.25L166.25,989.89L166.75,991.58L167.25,993.3L167.75,995.07L168.25,996.88L168.75,998.73L169.25,1000.61L169.75,1002.53L170.25,1004.48L170.75,1006.46L171.25,1008.47L171.75,1010.5L172.25,1012.57L172.75,1014.65L173.25,1016.76L173.75,1018.89L174.25,1021.04L174.75,1023.21L175.25,1025.39L175.75,1027.58L176.25,1029.78L176.75,1032L177.25,1034.22L177.75,1036.45L178.25,1038.68L178.75,1040.92L179.25,1043.16L179.75,1045.39L180.25,1047.63L180.75,1049.86L181.25,1052.08L181.75,1054.3L182.25,1056.51L182.75,1058.71L183.25,1060.89L183.75,1063.07L184.25,1065.23L184.75,1067.37L185.25,1069.49L185.75,1071.6L186.25,1073.69L186.75,1075.76L187.25,1077.8L187.75,1079.83L188.25,1081.82L188.75,1083.8L189.25,1085.75L189.75,1087.67L190.25,1089.56L190.75,1091.43L191.25,1093.27L191.75,1095.08L192.25,1096.85L192.75,1098.6L193.25,1100.32L193.75,1102L194.25,1103.66L194.75,1105.28L195.25,1106.87L195.75,1108.42L196.25,1109.94L196.75,1111.43L197.25,1112.89L197.75,1114.31L198.25,1115.7L198.75,1117.06L199.25,1118.39L199.75,1119.68L200.25,1120.93L200.75,1122.16L201.25,1123.35L201.75,1124.51L202.25,1125.64L202.75,1126.73L203.25,1127.8L203.75,1128.83L204.25,1129.83L204.75,1130.8L205.25,1131.74L205.75,1132.66L206.25,1133.54L206.75,1134.39L207.25,1135.22L207.75,1136.02L208.25,1136.79L208.75,1137.53L209.25,1138.25L209.75,1138.95L210.25,1139.61L210.75,1140.26L211.25,1140.88L211.75,1141.47L212.25,1142.05L212.75,1142.6L213.25,1143.13L213.75,1143.64L214.25,1144.13L214.75,1144.59L215.25,1145.04L215.75,1145.47L216.25,1145.89L216.75,1146.28L217.25,1146.66L217.75,1147.02L218.25,1147.37L218.75,1147.7L219.25,1148.01L219.75,1148.31L220.25,1148.6L220.75,1148.87L221.25,1149.13L221.75,1149.38L222.25,1149.62L222.75,1149.84L223.25,1150.06L223.75,1150.26L224.25,1150.45L224.75,1150.63L225.25,1150.81L225.75,1150.97L226.25,1151.13L226.75,1151.28L227.25,1151.42L227.75,1151.55L228.25,1151.68L228.75,1151.79L229.25,1151.91L229.75,1152.01L230.25,1152.11L230.75,1152.21L231.25,1152.3L231.75,1152.38L232.25,1152.46L232.75,1152.53L233.25,1152.6L233.75,1152.67L234.25,1152.73L234.75,1152.79L235.25,1152.84L235.75,1152.9L236.25,1152.94L236.75,1152.99L237.25,1153.03L237.75,1153.07L238.25,1153.11L238.75,1153.14L239.25,1153.17L239.75,1153.21L240.25,1153.23L240.75,1153.26L241.25,1153.28L241.75,1153.31L242.25,1153.33L242.75,1153.35L243.25,1153.37L243.75,1153.39L244.25,1153.4L244.75,1153.42L245.25,1153.43L245.75,1153.44L246.25,1153.46L246.75,1153.47L247.25,1153.48L247.75,1153.49L248.25,1153.5L248.75,1153.5L249.25,1153.51L249.75,1153.52L250.25,1153.53L250.75,1153.53L251.25,1153.54L251.75,1153.54L252.25,1153.55L252.75,1153.55L253.25,1153.56" fill="none" stroke="#da1f7b" stroke-width="1.6" clip-path="url(#c7)"/><path d="M52.25,1152.79L52.75,1152.76L53.25,1152.72L53.75,1152.67L54.25,1152.63L54.75,1152.59L55.25,1152.54L55.75,1152.49L56.25,1152.44L56.75,1152.39L57.25,1152.33L57.75,1152.27L58.25,1152.21L58.75,1152.15L59.25,1152.08L59.75,1152.02L60.25,1151.94L60.75,1151.87L61.25,1151.79L61.75,1151.71L62.25,1151.63L62.75,1151.54L63.25,1151.45L63.75,1151.36L64.25,1151.26L64.75,1151.16L65.25,1151.05L65.75,1150.94L66.25,1150.83L66.75,1150.71L67.25,1150.59L67.75,1150.46L68.25,1150.33L68.75,1150.19L69.25,1150.05L69.75,1149.9L70.25,1149.75L70.75,1149.59L71.25,1149.42L71.75,1149.25L72.25,1149.07L72.75,1148.89L73.25,1148.7L73.75,1148.5L74.25,1148.29L74.75,1148.08L75.25,1147.86L75.75,1147.63L76.25,1147.39L76.75,1147.15L77.25,1146.9L77.75,1146.63L78.25,1146.36L78.75,1146.08L79.25,1145.79L79.75,1145.49L80.25,1145.18L80.75,1144.86L81.25,1144.53L81.75,1144.19L82.25,1143.84L82.75,1143.48L83.25,1143.1L83.75,1142.71L84.25,1142.31L84.75,1141.9L85.25,1141.47L85.75,1141.03L86.25,1140.58L86.75,1140.11L87.25,1139.63L87.75,1139.13L88.25,1138.62L88.75,1138.09L89.25,1137.55L89.75,1136.99L90.25,1136.42L90.75,1135.83L91.25,1135.22L91.75,1134.59L92.25,1133.95L92.75,1133.29L93.25,1132.61L93.75,1131.91L94.25,1131.19L94.75,1130.45L95.25,1129.69L95.75,1128.92L96.25,1128.12L96.75,1127.3L97.25,1126.46L97.75,1125.6L98.25,1124.71L98.75,1123.81L99.25,1122.88L99.75,1121.93L100.25,1120.95L100.75,1119.95L101.25,1118.93L101.75,1117.89L102.25,1116.81L102.75,1115.72L103.25,1114.6L103.75,1113.46L104.25,1112.29L104.75,1111.09L105.25,1109.87L105.75,1108.62L106.25,1107.35L106.75,1106.05L107.25,1104.72L107.75,1103.37L108.25,1101.99L108.75,1100.58L109.25,1099.15L109.75,1097.69L110.25,1096.2L110.75,1094.69L111.25,1093.14L111.75,1091.58L112.25,1089.98L112.75,1088.36L113.25,1086.71L113.75,1085.03L114.25,1083.33L114.75,1081.61L115.25,1079.85L115.75,1078.07L116.25,1076.27L116.75,1074.44L117.25,1072.59L117.75,1070.71L118.25,1068.81L118.75,1066.88L119.25,1064.93L119.75,1062.96L120.25,1060.97L120.75,1058.96L121.25,1056.93L121.75,1054.88L122.25,1052.81L122.75,1050.72L123.25,1048.61L123.75,1046.49L124.25,1044.36L124.75,1042.21L125.25,1040.05L125.75,1037.87L126.25,1035.69L126.75,1033.5L127.25,1031.3L127.75,1029.09L128.25,1026.88L128.75,1024.67L129.25,1022.45L129.75,1020.24L130.25,1018.02L130.75,1015.81L131.25,1013.61L131.75,1011.41L132.25,1009.22L132.75,1007.04L133.25,1004.88L133.75,1002.73L134.25,1000.6L134.75,998.49L135.25,996.41L135.75,994.35L136.25,992.32L136.75,990.31L137.25,988.35L137.75,986.42L138.25,984.53L138.75,982.68L139.25,980.88L139.75,979.13L140.25,977.44L140.75,975.8L141.25,974.23L141.75,972.72L142.25,971.28L142.75,969.93L143.25,968.65L143.75,967.47L144.25,966.39L144.75,965.41L145.25,964.55L145.75,963.82L146.25,963.25L146.75,962.88L147.25,962.81L147.75,962.87L148.25,962.99L148.75,963.18L149.25,963.43L149.75,963.75L150.25,964.14L150.75,964.59L151.25,965.11L151.75,965.7L152.25,966.36L152.75,967.08L153.25,967.86L153.75,968.72L154.25,969.63L154.75,970.61L155.25,971.66L155.75,972.76L156.25,973.93L156.75,975.16L157.25,976.44L157.75,977.78L158.25,979.18L158.75,980.64L159.25,982.14L159.75,983.7L160.25,985.31L160.75,986.97L161.25,988.68L161.75,990.43L162.25,992.22L162.75,994.06L163.25,995.94L163.75,997.85L164.25,999.81L164.75,1001.8L165.25,1003.82L165.75,1005.87L166.25,1007.95L166.75,1010.05L167.25,1012.19L167.75,1014.34L168.25,1016.52L168.75,1018.71L169.25,1020.93L169.75,1023.15L170.25,1025.4L170.75,1027.65L171.25,1029.91L171.75,1032.18L172.25,1034.45L172.75,1036.73L173.25,1039.01L173.75,1041.3L174.25,1043.58L174.75,1045.85L175.25,1048.12L175.75,1050.39L176.25,1052.64L176.75,1054.89L177.25,1057.13L177.75,1059.35L178.25,1061.56L178.75,1063.75L179.25,1065.93L179.75,1068.08L180.25,1070.22L180.75,1072.34L181.25,1074.43L181.75,1076.51L182.25,1078.56L182.75,1080.58L183.25,1082.58L183.75,1084.55L184.25,1086.49L184.75,1088.41L185.25,1090.29L185.75,1092.15L186.25,1093.98L186.75,1095.77L187.25,1097.54L187.75,1099.27L188.25,1100.97L188.75,1102.64L189.25,1104.27L189.75,1105.88L190.25,1107.44L190.75,1108.98L191.25,1110.48L191.75,1111.95L192.25,1113.39L192.75,1114.79L193.25,1116.16L193.75,1117.49L194.25,1118.79L194.75,1120.06L195.25,1121.3L195.75,1122.5L196.25,1123.67L196.75,1124.81L197.25,1125.91L197.75,1126.99L198.25,1128.03L198.75,1129.04L199.25,1130.02L199.75,1130.98L200.25,1131.9L200.75,1132.79L201.25,1133.66L201.75,1134.49L202.25,1135.3L202.75,1136.09L203.25,1136.84L203.75,1137.57L204.25,1138.28L204.75,1138.96L205.25,1139.61L205.75,1140.24L206.25,1140.85L206.75,1141.44L207.25,1142L207.75,1142.54L208.25,1143.06L208.75,1143.56L209.25,1144.04L209.75,1144.51L210.25,1144.95L210.75,1145.37L211.25,1145.78L211.75,1146.17L212.25,1146.54L212.75,1146.9L213.25,1147.24L213.75,1147.57L214.25,1147.88L214.75,1148.18L215.25,1148.47L215.75,1148.74L216.25,1149L216.75,1149.25L217.25,1149.48L217.75,1149.71L218.25,1149.92L218.75,1150.13L219.25,1150.32L219.75,1150.5L220.25,1150.68L220.75,1150.85L221.25,1151L221.75,1151.15L222.25,1151.3L222.75,1151.43L223.25,1151.56L223.75,1151.68L224.25,1151.8L224.75,1151.9L225.25,1152.01L225.75,1152.1L226.25,1152.2L226.75,1152.28L227.25,1152.36L227.75,1152.44L228.25,1152.51L228.75,1152.58L229.25,1152.65L229.75,1152.71L230.25,1152.77L230.75,1152.82L231.25,1152.87L231.75,1152.92L232.25,1152.96L232.75,1153.01L233.25,1153.05L233.75,1153.08L234.25,1153.12L234.75,1153.15L235.25,1153.18L235.75,1153.21L236.25,1153.24L236.75,1153.26L237.25,1153.29L237.75,1153.31L238.25,1153.33L238.75,1153.35L239.25,1153.37L239.75,1153.38L240.25,1153.4L240.75,1153.41L241.25,1153.43L241.75,1153.44L242.25,1153.45L242.75,1153.46L243.25,1153.47L243.75,1153.48L244.25,1153.49L244.75,1153.5L245.25,1153.51L245.75,1153.51L246.25,1153.52L246.75,1153.53L247.25,1153.53L247.75,1153.54L248.25,1153.54L248.75,1153.55L249.25,1153.55L249.75,1153.56L250.25,1153.56L250.75,1153.56L251.25,1153.57L251.75,1153.57L252.25,1153.57L252.75,1153.57L253.25,1153.58" fill="none" stroke="#1c1cc0" stroke-width="1.6" clip-path="url(#c7)"/><text x="51.75" y="1173.6" font-size="14.2" fill="#000" text-anchor="middle" textLength="7.8" lengthAdjust="spacingAndGlyphs" stroke="#fff" stroke-width="0.35">0</text><text x="92.03" y="1173.6" font-size="14.2" fill="#000" text-anchor="middle" textLength="31.2" lengthAdjust="spacingAndGlyphs" stroke="#fff" stroke-width="0.35">1000</text><text x="132.31" y="1173.6" font-size="14.2" fill="#000" text-anchor="middle" textLength="31.2" lengthAdjust="spacingAndGlyphs" stroke="#fff" stroke-width="0.35">2000</text><text x="172.59" y="1173.6" font-size="14.2" fill="#000" text-anchor="middle" textLength="31.2" lengthAdjust="spacingAndGlyphs" stroke="#fff" stroke-width="0.35">3000</text><text x="212.87" y="1173.6" font-size="14.2" fill="#000" text-anchor="middle" textLength="31.2" lengthAdjust="spacingAndGlyphs" stroke="#fff" stroke-width="0.35">4000</text><text x="253.15" y="1173.6" font-size="14.2" fill="#000" text-anchor="middle" textLength="31.2" lengthAdjust="spacingAndGlyphs" stroke="#fff" stroke-width="0.35">5000</text><text x="46.35" y="1154.7" font-size="14.2" fill="#000" text-anchor="end" textLength="18.5" lengthAdjust="spacingAndGlyphs" stroke="#fff" stroke-width="0.35">0.0</text><text x="46.35" y="1121.2" font-size="14.2" fill="#000" text-anchor="end" textLength="18.5" lengthAdjust="spacingAndGlyphs" stroke="#fff" stroke-width="0.35">0.2</text><text x="46.35" y="1083" font-size="14.2" fill="#000" text-anchor="end" textLength="18.5" lengthAdjust="spacingAndGlyphs" stroke="#fff" stroke-width="0.35">0.4</text><text x="46.35" y="1044.8" font-size="14.2" fill="#000" text-anchor="end" textLength="18.5" lengthAdjust="spacingAndGlyphs" stroke="#fff" stroke-width="0.35">0.6</text><text x="46.35" y="1006.6" font-size="14.2" fill="#000" text-anchor="end" textLength="18.5" lengthAdjust="spacingAndGlyphs" stroke="#fff" stroke-width="0.35">0.8</text><text x="46.35" y="968.4" font-size="14.2" fill="#000" text-anchor="end" textLength="18.5" lengthAdjust="spacingAndGlyphs" stroke="#fff" stroke-width="0.35">1.0</text><text x="46.35" y="933.9" font-size="14.2" fill="#000" text-anchor="end" textLength="18.5" lengthAdjust="spacingAndGlyphs" stroke="#fff" stroke-width="0.35">1.2</text><text x="124.15" y="917.3" font-size="15.6" fill="#000" textLength="37.6" lengthAdjust="spacingAndGlyphs" stroke="#fff" stroke-width="0.35">Loop</text><text x="176.25" y="917.3" font-size="15.6" fill="#000" text-anchor="middle" textLength="8.6" lengthAdjust="spacingAndGlyphs" stroke="#fff" stroke-width="0.35">7</text><text x="15.8" y="1190" font-size="13.2" fill="#000" textLength="53.7" lengthAdjust="spacingAndGlyphs" stroke="#fff" stroke-width="0.35">Seconds</text><text x="77.7" y="1190" font-size="13.2" fill="#000" textLength="29.1" lengthAdjust="spacingAndGlyphs" stroke="#fff" stroke-width="0.35">from</text><text x="113.8" y="1190" font-size="13.2" fill="#000" textLength="79.4" lengthAdjust="spacingAndGlyphs" stroke="#fff" stroke-width="0.35">06-Nov-99</text><text x="202.5" y="1190" font-size="13.2" fill="#000" textLength="85.2" lengthAdjust="spacingAndGlyphs" stroke="#fff" stroke-width="0.35">02:21:13.000</text><text x="0" y="0" font-size="12.9" fill="#000" text-anchor="middle" textLength="186.6" lengthAdjust="spacingAndGlyphs" stroke="#fff" stroke-width="0.35" transform="translate(15.6,1039.5) rotate(-90)">Normalized Intensity (DN/s)</text><text x="57" y="943.7" font-size="10.9" fill="#111" textLength="10.7" lengthAdjust="spacingAndGlyphs">&#916;t</text><text x="68.7" y="946.3" font-size="8.3" fill="#111" textLength="12.6" lengthAdjust="spacingAndGlyphs">rise</text><text x="82.3" y="943.7" font-size="10.9" fill="#111" textLength="35.5" lengthAdjust="spacingAndGlyphs">=149s</text><text x="57" y="962.7" font-size="10.9" fill="#111" textLength="10.7" lengthAdjust="spacingAndGlyphs">&#916;t</text><text x="69" y="965.7" font-size="8.3" fill="#111" textLength="20" lengthAdjust="spacingAndGlyphs">decay</text><text x="90.3" y="962.7" font-size="10.9" fill="#111" textLength="35.5" lengthAdjust="spacingAndGlyphs">=187s</text><text x="57.3" y="981.3" font-size="10.9" fill="#111" textLength="5.7" lengthAdjust="spacingAndGlyphs">&#964;</text><text x="65" y="983.9" font-size="7.6" fill="#111" textLength="12.7" lengthAdjust="spacingAndGlyphs">195</text><text x="79.5" y="981.3" font-size="10.9" fill="#111" textLength="42.6" lengthAdjust="spacingAndGlyphs">=1450s</text></g>
<g><clipPath id="c8"><rect x="364.6" y="924.4" width="195.35" height="230.2"/></clipPath><rect x="364.6" y="924.4" width="195.35" height="229.2" fill="none" stroke="#606060" stroke-width="1.25"/><path d="M364.6,1153.6v-4.5M364.6,924.4v4.5M369.48,1153.6v-2.0M369.48,924.4v2.0M374.37,1153.6v-2.0M374.37,924.4v2.0M379.25,1153.6v-2.0M379.25,924.4v2.0M384.14,1153.6v-2.0M384.14,924.4v2.0M389.02,1153.6v-2.0M389.02,924.4v2.0M393.9,1153.6v-2.0M393.9,924.4v2.0M398.79,1153.6v-2.0M398.79,924.4v2.0M403.67,1153.6v-2.0M403.67,924.4v2.0M408.55,1153.6v-2.0M408.55,924.4v2.0M413.44,1153.6v-4.5M413.44,924.4v4.5M418.32,1153.6v-2.0M418.32,924.4v2.0M423.21,1153.6v-2.0M423.21,924.4v2.0M428.09,1153.6v-2.0M428.09,924.4v2.0M432.97,1153.6v-2.0M432.97,924.4v2.0M437.86,1153.6v-2.0M437.86,924.4v2.0M442.74,1153.6v-2.0M442.74,924.4v2.0M447.62,1153.6v-2.0M447.62,924.4v2.0M452.51,1153.6v-2.0M452.51,924.4v2.0M457.39,1153.6v-2.0M457.39,924.4v2.0M462.28,1153.6v-4.5M462.28,924.4v4.5M467.16,1153.6v-2.0M467.16,924.4v2.0M472.04,1153.6v-2.0M472.04,924.4v2.0M476.93,1153.6v-2.0M476.93,924.4v2.0M481.81,1153.6v-2.0M481.81,924.4v2.0M486.69,1153.6v-2.0M486.69,924.4v2.0M491.58,1153.6v-2.0M491.58,924.4v2.0M496.46,1153.6v-2.0M496.46,924.4v2.0M501.35,1153.6v-2.0M501.35,924.4v2.0M506.23,1153.6v-2.0M506.23,924.4v2.0M511.11,1153.6v-4.5M511.11,924.4v4.5M516,1153.6v-2.0M516,924.4v2.0M520.88,1153.6v-2.0M520.88,924.4v2.0M525.76,1153.6v-2.0M525.76,924.4v2.0M530.65,1153.6v-2.0M530.65,924.4v2.0M535.53,1153.6v-2.0M535.53,924.4v2.0M540.42,1153.6v-2.0M540.42,924.4v2.0M545.3,1153.6v-2.0M545.3,924.4v2.0M550.18,1153.6v-2.0M550.18,924.4v2.0M555.07,1153.6v-2.0M555.07,924.4v2.0M559.95,1153.6v-4.5M559.95,924.4v4.5M364.6,1153.6h4.5M559.95,1153.6h-4.5M364.6,1147.87h2.0M559.95,1147.87h-2.0M364.6,1142.14h2.0M559.95,1142.14h-2.0M364.6,1136.41h2.0M559.95,1136.41h-2.0M364.6,1130.68h2.0M559.95,1130.68h-2.0M364.6,1124.95h2.0M559.95,1124.95h-2.0M364.6,1119.22h2.0M559.95,1119.22h-2.0M364.6,1113.49h2.0M559.95,1113.49h-2.0M364.6,1107.76h2.0M559.95,1107.76h-2.0M364.6,1102.03h2.0M559.95,1102.03h-2.0M364.6,1096.3h4.5M559.95,1096.3h-4.5M364.6,1090.57h2.0M559.95,1090.57h-2.0M364.6,1084.84h2.0M559.95,1084.84h-2.0M364.6,1079.11h2.0M559.95,1079.11h-2.0M364.6,1073.38h2.0M559.95,1073.38h-2.0M364.6,1067.65h2.0M559.95,1067.65h-2.0M364.6,1061.92h2.0M559.95,1061.92h-2.0M364.6,1056.19h2.0M559.95,1056.19h-2.0M364.6,1050.46h2.0M559.95,1050.46h-2.0M364.6,1044.73h2.0M559.95,1044.73h-2.0M364.6,1039h4.5M559.95,1039h-4.5M364.6,1033.27h2.0M559.95,1033.27h-2.0M364.6,1027.54h2.0M559.95,1027.54h-2.0M364.6,1021.81h2.0M559.95,1021.81h-2.0M364.6,1016.08h2.0M559.95,1016.08h-2.0M364.6,1010.35h2.0M559.95,1010.35h-2.0M364.6,1004.62h2.0M559.95,1004.62h-2.0M364.6,998.89h2.0M559.95,998.89h-2.0M364.6,993.16h2.0M559.95,993.16h-2.0M364.6,987.43h2.0M559.95,987.43h-2.0M364.6,981.7h4.5M559.95,981.7h-4.5M364.6,975.97h2.0M559.95,975.97h-2.0M364.6,970.24h2.0M559.95,970.24h-2.0M364.6,964.51h2.0M559.95,964.51h-2.0M364.6,958.78h2.0M559.95,958.78h-2.0M364.6,953.05h2.0M559.95,953.05h-2.0M364.6,947.32h2.0M559.95,947.32h-2.0M364.6,941.59h2.0M559.95,941.59h-2.0M364.6,935.86h2.0M559.95,935.86h-2.0M364.6,930.13h2.0M559.95,930.13h-2.0M364.6,924.4h4.5M559.95,924.4h-4.5" stroke="#606060" stroke-width="0.9" fill="none"/><path d="M398.5,1096.5V1113.5M395.5,1096.5h6M395.5,1113.5h6M400.5,1091.5V1111.5M397.5,1091.5h6M397.5,1111.5h6M403.5,1090.5V1108.5M400.5,1090.5h6M400.5,1108.5h6M405.5,1086.5V1105.5M402.5,1086.5h6M402.5,1105.5h6M408.5,1078.5V1093.5M405.5,1078.5h6M405.5,1093.5h6M410.5,1078.5V1090.5M407.5,1078.5h6M407.5,1090.5h6M414.5,1068.5V1086.5M411.5,1068.5h6M411.5,1086.5h6M417.5,1063.5V1095.5M414.5,1063.5h6M414.5,1095.5h6M420.5,1060.5V1080.5M417.5,1060.5h6M417.5,1080.5h6M423.5,1061.5V1078.5M420.5,1061.5h6M420.5,1078.5h6M425.5,1060.5V1076.5M422.5,1060.5h6M422.5,1076.5h6M428.5,1053.5V1076.5M425.5,1053.5h6M425.5,1076.5h6M430.5,1051.5V1073.5M427.5,1051.5h6M427.5,1073.5h6M433.5,1045.5V1065.5M430.5,1045.5h6M430.5,1065.5h6M435.5,1040.5V1060.5M432.5,1040.5h6M432.5,1060.5h6M438.5,1035.5V1055.5M435.5,1035.5h6M435.5,1055.5h6M440.5,1033.5V1051.5M437.5,1033.5h6M437.5,1051.5h6M443.5,1025.5V1040.5M440.5,1025.5h6M440.5,1040.5h6M445.5,1018.5V1038.5M442.5,1018.5h6M442.5,1038.5h6M448.5,1018.5V1036.5M445.5,1018.5h6M445.5,1036.5h6M450.5,1016.5V1035.5M447.5,1016.5h6M447.5,1035.5h6M453.5,1011.5V1030.5M450.5,1011.5h6M450.5,1030.5h6M455.5,1008.5V1028.5M452.5,1008.5h6M452.5,1028.5h6M458.5,1008.5V1025.5M455.5,1008.5h6M455.5,1025.5h6M460.5,1003.5V1018.5M457.5,1003.5h6M457.5,1018.5h6M462.5,981.5V1010.5M459.5,981.5h6M459.5,1010.5h6M465.5,963.5V994.5M462.5,963.5h6M462.5,994.5h6M468.5,959.5V990.5M465.5,959.5h6M465.5,990.5h6M471.5,959.5V983.5M468.5,959.5h6M468.5,983.5h6M474.5,944.5V971.5M471.5,944.5h6M471.5,971.5h6M477.5,944.5V965.5M474.5,944.5h6M474.5,965.5h6M480.5,930.5V955.5M477.5,930.5h6M477.5,955.5h6M483.5,928.5V954.5M480.5,928.5h6M480.5,954.5h6M486.5,925.5V948.5M483.5,925.5h6M483.5,948.5h6M489.5,925.5V944.5M486.5,925.5h6M486.5,944.5h6M491.5,928.5V948.5M488.5,928.5h6M488.5,948.5h6M494.5,932.5V957.5M491.5,932.5h6M491.5,957.5h6M497.5,934.5V957.5M494.5,934.5h6M494.5,957.5h6M500.5,946.5V969.5M497.5,946.5h6M497.5,969.5h6M503.5,952.5V977.5M500.5,952.5h6M500.5,977.5h6M506.5,963.5V988.5M503.5,963.5h6M503.5,988.5h6M509.5,977.5V1002.5M506.5,977.5h6M506.5,1002.5h6M512.5,988.5V1013.5M509.5,988.5h6M509.5,1013.5h6M515.5,1002.5V1025.5M512.5,1002.5h6M512.5,1025.5h6M518.5,1010.5V1033.5M515.5,1010.5h6M515.5,1033.5h6M520.5,1027.5V1048.5M517.5,1027.5h6M517.5,1048.5h6M523.5,1039.5V1060.5M520.5,1039.5h6M520.5,1060.5h6M526.5,1048.5V1072.5M523.5,1048.5h6M523.5,1072.5h6M529.5,1060.5V1079.5M526.5,1060.5h6M526.5,1079.5h6M532.5,1072.5V1089.5M529.5,1072.5h6M529.5,1089.5h6M535.5,1077.5V1099.5M532.5,1077.5h6M532.5,1099.5h6M538.5,1091.5V1112.5M535.5,1091.5h6M535.5,1112.5h6M541.5,1097.5V1116.5M538.5,1097.5h6M538.5,1116.5h6M544.5,1106.5V1128.5M541.5,1106.5h6M541.5,1128.5h6M547.5,1122.5V1141.5M544.5,1122.5h6M544.5,1141.5h6M549.5,1130.5V1143.5M546.5,1130.5h6M546.5,1143.5h6" fill="none" stroke="#dc1f80" stroke-opacity="0.6" stroke-width="1.0" clip-path="url(#c8)"/><path d="M375.5,1120.5V1136.5M372.5,1120.5h6M372.5,1136.5h6M378.5,1116.5V1135.5M375.5,1116.5h6M375.5,1135.5h6M380.5,1113.5V1131.5M377.5,1113.5h6M377.5,1131.5h6M383.5,1106.5V1123.5M380.5,1106.5h6M380.5,1123.5h6M385.5,1103.5V1118.5M382.5,1103.5h6M382.5,1118.5h6M388.5,1101.5V1116.5M385.5,1101.5h6M385.5,1116.5h6M390.5,1093.5V1111.5M387.5,1093.5h6M387.5,1111.5h6M393.5,1086.5V1105.5M390.5,1086.5h6M390.5,1105.5h6M395.5,1073.5V1090.5M392.5,1073.5h6M392.5,1090.5h6M398.5,1068.5V1083.5M395.5,1068.5h6M395.5,1083.5h6M400.5,1056.5V1071.5M397.5,1056.5h6M397.5,1071.5h6M403.5,1051.5V1065.5M400.5,1051.5h6M400.5,1065.5h6M405.5,1040.5V1060.5M402.5,1040.5h6M402.5,1060.5h6M408.5,1036.5V1050.5M405.5,1036.5h6M405.5,1050.5h6M414.5,1018.5V1043.5M411.5,1018.5h6M411.5,1043.5h6M416.5,1021.5V1041.5M413.5,1021.5h6M413.5,1041.5h6M419.5,1020.5V1040.5M416.5,1020.5h6M416.5,1040.5h6M421.5,1020.5V1041.5M418.5,1020.5h6M418.5,1041.5h6M424.5,998.5V1021.5M421.5,998.5h6M421.5,1021.5h6M426.5,1000.5V1021.5M423.5,1000.5h6M423.5,1021.5h6M429.5,998.5V1020.5M426.5,998.5h6M426.5,1020.5h6M431.5,995.5V1018.5M428.5,995.5h6M428.5,1018.5h6M434.5,993.5V1016.5M431.5,993.5h6M431.5,1016.5h6M436.5,991.5V1013.5M433.5,991.5h6M433.5,1013.5h6M439.5,988.5V1008.5M436.5,988.5h6M436.5,1008.5h6M441.5,985.5V1003.5M438.5,985.5h6M438.5,1003.5h6M444.5,980.5V998.5M441.5,980.5h6M441.5,998.5h6M446.5,973.5V995.5M443.5,973.5h6M443.5,995.5h6M449.5,975.5V996.5M446.5,975.5h6M446.5,996.5h6M451.5,980.5V1000.5M448.5,980.5h6M448.5,1000.5h6M454.5,980.5V998.5M451.5,980.5h6M451.5,998.5h6M456.5,980.5V1001.5M453.5,980.5h6M453.5,1001.5h6M459.5,980.5V1006.5M456.5,980.5h6M456.5,1006.5h6M461.5,983.5V1010.5M458.5,983.5h6M458.5,1010.5h6M460.5,981.5V1013.5M457.5,981.5h6M457.5,1013.5h6M462.5,983.5V1015.5M459.5,983.5h6M459.5,1015.5h6M465.5,1000.5V1027.5M462.5,1000.5h6M462.5,1027.5h6M468.5,1008.5V1046.5M465.5,1008.5h6M465.5,1046.5h6M471.5,1008.5V1033.5M468.5,1008.5h6M468.5,1033.5h6M474.5,1008.5V1029.5M471.5,1008.5h6M471.5,1029.5h6M477.5,1025.5V1060.5M474.5,1025.5h6M474.5,1060.5h6M480.5,1041.5V1064.5M477.5,1041.5h6M477.5,1064.5h6M483.5,1042.5V1068.5M480.5,1042.5h6M480.5,1068.5h6M486.5,1048.5V1072.5M483.5,1048.5h6M483.5,1072.5h6M489.5,1058.5V1079.5M486.5,1058.5h6M486.5,1079.5h6M491.5,1060.5V1079.5M488.5,1060.5h6M488.5,1079.5h6M494.5,1060.5V1083.5M491.5,1060.5h6M491.5,1083.5h6M497.5,1066.5V1087.5M494.5,1066.5h6M494.5,1087.5h6M500.5,1077.5V1108.5M497.5,1077.5h6M497.5,1108.5h6M503.5,1091.5V1108.5M500.5,1091.5h6M500.5,1108.5h6M506.5,1093.5V1116.5M503.5,1093.5h6M503.5,1116.5h6M509.5,1101.5V1120.5M506.5,1101.5h6M506.5,1120.5h6M512.5,1102.5V1124.5M509.5,1102.5h6M509.5,1124.5h6M515.5,1102.5V1122.5M512.5,1102.5h6M512.5,1122.5h6M518.5,1110.5V1128.5M515.5,1110.5h6M515.5,1128.5h6M520.5,1110.5V1131.5M517.5,1110.5h6M517.5,1131.5h6M523.5,1116.5V1133.5M520.5,1116.5h6M520.5,1133.5h6M526.5,1122.5V1141.5M523.5,1122.5h6M523.5,1141.5h6M529.5,1130.5V1149.5M526.5,1130.5h6M526.5,1149.5h6M532.5,1131.5V1147.5M529.5,1131.5h6M529.5,1147.5h6M535.5,1131.5V1151.5M532.5,1131.5h6M532.5,1151.5h6M538.5,1135.5V1153.5M535.5,1135.5h6M535.5,1153.5h6M541.5,1139.5V1153.5M538.5,1139.5h6M538.5,1153.5h6" fill="none" stroke="#2020e0" stroke-opacity="0.72" stroke-width="1.0" clip-path="url(#c8)"/><path d="M364.6,1146.05L365.1,1145.86L365.6,1145.66L366.1,1145.46L366.6,1145.25L367.1,1145.04L367.6,1144.83L368.1,1144.61L368.6,1144.38L369.1,1144.15L369.6,1143.92L370.1,1143.68L370.6,1143.44L371.1,1143.19L371.6,1142.93L372.1,1142.68L372.6,1142.41L373.1,1142.14L373.6,1141.87L374.1,1141.59L374.6,1141.3L375.1,1141.01L375.6,1140.72L376.1,1140.42L376.6,1140.11L377.1,1139.8L377.6,1139.48L378.1,1139.15L378.6,1138.82L379.1,1138.48L379.6,1138.14L380.1,1137.79L380.6,1137.43L381.1,1137.07L381.6,1136.7L382.1,1136.32L382.6,1135.94L383.1,1135.55L383.6,1135.16L384.1,1134.75L384.6,1134.34L385.1,1133.93L385.6,1133.5L386.1,1133.07L386.6,1132.64L387.1,1132.19L387.6,1131.74L388.1,1131.28L388.6,1130.81L389.1,1130.34L389.6,1129.85L390.1,1129.36L390.6,1128.87L391.1,1128.36L391.6,1127.85L392.1,1127.33L392.6,1126.8L393.1,1126.26L393.6,1125.72L394.1,1125.16L394.6,1124.6L395.1,1124.03L395.6,1123.46L396.1,1122.87L396.6,1122.28L397.1,1121.68L397.6,1121.06L398.1,1120.45L398.6,1119.82L399.1,1119.18L399.6,1118.54L400.1,1117.88L400.6,1117.22L401.1,1116.55L401.6,1115.87L402.1,1115.18L402.6,1114.49L403.1,1113.78L403.6,1113.07L404.1,1112.35L404.6,1111.61L405.1,1110.87L405.6,1110.13L406.1,1109.37L406.6,1108.6L407.1,1107.83L407.6,1107.04L408.1,1106.25L408.6,1105.45L409.1,1104.64L409.6,1103.82L410.1,1102.99L410.6,1102.15L411.1,1101.31L411.6,1100.45L412.1,1099.59L412.6,1098.72L413.1,1097.84L413.6,1096.95L414.1,1096.05L414.6,1095.14L415.1,1094.23L415.6,1093.31L416.1,1092.38L416.6,1091.44L417.1,1090.49L417.6,1089.53L418.1,1088.57L418.6,1087.6L419.1,1086.62L419.6,1085.63L420.1,1084.64L420.6,1083.63L421.1,1082.62L421.6,1081.6L422.1,1080.58L422.6,1079.55L423.1,1078.51L423.6,1077.46L424.1,1076.4L424.6,1075.34L425.1,1074.27L425.6,1073.2L426.1,1072.12L426.6,1071.03L427.1,1069.94L427.6,1068.84L428.1,1067.73L428.6,1066.62L429.1,1065.5L429.6,1064.37L430.1,1063.24L430.6,1062.11L431.1,1060.97L431.6,1059.83L432.1,1058.68L432.6,1057.52L433.1,1056.36L433.6,1055.2L434.1,1054.03L434.6,1052.86L435.1,1051.69L435.6,1050.51L436.1,1049.33L436.6,1048.14L437.1,1046.95L437.6,1045.76L438.1,1044.57L438.6,1043.37L439.1,1042.17L439.6,1040.97L440.1,1039.77L440.6,1038.57L441.1,1037.36L441.6,1036.16L442.1,1034.95L442.6,1033.74L443.1,1032.53L443.6,1031.32L444.1,1030.12L444.6,1028.91L445.1,1027.7L445.6,1026.49L446.1,1025.29L446.6,1024.08L447.1,1022.88L447.6,1021.68L448.1,1020.48L448.6,1019.28L449.1,1018.09L449.6,1016.9L450.1,1015.71L450.6,1014.53L451.1,1013.34L451.6,1012.17L452.1,1010.99L452.6,1009.82L453.1,1008.66L453.6,1007.5L454.1,1006.34L454.6,1005.2L455.1,1004.05L455.6,1002.91L456.1,1001.78L456.6,1000.66L457.1,999.54L457.6,998.43L458.1,997.33L458.6,996.23L459.1,995.14L459.6,994.06L460.1,992.99L460.6,991.93L461.1,990.87L461.6,989.83L462.1,988.79L462.6,987.77L463.1,986.75L463.6,985.74L464.1,984.75L464.6,983.76L465.1,982.79L465.6,981.83L466.1,980.88L466.6,979.94L467.1,979.01L467.6,978.1L468.1,977.2L468.6,976.31L469.1,975.43L469.6,974.57L470.1,973.72L470.6,972.88L471.1,972.06L471.6,971.25L472.1,970.46L472.6,969.68L473.1,968.91L473.6,968.16L474.1,967.43L474.6,966.71L475.1,966.01L475.6,965.32L476.1,964.65L476.6,964L477.1,963.36L477.6,962.73L478.1,962.13L478.6,961.54L479.1,960.97L479.6,960.42L480.1,959.88L480.6,959.36L481.1,958.86L481.6,958.37L482.1,957.91L482.6,957.46L483.1,957.03L483.6,956.62L484.1,956.23L484.6,955.86L485.1,955.5L485.6,955.16L486.1,954.85L486.6,954.55L487.1,954.27L487.6,954.01L488.1,953.77L488.6,953.55L489.1,953.34L489.6,953.16L490.1,953L490.6,952.86L491.1,952.73L491.6,952.63L492.1,952.54L492.6,952.48L493.1,952.43L493.6,952.41L494.1,952.4L494.6,952.46L495.1,952.6L495.6,952.82L496.1,953.12L496.6,953.48L497.1,953.93L497.6,954.44L498.1,955.03L498.6,955.68L499.1,956.41L499.6,957.2L500.1,958.06L500.6,958.98L501.1,959.97L501.6,961.02L502.1,962.13L502.6,963.3L503.1,964.53L503.6,965.82L504.1,967.17L504.6,968.56L505.1,970.02L505.6,971.52L506.1,973.07L506.6,974.67L507.1,976.32L507.6,978.01L508.1,979.75L508.6,981.52L509.1,983.34L509.6,985.19L510.1,987.08L510.6,989.01L511.1,990.97L511.6,992.96L512.1,994.97L512.6,997.02L513.1,999.09L513.6,1001.18L514.1,1003.3L514.6,1005.43L515.1,1007.59L515.6,1009.76L516.1,1011.95L516.6,1014.15L517.1,1016.36L517.6,1018.58L518.1,1020.81L518.6,1023.04L519.1,1025.28L519.6,1027.52L520.1,1029.77L520.6,1032.02L521.1,1034.26L521.6,1036.5L522.1,1038.74L522.6,1040.97L523.1,1043.19L523.6,1045.41L524.1,1047.61L524.6,1049.81L525.1,1051.99L525.6,1054.16L526.1,1056.31L526.6,1058.45L527.1,1060.58L527.6,1062.68L528.1,1064.77L528.6,1066.83L529.1,1068.88L529.6,1070.9L530.1,1072.91L530.6,1074.89L531.1,1076.84L531.6,1078.77L532.1,1080.68L532.6,1082.56L533.1,1084.42L533.6,1086.25L534.1,1088.05L534.6,1089.82L535.1,1091.57L535.6,1093.28L536.1,1094.97L536.6,1096.63L537.1,1098.26L537.6,1099.86L538.1,1101.43L538.6,1102.98L539.1,1104.49L539.6,1105.97L540.1,1107.42L540.6,1108.85L541.1,1110.24L541.6,1111.6L542.1,1112.93L542.6,1114.24L543.1,1115.51L543.6,1116.75L544.1,1117.97L544.6,1119.16L545.1,1120.31L545.6,1121.44L546.1,1122.54L546.6,1123.61L547.1,1124.66L547.6,1125.67L548.1,1126.66L548.6,1127.63L549.1,1128.56L549.6,1129.47L550.1,1130.36L550.6,1131.22L551.1,1132.05L551.6,1132.86L552.1,1133.65L552.6,1134.41L553.1,1135.15L553.6,1135.86L554.1,1136.56L554.6,1137.23L555.1,1137.88L555.6,1138.51L556.1,1139.12L556.6,1139.7L557.1,1140.27L557.6,1140.82L558.1,1141.35L558.6,1141.87L559.1,1142.36L559.6,1142.84" fill="none" stroke="#da1f7b" stroke-width="1.6" clip-path="url(#c8)"/><path d="M364.6,1139.67L365.1,1139.23L365.6,1138.78L366.1,1138.32L366.6,1137.84L367.1,1137.35L367.6,1136.86L368.1,1136.35L368.6,1135.83L369.1,1135.29L369.6,1134.75L370.1,1134.19L370.6,1133.62L371.1,1133.04L371.6,1132.44L372.1,1131.84L372.6,1131.21L373.1,1130.58L373.6,1129.93L374.1,1129.27L374.6,1128.6L375.1,1127.91L375.6,1127.21L376.1,1126.5L376.6,1125.77L377.1,1125.03L377.6,1124.27L378.1,1123.5L378.6,1122.72L379.1,1121.92L379.6,1121.11L380.1,1120.28L380.6,1119.44L381.1,1118.59L381.6,1117.72L382.1,1116.84L382.6,1115.95L383.1,1115.04L383.6,1114.11L384.1,1113.17L384.6,1112.22L385.1,1111.26L385.6,1110.28L386.1,1109.28L386.6,1108.28L387.1,1107.26L387.6,1106.22L388.1,1105.17L388.6,1104.11L389.1,1103.04L389.6,1101.95L390.1,1100.85L390.6,1099.74L391.1,1098.62L391.6,1097.48L392.1,1096.33L392.6,1095.17L393.1,1094L393.6,1092.82L394.1,1091.62L394.6,1090.42L395.1,1089.2L395.6,1087.98L396.1,1086.74L396.6,1085.49L397.1,1084.24L397.6,1082.97L398.1,1081.7L398.6,1080.42L399.1,1079.13L399.6,1077.83L400.1,1076.53L400.6,1075.22L401.1,1073.9L401.6,1072.57L402.1,1071.24L402.6,1069.91L403.1,1068.57L403.6,1067.23L404.1,1065.88L404.6,1064.53L405.1,1063.17L405.6,1061.81L406.1,1060.45L406.6,1059.09L407.1,1057.73L407.6,1056.37L408.1,1055.01L408.6,1053.65L409.1,1052.29L409.6,1050.93L410.1,1049.57L410.6,1048.22L411.1,1046.87L411.6,1045.52L412.1,1044.18L412.6,1042.84L413.1,1041.51L413.6,1040.18L414.1,1038.87L414.6,1037.55L415.1,1036.25L415.6,1034.96L416.1,1033.67L416.6,1032.39L417.1,1031.13L417.6,1029.87L418.1,1028.63L418.6,1027.39L419.1,1026.17L419.6,1024.97L420.1,1023.77L420.6,1022.59L421.1,1021.43L421.6,1020.28L422.1,1019.15L422.6,1018.03L423.1,1016.93L423.6,1015.85L424.1,1014.78L424.6,1013.74L425.1,1012.71L425.6,1011.7L426.1,1010.71L426.6,1009.75L427.1,1008.8L427.6,1007.87L428.1,1006.97L428.6,1006.09L429.1,1005.23L429.6,1004.4L430.1,1003.59L430.6,1002.8L431.1,1002.03L431.6,1001.3L432.1,1000.58L432.6,999.89L433.1,999.23L433.6,998.59L434.1,997.98L434.6,997.4L435.1,996.84L435.6,996.31L436.1,995.81L436.6,995.33L437.1,994.88L437.6,994.46L438.1,994.07L438.6,993.71L439.1,993.37L439.6,993.06L440.1,992.78L440.6,992.53L441.1,992.3L441.6,992.11L442.1,991.94L442.6,991.8L443.1,991.68L443.6,991.6L444.1,991.54L444.6,991.51L445.1,991.5L445.6,991.51L446.1,991.53L446.6,991.57L447.1,991.62L447.6,991.69L448.1,991.78L448.6,991.89L449.1,992.02L449.6,992.18L450.1,992.35L450.6,992.54L451.1,992.75L451.6,992.99L452.1,993.25L452.6,993.53L453.1,993.83L453.6,994.16L454.1,994.51L454.6,994.88L455.1,995.27L455.6,995.69L456.1,996.13L456.6,996.6L457.1,997.08L457.6,997.59L458.1,998.13L458.6,998.68L459.1,999.26L459.6,999.87L460.1,1000.49L460.6,1001.14L461.1,1001.81L461.6,1002.5L462.1,1003.22L462.6,1003.95L463.1,1004.71L463.6,1005.49L464.1,1006.29L464.6,1007.11L465.1,1007.96L465.6,1008.82L466.1,1009.7L466.6,1010.61L467.1,1011.53L467.6,1012.47L468.1,1013.43L468.6,1014.41L469.1,1015.41L469.6,1016.43L470.1,1017.46L470.6,1018.51L471.1,1019.57L471.6,1020.66L472.1,1021.75L472.6,1022.87L473.1,1024L473.6,1025.14L474.1,1026.29L474.6,1027.46L475.1,1028.65L475.6,1029.84L476.1,1031.05L476.6,1032.26L477.1,1033.49L477.6,1034.73L478.1,1035.98L478.6,1037.24L479.1,1038.51L479.6,1039.78L480.1,1041.07L480.6,1042.36L481.1,1043.65L481.6,1044.96L482.1,1046.27L482.6,1047.58L483.1,1048.9L483.6,1050.22L484.1,1051.55L484.6,1052.88L485.1,1054.21L485.6,1055.55L486.1,1056.88L486.6,1058.22L487.1,1059.56L487.6,1060.9L488.1,1062.23L488.6,1063.57L489.1,1064.91L489.6,1066.24L490.1,1067.57L490.6,1068.9L491.1,1070.22L491.6,1071.54L492.1,1072.86L492.6,1074.17L493.1,1075.48L493.6,1076.78L494.1,1078.07L494.6,1079.36L495.1,1080.65L495.6,1081.92L496.1,1083.19L496.6,1084.45L497.1,1085.7L497.6,1086.94L498.1,1088.18L498.6,1089.4L499.1,1090.62L499.6,1091.82L500.1,1093.02L500.6,1094.2L501.1,1095.38L501.6,1096.54L502.1,1097.69L502.6,1098.84L503.1,1099.96L503.6,1101.08L504.1,1102.19L504.6,1103.28L505.1,1104.36L505.6,1105.43L506.1,1106.48L506.6,1107.52L507.1,1108.55L507.6,1109.57L508.1,1110.57L508.6,1111.56L509.1,1112.53L509.6,1113.49L510.1,1114.44L510.6,1115.37L511.1,1116.29L511.6,1117.2L512.1,1118.09L512.6,1118.96L513.1,1119.83L513.6,1120.67L514.1,1121.51L514.6,1122.33L515.1,1123.14L515.6,1123.93L516.1,1124.71L516.6,1125.47L517.1,1126.22L517.6,1126.96L518.1,1127.68L518.6,1128.39L519.1,1129.08L519.6,1129.76L520.1,1130.43L520.6,1131.08L521.1,1131.72L521.6,1132.35L522.1,1132.96L522.6,1133.56L523.1,1134.15L523.6,1134.72L524.1,1135.29L524.6,1135.83L525.1,1136.37L525.6,1136.9L526.1,1137.41L526.6,1137.91L527.1,1138.4L527.6,1138.87L528.1,1139.34L528.6,1139.79L529.1,1140.23L529.6,1140.66L530.1,1141.08L530.6,1141.49L531.1,1141.89L531.6,1142.28L532.1,1142.65L532.6,1143.02L533.1,1143.38L533.6,1143.73L534.1,1144.07L534.6,1144.39L535.1,1144.71L535.6,1145.02L536.1,1145.33L536.6,1145.62L537.1,1145.9L537.6,1146.18L538.1,1146.45L538.6,1146.71L539.1,1146.96L539.6,1147.2L540.1,1147.44L540.6,1147.67L541.1,1147.89L541.6,1148.11L542.1,1148.32L542.6,1148.52L543.1,1148.71L543.6,1148.9L544.1,1149.08L544.6,1149.26L545.1,1149.43L545.6,1149.6L546.1,1149.75L546.6,1149.91L547.1,1150.06L547.6,1150.2L548.1,1150.34L548.6,1150.47L549.1,1150.6L549.6,1150.73L550.1,1150.84L550.6,1150.96L551.1,1151.07L551.6,1151.18L552.1,1151.28L552.6,1151.38L553.1,1151.48L553.6,1151.57L554.1,1151.66L554.6,1151.74L555.1,1151.82L555.6,1151.9L556.1,1151.98L556.6,1152.05L557.1,1152.12L557.6,1152.19L558.1,1152.25L558.6,1152.31L559.1,1152.37L559.6,1152.43" fill="none" stroke="#1c1cc0" stroke-width="1.6" clip-path="url(#c8)"/><text x="364.1" y="1173.6" font-size="14.2" fill="#000" text-anchor="middle" textLength="7.8" lengthAdjust="spacingAndGlyphs" stroke="#fff" stroke-width="0.35">0</text><text x="412.94" y="1173.6" font-size="14.2" fill="#000" text-anchor="middle" textLength="31.2" lengthAdjust="spacingAndGlyphs" stroke="#fff" stroke-width="0.35">1000</text><text x="461.78" y="1173.6" font-size="14.2" fill="#000" text-anchor="middle" textLength="31.2" lengthAdjust="spacingAndGlyphs" stroke="#fff" stroke-width="0.35">2000</text><text x="510.61" y="1173.6" font-size="14.2" fill="#000" text-anchor="middle" textLength="31.2" lengthAdjust="spacingAndGlyphs" stroke="#fff" stroke-width="0.35">3000</text><text x="559.45" y="1173.6" font-size="14.2" fill="#000" text-anchor="middle" textLength="31.2" lengthAdjust="spacingAndGlyphs" stroke="#fff" stroke-width="0.35">4000</text><text x="358.7" y="1154.7" font-size="14.2" fill="#000" text-anchor="end" textLength="7.8" lengthAdjust="spacingAndGlyphs" stroke="#fff" stroke-width="0.35">0</text><text x="358.7" y="1102.1" font-size="14.2" fill="#000" text-anchor="end" textLength="23.4" lengthAdjust="spacingAndGlyphs" stroke="#fff" stroke-width="0.35">100</text><text x="358.7" y="1044.8" font-size="14.2" fill="#000" text-anchor="end" textLength="23.4" lengthAdjust="spacingAndGlyphs" stroke="#fff" stroke-width="0.35">200</text><text x="358.7" y="987.5" font-size="14.2" fill="#000" text-anchor="end" textLength="23.4" lengthAdjust="spacingAndGlyphs" stroke="#fff" stroke-width="0.35">300</text><text x="358.7" y="933.9" font-size="14.2" fill="#000" text-anchor="end" textLength="23.4" lengthAdjust="spacingAndGlyphs" stroke="#fff" stroke-width="0.35">400</text><text x="433.48" y="917.3" font-size="15.6" fill="#000" textLength="37.6" lengthAdjust="spacingAndGlyphs" stroke="#fff" stroke-width="0.35">Loop</text><text x="485.58" y="917.3" font-size="15.6" fill="#000" text-anchor="middle" textLength="8.6" lengthAdjust="spacingAndGlyphs" stroke="#fff" stroke-width="0.35">8</text><text x="325.12" y="1190" font-size="13.2" fill="#000" textLength="53.7" lengthAdjust="spacingAndGlyphs" stroke="#fff" stroke-width="0.35">Seconds</text><text x="387.03" y="1190" font-size="13.2" fill="#000" textLength="29.1" lengthAdjust="spacingAndGlyphs" stroke="#fff" stroke-width="0.35">from</text><text x="423.13" y="1190" font-size="13.2" fill="#000" textLength="79.4" lengthAdjust="spacingAndGlyphs" stroke="#fff" stroke-width="0.35">06-Nov-99</text><text x="511.83" y="1190" font-size="13.2" fill="#000" textLength="85.2" lengthAdjust="spacingAndGlyphs" stroke="#fff" stroke-width="0.35">02:21:13.000</text><text x="0" y="0" font-size="12.9" fill="#000" text-anchor="middle" textLength="106.6" lengthAdjust="spacingAndGlyphs" stroke="#fff" stroke-width="0.35" transform="translate(323.25,1039.5) rotate(-90)">Intensity (DN/s)</text><text x="370.3" y="947.7" font-size="10.9" fill="#111" textLength="10.7" lengthAdjust="spacingAndGlyphs">&#916;t</text><text x="382" y="950.3" font-size="8.3" fill="#111" textLength="12.6" lengthAdjust="spacingAndGlyphs">rise</text><text x="395.6" y="947.7" font-size="10.9" fill="#111" textLength="35.5" lengthAdjust="spacingAndGlyphs">=650s</text><text x="370.3" y="964.7" font-size="10.9" fill="#111" textLength="10.7" lengthAdjust="spacingAndGlyphs">&#916;t</text><text x="382.3" y="967.7" font-size="8.3" fill="#111" textLength="20" lengthAdjust="spacingAndGlyphs">decay</text><text x="403.6" y="964.7" font-size="10.9" fill="#111" textLength="35.5" lengthAdjust="spacingAndGlyphs">=669s</text><text x="370.6" y="981.3" font-size="10.9" fill="#111" textLength="5.7" lengthAdjust="spacingAndGlyphs">&#964;</text><text x="378.3" y="983.9" font-size="7.6" fill="#111" textLength="12.7" lengthAdjust="spacingAndGlyphs">195</text><text x="392.8" y="981.3" font-size="10.9" fill="#111" textLength="42.6" lengthAdjust="spacingAndGlyphs">=1857s</text></g>
</svg></body></html>
